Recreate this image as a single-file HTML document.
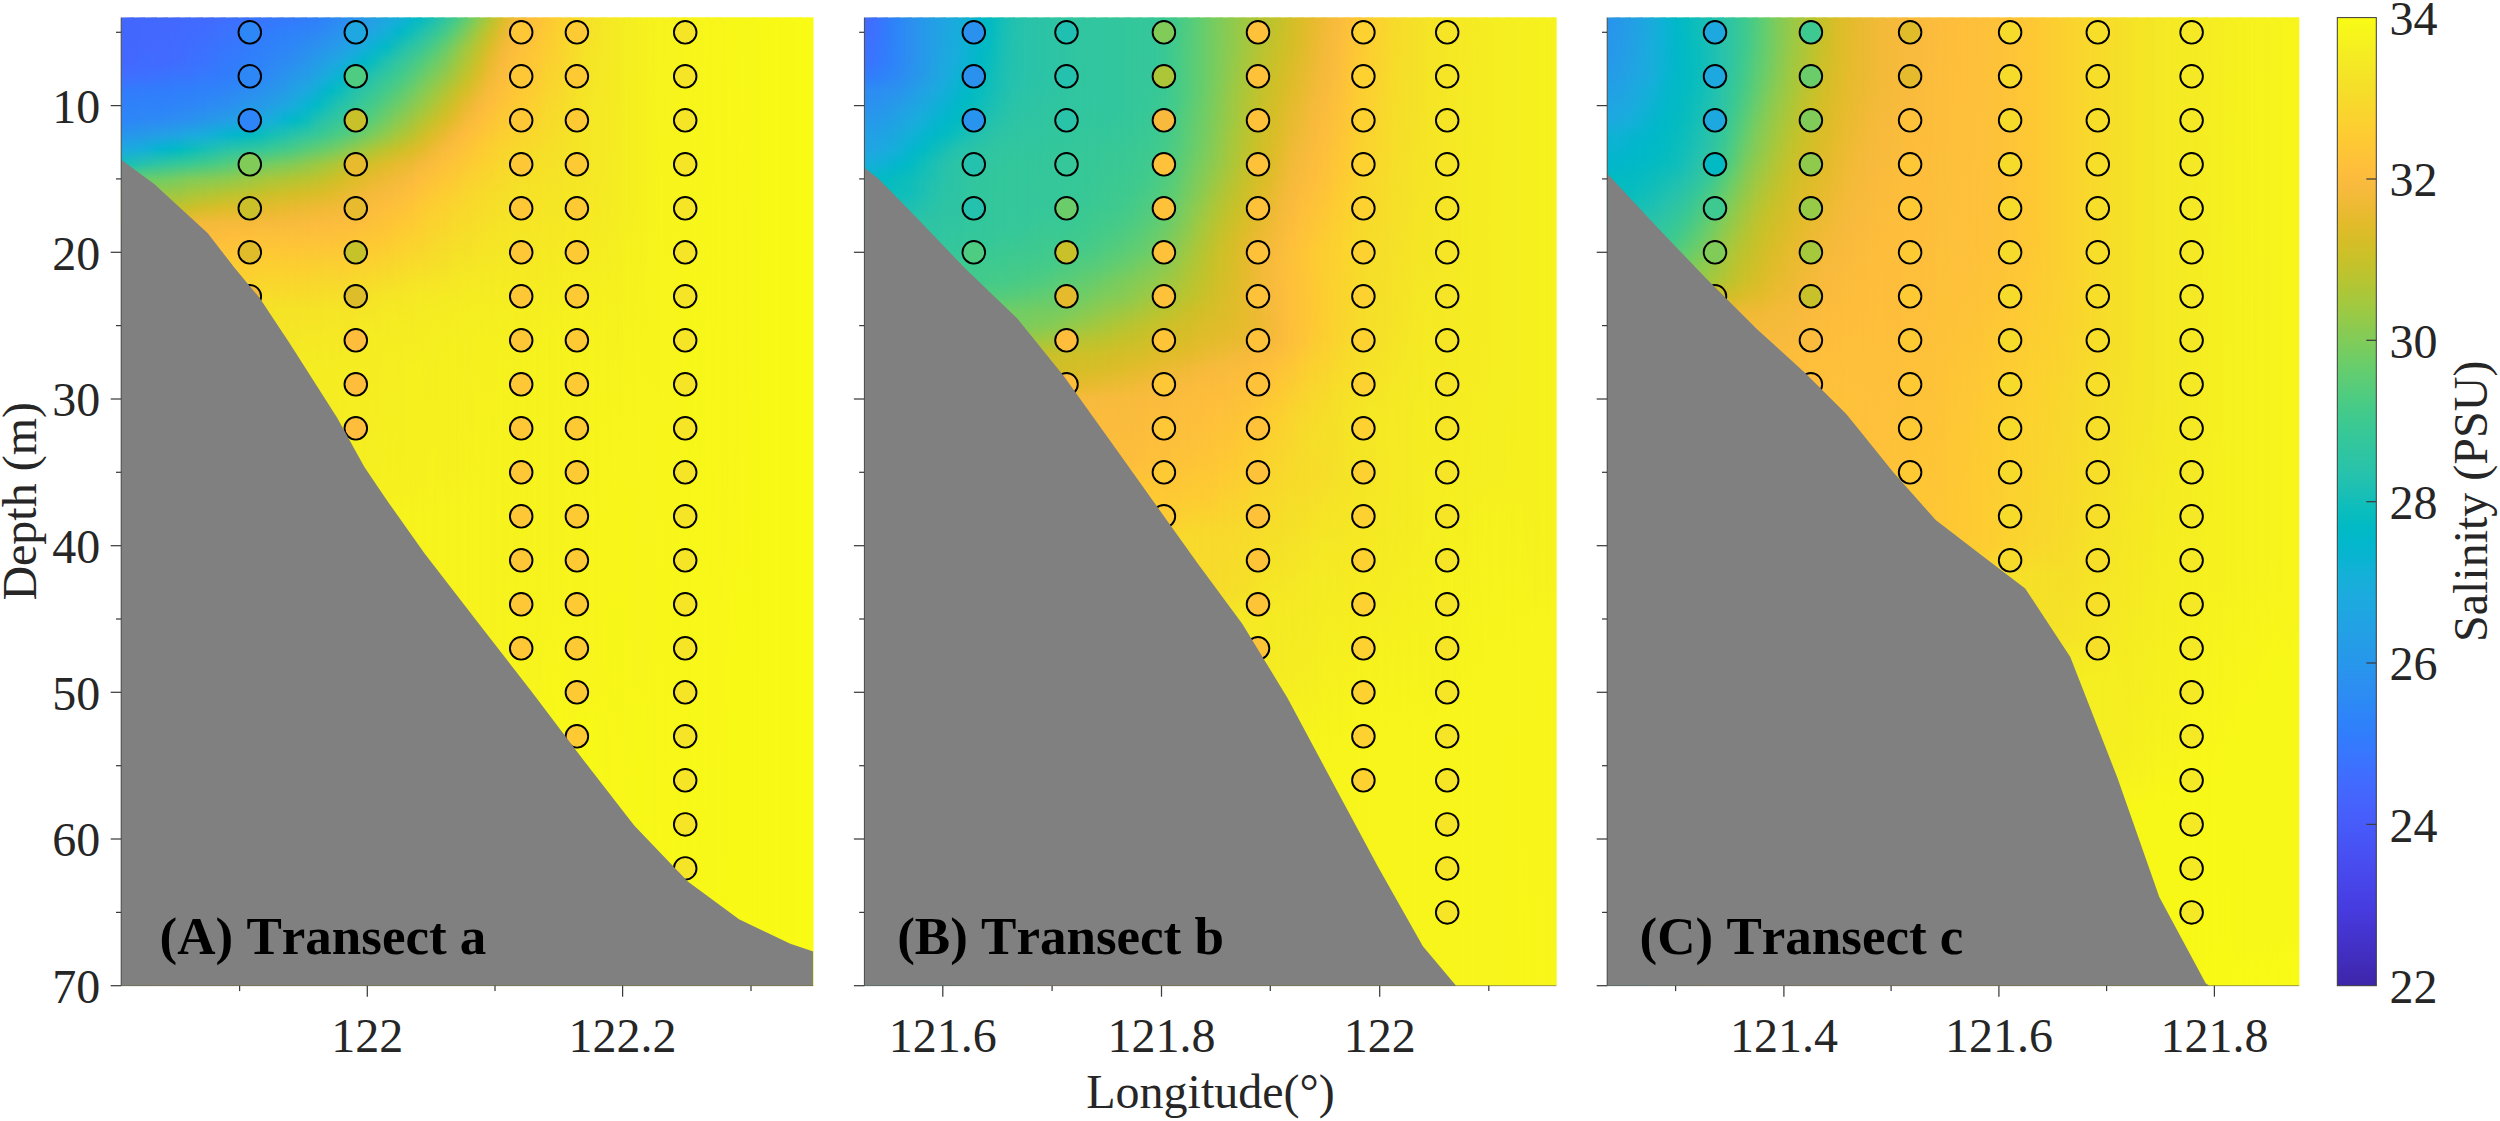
<!DOCTYPE html>
<html><head><meta charset="utf-8"><title>Salinity transects</title>
<style>html,body{margin:0;padding:0;background:#fff;overflow:hidden}svg{display:block}text{font-family:"Liberation Serif","Times New Roman",serif;font-kerning:none}</style></head><body>
<svg width="2500" height="1121" viewBox="0 0 2500 1121">
<defs>
<linearGradient id="hg" x1="0" y1="0" x2="1" y2="0"><stop offset="0" stop-color="#fff" stop-opacity="0"/><stop offset="1" stop-color="#fff" stop-opacity="1"/></linearGradient>
<mask id="hm" maskContentUnits="objectBoundingBox"><rect x="0" y="0" width="1" height="1" fill="url(#hg)"/></mask>
<linearGradient id="g0_0" gradientUnits="userSpaceOnUse" x1="0" y1="17.6" x2="0" y2="985.7">
<stop offset="0.0000" stop-color="#4367fd"/>
<stop offset="0.0455" stop-color="#4368fe"/>
<stop offset="0.0606" stop-color="#3f6fff"/>
<stop offset="0.0758" stop-color="#327cfc"/>
<stop offset="0.1061" stop-color="#2e86f7"/>
<stop offset="0.1212" stop-color="#2895ec"/>
<stop offset="0.1364" stop-color="#1caadf"/>
<stop offset="0.1515" stop-color="#15bfb7"/>
<stop offset="0.1667" stop-color="#62cd70"/>
<stop offset="0.1818" stop-color="#97ca47"/>
<stop offset="1.0000" stop-color="#97ca47"/>
</linearGradient>
<linearGradient id="g0_1" gradientUnits="userSpaceOnUse" x1="0" y1="17.6" x2="0" y2="985.7">
<stop offset="0.0000" stop-color="#4367fd"/>
<stop offset="0.0455" stop-color="#4368fe"/>
<stop offset="0.0606" stop-color="#3f6fff"/>
<stop offset="0.0758" stop-color="#327cfc"/>
<stop offset="0.1061" stop-color="#2d87f6"/>
<stop offset="0.1212" stop-color="#2797eb"/>
<stop offset="0.1364" stop-color="#19acdc"/>
<stop offset="0.1515" stop-color="#1fc0b2"/>
<stop offset="0.1667" stop-color="#66cd6d"/>
<stop offset="0.1818" stop-color="#97ca47"/>
<stop offset="0.1970" stop-color="#c2c22c"/>
<stop offset="1.0000" stop-color="#c2c22c"/>
</linearGradient>
<linearGradient id="g0_2" gradientUnits="userSpaceOnUse" x1="0" y1="17.6" x2="0" y2="985.7">
<stop offset="0.0000" stop-color="#4368fe"/>
<stop offset="0.0303" stop-color="#4368fe"/>
<stop offset="0.0606" stop-color="#3d70ff"/>
<stop offset="0.0758" stop-color="#317dfc"/>
<stop offset="0.1061" stop-color="#2d89f5"/>
<stop offset="0.1212" stop-color="#269ae8"/>
<stop offset="0.1364" stop-color="#15afd9"/>
<stop offset="0.1515" stop-color="#27c2ac"/>
<stop offset="0.1667" stop-color="#6acd6a"/>
<stop offset="0.1818" stop-color="#97ca47"/>
<stop offset="0.1970" stop-color="#c2c22c"/>
<stop offset="1.0000" stop-color="#c2c22c"/>
</linearGradient>
<linearGradient id="g0_3" gradientUnits="userSpaceOnUse" x1="0" y1="17.6" x2="0" y2="985.7">
<stop offset="0.0000" stop-color="#4368fe"/>
<stop offset="0.0455" stop-color="#426afe"/>
<stop offset="0.0606" stop-color="#3c72ff"/>
<stop offset="0.0758" stop-color="#317dfc"/>
<stop offset="0.0909" stop-color="#2f82fa"/>
<stop offset="0.1061" stop-color="#2d8af4"/>
<stop offset="0.1212" stop-color="#259de7"/>
<stop offset="0.1364" stop-color="#09b4d1"/>
<stop offset="0.1515" stop-color="#2ec4a4"/>
<stop offset="0.1667" stop-color="#6dcd67"/>
<stop offset="0.1818" stop-color="#97ca47"/>
<stop offset="0.1970" stop-color="#c2c22c"/>
<stop offset="0.2121" stop-color="#efba35"/>
<stop offset="1.0000" stop-color="#efba35"/>
</linearGradient>
<linearGradient id="g0_4" gradientUnits="userSpaceOnUse" x1="0" y1="17.6" x2="0" y2="985.7">
<stop offset="0.0000" stop-color="#4368fe"/>
<stop offset="0.0455" stop-color="#416bfe"/>
<stop offset="0.0758" stop-color="#317dfc"/>
<stop offset="0.0909" stop-color="#2e83f9"/>
<stop offset="0.1061" stop-color="#2d8cf3"/>
<stop offset="0.1212" stop-color="#23a1e5"/>
<stop offset="0.1364" stop-color="#02b7cb"/>
<stop offset="0.1515" stop-color="#32c69e"/>
<stop offset="0.1667" stop-color="#71cd64"/>
<stop offset="0.1818" stop-color="#9bc944"/>
<stop offset="0.1970" stop-color="#c2c22c"/>
<stop offset="0.2121" stop-color="#efba35"/>
<stop offset="0.2273" stop-color="#fcbd3d"/>
<stop offset="1.0000" stop-color="#fcbd3d"/>
</linearGradient>
<linearGradient id="g0_5" gradientUnits="userSpaceOnUse" x1="0" y1="17.6" x2="0" y2="985.7">
<stop offset="0.0000" stop-color="#4368fe"/>
<stop offset="0.0455" stop-color="#406dfe"/>
<stop offset="0.0758" stop-color="#307ffb"/>
<stop offset="0.0909" stop-color="#2e85f8"/>
<stop offset="0.1061" stop-color="#2c8ef1"/>
<stop offset="0.1212" stop-color="#20a4e3"/>
<stop offset="0.1364" stop-color="#02bac4"/>
<stop offset="0.1515" stop-color="#37c897"/>
<stop offset="0.1667" stop-color="#79cc5e"/>
<stop offset="0.1970" stop-color="#c5c22a"/>
<stop offset="0.2121" stop-color="#efba35"/>
<stop offset="0.2273" stop-color="#fcbd3d"/>
<stop offset="0.2424" stop-color="#fec438"/>
<stop offset="1.0000" stop-color="#fec438"/>
</linearGradient>
<linearGradient id="g0_6" gradientUnits="userSpaceOnUse" x1="0" y1="17.6" x2="0" y2="985.7">
<stop offset="0.0000" stop-color="#426afe"/>
<stop offset="0.0455" stop-color="#3d70ff"/>
<stop offset="0.0606" stop-color="#3875fe"/>
<stop offset="0.0758" stop-color="#2f80fa"/>
<stop offset="0.0909" stop-color="#2e86f7"/>
<stop offset="0.1061" stop-color="#2b91ef"/>
<stop offset="0.1212" stop-color="#1da9e0"/>
<stop offset="0.1364" stop-color="#0bbdbd"/>
<stop offset="0.1515" stop-color="#3bc993"/>
<stop offset="0.1667" stop-color="#81cc59"/>
<stop offset="0.1818" stop-color="#a6c83c"/>
<stop offset="0.1970" stop-color="#cbc029"/>
<stop offset="0.2121" stop-color="#f1ba37"/>
<stop offset="0.2273" stop-color="#fcbd3d"/>
<stop offset="0.2424" stop-color="#fec438"/>
<stop offset="1.0000" stop-color="#fec438"/>
</linearGradient>
<linearGradient id="g0_7" gradientUnits="userSpaceOnUse" x1="0" y1="17.6" x2="0" y2="985.7">
<stop offset="0.0000" stop-color="#426afe"/>
<stop offset="0.0455" stop-color="#3c72ff"/>
<stop offset="0.0758" stop-color="#2f82fa"/>
<stop offset="0.0909" stop-color="#2d89f5"/>
<stop offset="0.1061" stop-color="#2895ec"/>
<stop offset="0.1212" stop-color="#19acdc"/>
<stop offset="0.1364" stop-color="#15bfb7"/>
<stop offset="0.1515" stop-color="#42ca8b"/>
<stop offset="0.1667" stop-color="#84cb56"/>
<stop offset="0.1818" stop-color="#adc638"/>
<stop offset="0.1970" stop-color="#d4be28"/>
<stop offset="0.2121" stop-color="#f3ba39"/>
<stop offset="0.2273" stop-color="#fcbd3d"/>
<stop offset="0.2424" stop-color="#fec438"/>
<stop offset="0.2576" stop-color="#feca33"/>
<stop offset="1.0000" stop-color="#feca33"/>
</linearGradient>
<linearGradient id="g0_8" gradientUnits="userSpaceOnUse" x1="0" y1="17.6" x2="0" y2="985.7">
<stop offset="0.0000" stop-color="#416bfe"/>
<stop offset="0.0606" stop-color="#347afd"/>
<stop offset="0.0758" stop-color="#2e83f9"/>
<stop offset="0.0909" stop-color="#2d8cf3"/>
<stop offset="0.1061" stop-color="#2699e9"/>
<stop offset="0.1212" stop-color="#13b0d7"/>
<stop offset="0.1364" stop-color="#1fc0b2"/>
<stop offset="0.1515" stop-color="#48cb86"/>
<stop offset="0.1667" stop-color="#88cb53"/>
<stop offset="0.1818" stop-color="#b1c635"/>
<stop offset="0.1970" stop-color="#d7be28"/>
<stop offset="0.2121" stop-color="#f3ba39"/>
<stop offset="0.2273" stop-color="#fcbd3d"/>
<stop offset="0.2424" stop-color="#fec438"/>
<stop offset="0.2727" stop-color="#fcd130"/>
<stop offset="1.0000" stop-color="#fcd130"/>
</linearGradient>
<linearGradient id="g0_9" gradientUnits="userSpaceOnUse" x1="0" y1="17.6" x2="0" y2="985.7">
<stop offset="0.0000" stop-color="#3f6fff"/>
<stop offset="0.0606" stop-color="#317dfc"/>
<stop offset="0.0909" stop-color="#2c8ef1"/>
<stop offset="0.1061" stop-color="#259de7"/>
<stop offset="0.1212" stop-color="#09b4d1"/>
<stop offset="0.1364" stop-color="#29c3aa"/>
<stop offset="0.1515" stop-color="#52cc7e"/>
<stop offset="0.1667" stop-color="#8ccb50"/>
<stop offset="0.1818" stop-color="#b8c431"/>
<stop offset="0.1970" stop-color="#ddbd29"/>
<stop offset="0.2121" stop-color="#f6ba3b"/>
<stop offset="0.2273" stop-color="#febe3c"/>
<stop offset="0.2727" stop-color="#fcd130"/>
<stop offset="0.2879" stop-color="#f8d92c"/>
<stop offset="1.0000" stop-color="#f8d92c"/>
</linearGradient>
<linearGradient id="g0_10" gradientUnits="userSpaceOnUse" x1="0" y1="17.6" x2="0" y2="985.7">
<stop offset="0.0000" stop-color="#3d70ff"/>
<stop offset="0.0606" stop-color="#2f80fa"/>
<stop offset="0.0909" stop-color="#2a93ee"/>
<stop offset="0.1061" stop-color="#22a2e4"/>
<stop offset="0.1212" stop-color="#02b7cb"/>
<stop offset="0.1364" stop-color="#2ec4a4"/>
<stop offset="0.1515" stop-color="#5ccc76"/>
<stop offset="0.1667" stop-color="#94ca4a"/>
<stop offset="0.1818" stop-color="#bbc42f"/>
<stop offset="0.1970" stop-color="#ddbd29"/>
<stop offset="0.2121" stop-color="#f6ba3b"/>
<stop offset="0.2273" stop-color="#febf3b"/>
<stop offset="0.2576" stop-color="#fdcd31"/>
<stop offset="0.2727" stop-color="#fbd22f"/>
<stop offset="0.3030" stop-color="#f5e327"/>
<stop offset="1.0000" stop-color="#f5e327"/>
</linearGradient>
<linearGradient id="g0_11" gradientUnits="userSpaceOnUse" x1="0" y1="17.6" x2="0" y2="985.7">
<stop offset="0.0000" stop-color="#3c72ff"/>
<stop offset="0.0303" stop-color="#327cfc"/>
<stop offset="0.0606" stop-color="#2e83f9"/>
<stop offset="0.0758" stop-color="#2d8df2"/>
<stop offset="0.0909" stop-color="#2797eb"/>
<stop offset="0.1061" stop-color="#1fa5e2"/>
<stop offset="0.1212" stop-color="#02bac4"/>
<stop offset="0.1364" stop-color="#31c6a0"/>
<stop offset="0.1515" stop-color="#62cd70"/>
<stop offset="0.1667" stop-color="#9bc944"/>
<stop offset="0.1818" stop-color="#bfc32e"/>
<stop offset="0.1970" stop-color="#e0bc2a"/>
<stop offset="0.2121" stop-color="#f6ba3b"/>
<stop offset="0.2273" stop-color="#febf3b"/>
<stop offset="0.2424" stop-color="#fec834"/>
<stop offset="0.2727" stop-color="#fbd22f"/>
<stop offset="0.3030" stop-color="#f5e327"/>
<stop offset="0.3182" stop-color="#f5e526"/>
<stop offset="1.0000" stop-color="#f5e526"/>
</linearGradient>
<linearGradient id="g0_12" gradientUnits="userSpaceOnUse" x1="0" y1="17.6" x2="0" y2="985.7">
<stop offset="0.0000" stop-color="#3a74fe"/>
<stop offset="0.0303" stop-color="#307ffb"/>
<stop offset="0.0455" stop-color="#2f82fa"/>
<stop offset="0.0606" stop-color="#2d87f6"/>
<stop offset="0.0909" stop-color="#269ae8"/>
<stop offset="0.1061" stop-color="#1caadf"/>
<stop offset="0.1212" stop-color="#08bcbe"/>
<stop offset="0.1364" stop-color="#35c79a"/>
<stop offset="0.1515" stop-color="#6dcd67"/>
<stop offset="0.1667" stop-color="#a2c83f"/>
<stop offset="0.1818" stop-color="#c5c22a"/>
<stop offset="0.1970" stop-color="#e2bc2b"/>
<stop offset="0.2121" stop-color="#f8ba3d"/>
<stop offset="0.2273" stop-color="#fec13a"/>
<stop offset="0.2576" stop-color="#fccf30"/>
<stop offset="0.3030" stop-color="#f5e327"/>
<stop offset="0.3333" stop-color="#f5e625"/>
<stop offset="1.0000" stop-color="#f5e625"/>
</linearGradient>
<linearGradient id="g0_13" gradientUnits="userSpaceOnUse" x1="0" y1="17.6" x2="0" y2="985.7">
<stop offset="0.0000" stop-color="#3777fe"/>
<stop offset="0.0152" stop-color="#317dfc"/>
<stop offset="0.0606" stop-color="#2d8cf3"/>
<stop offset="0.0909" stop-color="#249fe5"/>
<stop offset="0.1061" stop-color="#17aeda"/>
<stop offset="0.1212" stop-color="#15bfb7"/>
<stop offset="0.1364" stop-color="#3bc993"/>
<stop offset="0.1515" stop-color="#75cc61"/>
<stop offset="0.1667" stop-color="#aac73a"/>
<stop offset="0.1818" stop-color="#cbc029"/>
<stop offset="0.1970" stop-color="#e5bb2d"/>
<stop offset="0.2121" stop-color="#f8ba3d"/>
<stop offset="0.2273" stop-color="#fec13a"/>
<stop offset="0.2576" stop-color="#fccf30"/>
<stop offset="0.3030" stop-color="#f5e327"/>
<stop offset="0.3485" stop-color="#f5ea24"/>
<stop offset="1.0000" stop-color="#f5ea24"/>
</linearGradient>
<linearGradient id="g0_14" gradientUnits="userSpaceOnUse" x1="0" y1="17.6" x2="0" y2="985.7">
<stop offset="0.0000" stop-color="#3578fd"/>
<stop offset="0.0152" stop-color="#2f80fa"/>
<stop offset="0.0455" stop-color="#2d8af4"/>
<stop offset="0.0758" stop-color="#269ae8"/>
<stop offset="0.0909" stop-color="#1fa5e2"/>
<stop offset="0.1061" stop-color="#09b4d1"/>
<stop offset="0.1212" stop-color="#1fc0b2"/>
<stop offset="0.1364" stop-color="#42ca8b"/>
<stop offset="0.1515" stop-color="#7dcc5c"/>
<stop offset="0.1667" stop-color="#adc638"/>
<stop offset="0.1818" stop-color="#cfc028"/>
<stop offset="0.1970" stop-color="#e8bb2e"/>
<stop offset="0.2121" stop-color="#f8ba3d"/>
<stop offset="0.2273" stop-color="#fec13a"/>
<stop offset="0.2576" stop-color="#fccf30"/>
<stop offset="0.3030" stop-color="#f5e327"/>
<stop offset="0.3788" stop-color="#f5ed22"/>
<stop offset="1.0000" stop-color="#f5ed22"/>
</linearGradient>
<linearGradient id="g0_15" gradientUnits="userSpaceOnUse" x1="0" y1="17.6" x2="0" y2="985.7">
<stop offset="0.0000" stop-color="#347afd"/>
<stop offset="0.0152" stop-color="#2f82fa"/>
<stop offset="0.0455" stop-color="#2c8ef1"/>
<stop offset="0.0758" stop-color="#22a2e4"/>
<stop offset="0.0909" stop-color="#18addb"/>
<stop offset="0.1061" stop-color="#01b9c7"/>
<stop offset="0.1212" stop-color="#29c3aa"/>
<stop offset="0.1364" stop-color="#4bcb84"/>
<stop offset="0.1515" stop-color="#84cb56"/>
<stop offset="0.1667" stop-color="#b4c533"/>
<stop offset="0.1818" stop-color="#d4be28"/>
<stop offset="0.1970" stop-color="#eaba31"/>
<stop offset="0.2121" stop-color="#f9bb3d"/>
<stop offset="0.2273" stop-color="#fec13a"/>
<stop offset="0.2576" stop-color="#fccf30"/>
<stop offset="0.3030" stop-color="#f5e327"/>
<stop offset="0.3939" stop-color="#f5ee21"/>
<stop offset="1.0000" stop-color="#f5ee21"/>
</linearGradient>
<linearGradient id="g0_16" gradientUnits="userSpaceOnUse" x1="0" y1="17.6" x2="0" y2="985.7">
<stop offset="0.0000" stop-color="#327cfc"/>
<stop offset="0.0606" stop-color="#259de7"/>
<stop offset="0.0758" stop-color="#1da9e0"/>
<stop offset="0.0909" stop-color="#09b4d1"/>
<stop offset="0.1061" stop-color="#0bbdbd"/>
<stop offset="0.1212" stop-color="#31c6a0"/>
<stop offset="0.1364" stop-color="#58cc79"/>
<stop offset="0.1515" stop-color="#90ca4d"/>
<stop offset="0.1667" stop-color="#b8c431"/>
<stop offset="0.1818" stop-color="#d7be28"/>
<stop offset="0.1970" stop-color="#ecba33"/>
<stop offset="0.2121" stop-color="#f9bb3d"/>
<stop offset="0.2273" stop-color="#fec13a"/>
<stop offset="0.2576" stop-color="#fccf30"/>
<stop offset="0.3030" stop-color="#f5e327"/>
<stop offset="0.3485" stop-color="#f5eb23"/>
<stop offset="0.3939" stop-color="#f5ee21"/>
<stop offset="1.0000" stop-color="#f5ee21"/>
</linearGradient>
<linearGradient id="g0_17" gradientUnits="userSpaceOnUse" x1="0" y1="17.6" x2="0" y2="985.7">
<stop offset="0.0000" stop-color="#307ffb"/>
<stop offset="0.0303" stop-color="#2b91ef"/>
<stop offset="0.0606" stop-color="#1fa5e2"/>
<stop offset="0.0909" stop-color="#01bac6"/>
<stop offset="0.1061" stop-color="#22c1b0"/>
<stop offset="0.1212" stop-color="#37c897"/>
<stop offset="0.1364" stop-color="#62cd70"/>
<stop offset="0.1515" stop-color="#9bc944"/>
<stop offset="0.1667" stop-color="#bfc32e"/>
<stop offset="0.1818" stop-color="#dabd28"/>
<stop offset="0.1970" stop-color="#efba35"/>
<stop offset="0.2121" stop-color="#fbbc3d"/>
<stop offset="0.2273" stop-color="#fec13a"/>
<stop offset="0.2727" stop-color="#f9d72c"/>
<stop offset="0.3030" stop-color="#f5e327"/>
<stop offset="0.3485" stop-color="#f5eb23"/>
<stop offset="0.3939" stop-color="#f5ee21"/>
<stop offset="1.0000" stop-color="#f5ee21"/>
</linearGradient>
<linearGradient id="g0_18" gradientUnits="userSpaceOnUse" x1="0" y1="17.6" x2="0" y2="985.7">
<stop offset="0.0000" stop-color="#2e85f8"/>
<stop offset="0.0152" stop-color="#2d8df2"/>
<stop offset="0.0455" stop-color="#22a2e4"/>
<stop offset="0.0606" stop-color="#17aeda"/>
<stop offset="0.0758" stop-color="#01b8c9"/>
<stop offset="0.0909" stop-color="#15bfb7"/>
<stop offset="0.1061" stop-color="#2ec4a4"/>
<stop offset="0.1212" stop-color="#42ca8b"/>
<stop offset="0.1364" stop-color="#6dcd67"/>
<stop offset="0.1515" stop-color="#a6c83c"/>
<stop offset="0.1667" stop-color="#c8c129"/>
<stop offset="0.1818" stop-color="#e0bc2a"/>
<stop offset="0.1970" stop-color="#f1ba37"/>
<stop offset="0.2121" stop-color="#fbbc3d"/>
<stop offset="0.2273" stop-color="#fec13a"/>
<stop offset="0.2879" stop-color="#f6e028"/>
<stop offset="0.3030" stop-color="#f5e526"/>
<stop offset="0.3636" stop-color="#f5ed22"/>
<stop offset="1.0000" stop-color="#f5ee21"/>
</linearGradient>
<linearGradient id="g0_19" gradientUnits="userSpaceOnUse" x1="0" y1="17.6" x2="0" y2="985.7">
<stop offset="0.0000" stop-color="#2d8af4"/>
<stop offset="0.0303" stop-color="#259de7"/>
<stop offset="0.0455" stop-color="#1da9e0"/>
<stop offset="0.0606" stop-color="#07b5d0"/>
<stop offset="0.0758" stop-color="#0bbdbd"/>
<stop offset="0.0909" stop-color="#27c2ac"/>
<stop offset="0.1061" stop-color="#35c79a"/>
<stop offset="0.1212" stop-color="#4ecc81"/>
<stop offset="0.1364" stop-color="#7dcc5c"/>
<stop offset="0.1515" stop-color="#b4c533"/>
<stop offset="0.1667" stop-color="#d2bf27"/>
<stop offset="0.1818" stop-color="#e5bb2d"/>
<stop offset="0.1970" stop-color="#f3ba39"/>
<stop offset="0.2121" stop-color="#fcbd3d"/>
<stop offset="0.2273" stop-color="#fec239"/>
<stop offset="0.3030" stop-color="#f5e526"/>
<stop offset="0.3636" stop-color="#f5ed22"/>
<stop offset="1.0000" stop-color="#f5ee21"/>
</linearGradient>
<linearGradient id="g0_20" gradientUnits="userSpaceOnUse" x1="0" y1="17.6" x2="0" y2="985.7">
<stop offset="0.0000" stop-color="#2b91ef"/>
<stop offset="0.0303" stop-color="#20a4e3"/>
<stop offset="0.0455" stop-color="#11b1d6"/>
<stop offset="0.0606" stop-color="#03bbc2"/>
<stop offset="0.0758" stop-color="#22c1b0"/>
<stop offset="0.1061" stop-color="#3fca8e"/>
<stop offset="0.1212" stop-color="#5ccc76"/>
<stop offset="0.1364" stop-color="#90ca4d"/>
<stop offset="0.1515" stop-color="#c2c22c"/>
<stop offset="0.1667" stop-color="#ddbd29"/>
<stop offset="0.1970" stop-color="#f6ba3b"/>
<stop offset="0.2121" stop-color="#fcbd3d"/>
<stop offset="0.2424" stop-color="#feca33"/>
<stop offset="0.2879" stop-color="#f6e028"/>
<stop offset="0.3485" stop-color="#f5ed22"/>
<stop offset="0.4848" stop-color="#f6f01f"/>
<stop offset="1.0000" stop-color="#f6f01f"/>
</linearGradient>
<linearGradient id="g0_21" gradientUnits="userSpaceOnUse" x1="0" y1="17.6" x2="0" y2="985.7">
<stop offset="0.0000" stop-color="#2798ea"/>
<stop offset="0.0152" stop-color="#23a1e5"/>
<stop offset="0.0303" stop-color="#19acdc"/>
<stop offset="0.0455" stop-color="#02b7cb"/>
<stop offset="0.0606" stop-color="#19bfb5"/>
<stop offset="0.0758" stop-color="#2ec4a4"/>
<stop offset="0.0909" stop-color="#3bc993"/>
<stop offset="0.1061" stop-color="#4ecc81"/>
<stop offset="0.1212" stop-color="#6dcd67"/>
<stop offset="0.1364" stop-color="#9fc942"/>
<stop offset="0.1515" stop-color="#cfc028"/>
<stop offset="0.1667" stop-color="#e2bc2b"/>
<stop offset="0.1818" stop-color="#f1ba37"/>
<stop offset="0.1970" stop-color="#f9bb3d"/>
<stop offset="0.2121" stop-color="#febe3c"/>
<stop offset="0.2424" stop-color="#fdcc32"/>
<stop offset="0.2879" stop-color="#f5e128"/>
<stop offset="0.3182" stop-color="#f5ea24"/>
<stop offset="0.3485" stop-color="#f5ed22"/>
<stop offset="0.4697" stop-color="#f5ee21"/>
<stop offset="0.5152" stop-color="#f6f21e"/>
<stop offset="1.0000" stop-color="#f6f21e"/>
</linearGradient>
<linearGradient id="g0_22" gradientUnits="userSpaceOnUse" x1="0" y1="17.6" x2="0" y2="985.7">
<stop offset="0.0000" stop-color="#249fe5"/>
<stop offset="0.0152" stop-color="#1ea8e0"/>
<stop offset="0.0303" stop-color="#09b4d1"/>
<stop offset="0.0455" stop-color="#0bbdbd"/>
<stop offset="0.0606" stop-color="#2bc3a8"/>
<stop offset="0.0758" stop-color="#37c897"/>
<stop offset="0.0909" stop-color="#48cb86"/>
<stop offset="0.1061" stop-color="#5fcd73"/>
<stop offset="0.1212" stop-color="#81cc59"/>
<stop offset="0.1364" stop-color="#b1c635"/>
<stop offset="0.1515" stop-color="#d7be28"/>
<stop offset="0.1667" stop-color="#eaba31"/>
<stop offset="0.1818" stop-color="#f6ba3b"/>
<stop offset="0.1970" stop-color="#fcbd3d"/>
<stop offset="0.2424" stop-color="#fdcd31"/>
<stop offset="0.2879" stop-color="#f5e327"/>
<stop offset="0.3333" stop-color="#f5ed22"/>
<stop offset="0.4545" stop-color="#f5ee21"/>
<stop offset="0.5303" stop-color="#f7f31d"/>
<stop offset="1.0000" stop-color="#f7f31d"/>
</linearGradient>
<linearGradient id="g0_23" gradientUnits="userSpaceOnUse" x1="0" y1="17.6" x2="0" y2="985.7">
<stop offset="0.0000" stop-color="#1ea7e1"/>
<stop offset="0.0152" stop-color="#13b0d7"/>
<stop offset="0.0303" stop-color="#02bac4"/>
<stop offset="0.0455" stop-color="#24c2ae"/>
<stop offset="0.0758" stop-color="#45cb89"/>
<stop offset="0.1061" stop-color="#75cc61"/>
<stop offset="0.1212" stop-color="#94ca4a"/>
<stop offset="0.1364" stop-color="#bfc32e"/>
<stop offset="0.1515" stop-color="#e0bc2a"/>
<stop offset="0.1667" stop-color="#efba35"/>
<stop offset="0.1818" stop-color="#f9bb3d"/>
<stop offset="0.1970" stop-color="#febf3b"/>
<stop offset="0.2273" stop-color="#fec834"/>
<stop offset="0.2727" stop-color="#f6de29"/>
<stop offset="0.3030" stop-color="#f5ea24"/>
<stop offset="0.3485" stop-color="#f5ee21"/>
<stop offset="0.4848" stop-color="#f6f01f"/>
<stop offset="0.5152" stop-color="#f7f31d"/>
<stop offset="1.0000" stop-color="#f7f31d"/>
</linearGradient>
<linearGradient id="g0_24" gradientUnits="userSpaceOnUse" x1="0" y1="17.6" x2="0" y2="985.7">
<stop offset="0.0000" stop-color="#18addb"/>
<stop offset="0.0152" stop-color="#03b6cc"/>
<stop offset="0.0455" stop-color="#31c6a0"/>
<stop offset="0.0606" stop-color="#3fca8e"/>
<stop offset="0.0909" stop-color="#6dcd67"/>
<stop offset="0.1212" stop-color="#a6c83c"/>
<stop offset="0.1364" stop-color="#cbc029"/>
<stop offset="0.1515" stop-color="#e8bb2e"/>
<stop offset="0.1667" stop-color="#f3ba39"/>
<stop offset="0.1818" stop-color="#fcbd3d"/>
<stop offset="0.2121" stop-color="#fec735"/>
<stop offset="0.2879" stop-color="#f5e625"/>
<stop offset="0.3182" stop-color="#f5ed22"/>
<stop offset="0.4848" stop-color="#f6f01f"/>
<stop offset="0.5152" stop-color="#f7f31d"/>
<stop offset="1.0000" stop-color="#f7f31d"/>
</linearGradient>
<linearGradient id="g0_25" gradientUnits="userSpaceOnUse" x1="0" y1="17.6" x2="0" y2="985.7">
<stop offset="0.0000" stop-color="#07b5d0"/>
<stop offset="0.0152" stop-color="#0bbdbd"/>
<stop offset="0.0303" stop-color="#2cc4a6"/>
<stop offset="0.0606" stop-color="#52cc7e"/>
<stop offset="0.0758" stop-color="#6acd6a"/>
<stop offset="0.1212" stop-color="#b8c431"/>
<stop offset="0.1364" stop-color="#d7be28"/>
<stop offset="0.1515" stop-color="#ecba33"/>
<stop offset="0.1667" stop-color="#f9bb3d"/>
<stop offset="0.1818" stop-color="#febf3b"/>
<stop offset="0.2121" stop-color="#feca33"/>
<stop offset="0.2879" stop-color="#f5e825"/>
<stop offset="0.3636" stop-color="#f6f01f"/>
<stop offset="0.4848" stop-color="#f6f01f"/>
<stop offset="0.5152" stop-color="#f7f31d"/>
<stop offset="1.0000" stop-color="#f7f31d"/>
</linearGradient>
<linearGradient id="g0_26" gradientUnits="userSpaceOnUse" x1="0" y1="17.6" x2="0" y2="985.7">
<stop offset="0.0000" stop-color="#02bac4"/>
<stop offset="0.0152" stop-color="#22c1b0"/>
<stop offset="0.0455" stop-color="#4ecc81"/>
<stop offset="0.0758" stop-color="#81cc59"/>
<stop offset="0.0909" stop-color="#97ca47"/>
<stop offset="0.1061" stop-color="#b1c635"/>
<stop offset="0.1212" stop-color="#cbc029"/>
<stop offset="0.1364" stop-color="#e2bc2b"/>
<stop offset="0.1515" stop-color="#f6ba3b"/>
<stop offset="0.1667" stop-color="#febe3c"/>
<stop offset="0.1970" stop-color="#feca33"/>
<stop offset="0.2424" stop-color="#f9d72c"/>
<stop offset="0.2879" stop-color="#f5ea24"/>
<stop offset="0.3636" stop-color="#f6f01f"/>
<stop offset="0.4697" stop-color="#f6f01f"/>
<stop offset="0.5152" stop-color="#f7f31d"/>
<stop offset="1.0000" stop-color="#f7f31d"/>
</linearGradient>
<linearGradient id="g0_27" gradientUnits="userSpaceOnUse" x1="0" y1="17.6" x2="0" y2="985.7">
<stop offset="0.0000" stop-color="#19bfb5"/>
<stop offset="0.0303" stop-color="#4bcb84"/>
<stop offset="0.0455" stop-color="#66cd6d"/>
<stop offset="0.0758" stop-color="#97ca47"/>
<stop offset="0.1061" stop-color="#c5c22a"/>
<stop offset="0.1212" stop-color="#ddbd29"/>
<stop offset="0.1364" stop-color="#efba35"/>
<stop offset="0.1515" stop-color="#fbbc3d"/>
<stop offset="0.1667" stop-color="#fec239"/>
<stop offset="0.1970" stop-color="#fccf30"/>
<stop offset="0.2424" stop-color="#f7db2b"/>
<stop offset="0.3030" stop-color="#f5ed22"/>
<stop offset="0.5152" stop-color="#f7f31d"/>
<stop offset="1.0000" stop-color="#f7f31d"/>
</linearGradient>
<linearGradient id="g0_28" gradientUnits="userSpaceOnUse" x1="0" y1="17.6" x2="0" y2="985.7">
<stop offset="0.0000" stop-color="#2ec4a4"/>
<stop offset="0.0152" stop-color="#42ca8b"/>
<stop offset="0.0303" stop-color="#62cd70"/>
<stop offset="0.0758" stop-color="#adc638"/>
<stop offset="0.0909" stop-color="#c2c22c"/>
<stop offset="0.1061" stop-color="#d7be28"/>
<stop offset="0.1212" stop-color="#eaba31"/>
<stop offset="0.1364" stop-color="#f9bb3d"/>
<stop offset="0.1515" stop-color="#fec13a"/>
<stop offset="0.1818" stop-color="#fdcd31"/>
<stop offset="0.2576" stop-color="#f5e128"/>
<stop offset="0.2879" stop-color="#f5eb23"/>
<stop offset="0.3485" stop-color="#f6f01f"/>
<stop offset="0.4697" stop-color="#f6f01f"/>
<stop offset="0.5000" stop-color="#f7f31d"/>
<stop offset="1.0000" stop-color="#f7f31d"/>
</linearGradient>
<linearGradient id="g0_29" gradientUnits="userSpaceOnUse" x1="0" y1="17.6" x2="0" y2="985.7">
<stop offset="0.0000" stop-color="#42ca8b"/>
<stop offset="0.0152" stop-color="#62cd70"/>
<stop offset="0.0303" stop-color="#84cb56"/>
<stop offset="0.0455" stop-color="#9bc944"/>
<stop offset="0.0606" stop-color="#adc638"/>
<stop offset="0.0758" stop-color="#c5c22a"/>
<stop offset="0.0909" stop-color="#d7be28"/>
<stop offset="0.1061" stop-color="#e8bb2e"/>
<stop offset="0.1212" stop-color="#f8ba3d"/>
<stop offset="0.1364" stop-color="#febf3b"/>
<stop offset="0.1970" stop-color="#fad62d"/>
<stop offset="0.2576" stop-color="#f5e526"/>
<stop offset="0.3030" stop-color="#f5ed22"/>
<stop offset="0.3485" stop-color="#f6f01f"/>
<stop offset="0.4697" stop-color="#f6f01f"/>
<stop offset="0.5000" stop-color="#f7f31d"/>
<stop offset="1.0000" stop-color="#f7f31d"/>
</linearGradient>
<linearGradient id="g0_30" gradientUnits="userSpaceOnUse" x1="0" y1="17.6" x2="0" y2="985.7">
<stop offset="0.0000" stop-color="#62cd70"/>
<stop offset="0.0303" stop-color="#a2c83f"/>
<stop offset="0.0606" stop-color="#c5c22a"/>
<stop offset="0.0758" stop-color="#d7be28"/>
<stop offset="0.0909" stop-color="#eaba31"/>
<stop offset="0.1061" stop-color="#f6ba3b"/>
<stop offset="0.1212" stop-color="#febe3c"/>
<stop offset="0.1818" stop-color="#fad62d"/>
<stop offset="0.2424" stop-color="#f5e128"/>
<stop offset="0.2727" stop-color="#f5ea24"/>
<stop offset="0.3030" stop-color="#f5ee21"/>
<stop offset="0.5000" stop-color="#f7f31d"/>
<stop offset="1.0000" stop-color="#f7f31d"/>
</linearGradient>
<linearGradient id="g0_31" gradientUnits="userSpaceOnUse" x1="0" y1="17.6" x2="0" y2="985.7">
<stop offset="0.0000" stop-color="#8ccb50"/>
<stop offset="0.0152" stop-color="#aac73a"/>
<stop offset="0.0303" stop-color="#bfc32e"/>
<stop offset="0.0455" stop-color="#cfc028"/>
<stop offset="0.0606" stop-color="#ddbd29"/>
<stop offset="0.0909" stop-color="#f8ba3d"/>
<stop offset="0.1061" stop-color="#febe3c"/>
<stop offset="0.1364" stop-color="#feca33"/>
<stop offset="0.1818" stop-color="#f8d92c"/>
<stop offset="0.2879" stop-color="#f5ed22"/>
<stop offset="0.3333" stop-color="#f6f01f"/>
<stop offset="0.5000" stop-color="#f7f31d"/>
<stop offset="1.0000" stop-color="#f7f31d"/>
</linearGradient>
<linearGradient id="g0_32" gradientUnits="userSpaceOnUse" x1="0" y1="17.6" x2="0" y2="985.7">
<stop offset="0.0000" stop-color="#b1c635"/>
<stop offset="0.0152" stop-color="#c8c129"/>
<stop offset="0.0303" stop-color="#dabd28"/>
<stop offset="0.0455" stop-color="#e8bb2e"/>
<stop offset="0.0758" stop-color="#f9bb3d"/>
<stop offset="0.0909" stop-color="#febe3c"/>
<stop offset="0.1364" stop-color="#fccf30"/>
<stop offset="0.1818" stop-color="#f7dc2a"/>
<stop offset="0.2727" stop-color="#f5eb23"/>
<stop offset="0.3333" stop-color="#f6f01f"/>
<stop offset="0.4848" stop-color="#f7f31d"/>
<stop offset="1.0000" stop-color="#f7f31d"/>
</linearGradient>
<linearGradient id="g0_33" gradientUnits="userSpaceOnUse" x1="0" y1="17.6" x2="0" y2="985.7">
<stop offset="0.0000" stop-color="#d7be28"/>
<stop offset="0.0152" stop-color="#e5bb2d"/>
<stop offset="0.0303" stop-color="#f1ba37"/>
<stop offset="0.0455" stop-color="#f8ba3d"/>
<stop offset="0.0758" stop-color="#febf3b"/>
<stop offset="0.1364" stop-color="#fad42e"/>
<stop offset="0.1970" stop-color="#f5e128"/>
<stop offset="0.2879" stop-color="#f5ed22"/>
<stop offset="0.3636" stop-color="#f6f21e"/>
<stop offset="1.0000" stop-color="#f7f31d"/>
</linearGradient>
<linearGradient id="g0_34" gradientUnits="userSpaceOnUse" x1="0" y1="17.6" x2="0" y2="985.7">
<stop offset="0.0000" stop-color="#efba35"/>
<stop offset="0.0152" stop-color="#f8ba3d"/>
<stop offset="0.0455" stop-color="#febf3b"/>
<stop offset="0.0909" stop-color="#fec834"/>
<stop offset="0.1364" stop-color="#f9d72c"/>
<stop offset="0.1818" stop-color="#f5e128"/>
<stop offset="0.3182" stop-color="#f6f01f"/>
<stop offset="0.7121" stop-color="#f7f51b"/>
<stop offset="1.0000" stop-color="#f7f51b"/>
</linearGradient>
<linearGradient id="g0_35" gradientUnits="userSpaceOnUse" x1="0" y1="17.6" x2="0" y2="985.7">
<stop offset="0.0000" stop-color="#fcbd3d"/>
<stop offset="0.0758" stop-color="#feca33"/>
<stop offset="0.1515" stop-color="#f6de29"/>
<stop offset="0.1818" stop-color="#f5e327"/>
<stop offset="0.3485" stop-color="#f6f21e"/>
<stop offset="1.0000" stop-color="#f7f51b"/>
</linearGradient>
<linearGradient id="g0_36" gradientUnits="userSpaceOnUse" x1="0" y1="17.6" x2="0" y2="985.7">
<stop offset="0.0000" stop-color="#fec239"/>
<stop offset="0.0606" stop-color="#feca33"/>
<stop offset="0.1515" stop-color="#f6e028"/>
<stop offset="0.3485" stop-color="#f6f21e"/>
<stop offset="0.6818" stop-color="#f7f31d"/>
<stop offset="0.7424" stop-color="#f8f818"/>
<stop offset="1.0000" stop-color="#f8f818"/>
</linearGradient>
<linearGradient id="g0_37" gradientUnits="userSpaceOnUse" x1="0" y1="17.6" x2="0" y2="985.7">
<stop offset="0.0000" stop-color="#fec834"/>
<stop offset="0.1061" stop-color="#f7db2b"/>
<stop offset="0.1818" stop-color="#f5e526"/>
<stop offset="0.3333" stop-color="#f6f21e"/>
<stop offset="0.6212" stop-color="#f7f31d"/>
<stop offset="0.7424" stop-color="#f8f818"/>
<stop offset="1.0000" stop-color="#f8f818"/>
</linearGradient>
<linearGradient id="g0_38" gradientUnits="userSpaceOnUse" x1="0" y1="17.6" x2="0" y2="985.7">
<stop offset="0.0000" stop-color="#fcd130"/>
<stop offset="0.0455" stop-color="#fad42e"/>
<stop offset="0.1364" stop-color="#f5e128"/>
<stop offset="0.3333" stop-color="#f6f21e"/>
<stop offset="0.5909" stop-color="#f7f31d"/>
<stop offset="0.7424" stop-color="#f8f818"/>
<stop offset="1.0000" stop-color="#f8f818"/>
</linearGradient>
<linearGradient id="g0_39" gradientUnits="userSpaceOnUse" x1="0" y1="17.6" x2="0" y2="985.7">
<stop offset="0.0000" stop-color="#f9d72c"/>
<stop offset="0.1061" stop-color="#f5e128"/>
<stop offset="0.3182" stop-color="#f6f21e"/>
<stop offset="0.7121" stop-color="#f7f51b"/>
<stop offset="0.7424" stop-color="#f8f818"/>
<stop offset="1.0000" stop-color="#f8f818"/>
</linearGradient>
<linearGradient id="g0_40" gradientUnits="userSpaceOnUse" x1="0" y1="17.6" x2="0" y2="985.7">
<stop offset="0.0000" stop-color="#f6de29"/>
<stop offset="0.0909" stop-color="#f5e526"/>
<stop offset="0.1667" stop-color="#f5e625"/>
<stop offset="0.3182" stop-color="#f6f21e"/>
<stop offset="0.6970" stop-color="#f7f51b"/>
<stop offset="0.7273" stop-color="#f8f818"/>
<stop offset="1.0000" stop-color="#f8f818"/>
</linearGradient>
<linearGradient id="g0_41" gradientUnits="userSpaceOnUse" x1="0" y1="17.6" x2="0" y2="985.7">
<stop offset="0.0000" stop-color="#f5e327"/>
<stop offset="0.0909" stop-color="#f5e825"/>
<stop offset="0.1667" stop-color="#f5e825"/>
<stop offset="0.3485" stop-color="#f7f31d"/>
<stop offset="0.6970" stop-color="#f7f51b"/>
<stop offset="0.7273" stop-color="#f8f818"/>
<stop offset="1.0000" stop-color="#f8f818"/>
</linearGradient>
<linearGradient id="g0_42" gradientUnits="userSpaceOnUse" x1="0" y1="17.6" x2="0" y2="985.7">
<stop offset="0.0000" stop-color="#f5e825"/>
<stop offset="0.1970" stop-color="#f5eb23"/>
<stop offset="0.3030" stop-color="#f6f21e"/>
<stop offset="0.4545" stop-color="#f7f51b"/>
<stop offset="1.0000" stop-color="#f8f818"/>
</linearGradient>
<linearGradient id="g0_43" gradientUnits="userSpaceOnUse" x1="0" y1="17.6" x2="0" y2="985.7">
<stop offset="0.0000" stop-color="#f5eb23"/>
<stop offset="0.1970" stop-color="#f5ed22"/>
<stop offset="0.4394" stop-color="#f7f51b"/>
<stop offset="1.0000" stop-color="#f8f818"/>
</linearGradient>
<linearGradient id="g0_44" gradientUnits="userSpaceOnUse" x1="0" y1="17.6" x2="0" y2="985.7">
<stop offset="0.0000" stop-color="#f5ee21"/>
<stop offset="0.1970" stop-color="#f5ee21"/>
<stop offset="0.2424" stop-color="#f6f21e"/>
<stop offset="0.4242" stop-color="#f7f51b"/>
<stop offset="1.0000" stop-color="#f8f818"/>
</linearGradient>
<linearGradient id="g0_45" gradientUnits="userSpaceOnUse" x1="0" y1="17.6" x2="0" y2="985.7">
<stop offset="0.0000" stop-color="#f6f01f"/>
<stop offset="0.2121" stop-color="#f6f01f"/>
<stop offset="0.3939" stop-color="#f7f51b"/>
<stop offset="0.6818" stop-color="#f7f51b"/>
<stop offset="0.7121" stop-color="#f8f818"/>
<stop offset="1.0000" stop-color="#f8f818"/>
</linearGradient>
<linearGradient id="g0_46" gradientUnits="userSpaceOnUse" x1="0" y1="17.6" x2="0" y2="985.7">
<stop offset="0.0000" stop-color="#f6f21e"/>
<stop offset="1.0000" stop-color="#f8f818"/>
</linearGradient>
<linearGradient id="g0_47" gradientUnits="userSpaceOnUse" x1="0" y1="17.6" x2="0" y2="985.7">
<stop offset="0.0000" stop-color="#f7f31d"/>
<stop offset="1.0000" stop-color="#f8f818"/>
</linearGradient>
<linearGradient id="g0_48" gradientUnits="userSpaceOnUse" x1="0" y1="17.6" x2="0" y2="985.7">
<stop offset="0.0000" stop-color="#f7f31d"/>
<stop offset="1.0000" stop-color="#f8f818"/>
</linearGradient>
<linearGradient id="g0_49" gradientUnits="userSpaceOnUse" x1="0" y1="17.6" x2="0" y2="985.7">
<stop offset="0.0000" stop-color="#f7f51b"/>
<stop offset="1.0000" stop-color="#f8f818"/>
</linearGradient>
<linearGradient id="g0_50" gradientUnits="userSpaceOnUse" x1="0" y1="17.6" x2="0" y2="985.7">
<stop offset="0.0000" stop-color="#f7f51b"/>
<stop offset="1.0000" stop-color="#f8f818"/>
</linearGradient>
<linearGradient id="g0_51" gradientUnits="userSpaceOnUse" x1="0" y1="17.6" x2="0" y2="985.7">
<stop offset="0.0000" stop-color="#f8f61a"/>
<stop offset="1.0000" stop-color="#f8f818"/>
</linearGradient>
<linearGradient id="g0_52" gradientUnits="userSpaceOnUse" x1="0" y1="17.6" x2="0" y2="985.7">
<stop offset="0.0000" stop-color="#f8f61a"/>
<stop offset="0.5152" stop-color="#f8f61a"/>
<stop offset="1.0000" stop-color="#f9f916"/>
</linearGradient>
<linearGradient id="g0_53" gradientUnits="userSpaceOnUse" x1="0" y1="17.6" x2="0" y2="985.7">
<stop offset="0.0000" stop-color="#f8f818"/>
<stop offset="0.4848" stop-color="#f8f61a"/>
<stop offset="0.6667" stop-color="#f9f916"/>
<stop offset="1.0000" stop-color="#f9f916"/>
</linearGradient>
<linearGradient id="g0_54" gradientUnits="userSpaceOnUse" x1="0" y1="17.6" x2="0" y2="985.7">
<stop offset="0.0000" stop-color="#f8f818"/>
<stop offset="0.2879" stop-color="#f8f61a"/>
<stop offset="0.6212" stop-color="#f9f916"/>
<stop offset="1.0000" stop-color="#f9f916"/>
</linearGradient>
<linearGradient id="g0_55" gradientUnits="userSpaceOnUse" x1="0" y1="17.6" x2="0" y2="985.7">
<stop offset="0.0000" stop-color="#f8f818"/>
<stop offset="1.0000" stop-color="#f9f916"/>
</linearGradient>
<linearGradient id="g0_56" gradientUnits="userSpaceOnUse" x1="0" y1="17.6" x2="0" y2="985.7">
<stop offset="0.0000" stop-color="#f9f916"/>
<stop offset="1.0000" stop-color="#f9f916"/>
</linearGradient>
<linearGradient id="g0_57" gradientUnits="userSpaceOnUse" x1="0" y1="17.6" x2="0" y2="985.7">
<stop offset="0.0000" stop-color="#f9f916"/>
<stop offset="1.0000" stop-color="#f9f916"/>
</linearGradient>
<linearGradient id="g0_58" gradientUnits="userSpaceOnUse" x1="0" y1="17.6" x2="0" y2="985.7">
<stop offset="0.0000" stop-color="#f9f916"/>
<stop offset="1.0000" stop-color="#f9f916"/>
</linearGradient>
<linearGradient id="g0_59" gradientUnits="userSpaceOnUse" x1="0" y1="17.6" x2="0" y2="985.7">
<stop offset="0.0000" stop-color="#f9fb15"/>
<stop offset="1.0000" stop-color="#f9fb15"/>
</linearGradient>
<linearGradient id="g0_60" gradientUnits="userSpaceOnUse" x1="0" y1="17.6" x2="0" y2="985.7">
<stop offset="0.0000" stop-color="#f9fb15"/>
<stop offset="1.0000" stop-color="#f9fb15"/>
</linearGradient>
<clipPath id="cp0"><rect x="121.2" y="17.6" width="692.1" height="968.1"/></clipPath>
<linearGradient id="g1_0" gradientUnits="userSpaceOnUse" x1="0" y1="17.6" x2="0" y2="985.7">
<stop offset="0.0000" stop-color="#4368fe"/>
<stop offset="0.0455" stop-color="#3c72ff"/>
<stop offset="0.0606" stop-color="#327cfc"/>
<stop offset="0.0758" stop-color="#2d8cf3"/>
<stop offset="0.0909" stop-color="#2b91ef"/>
<stop offset="0.1212" stop-color="#23a1e5"/>
<stop offset="0.1364" stop-color="#20a4e3"/>
<stop offset="0.1515" stop-color="#18addb"/>
<stop offset="0.1667" stop-color="#01bac6"/>
<stop offset="0.1970" stop-color="#19bfb5"/>
<stop offset="1.0000" stop-color="#19bfb5"/>
</linearGradient>
<linearGradient id="g1_1" gradientUnits="userSpaceOnUse" x1="0" y1="17.6" x2="0" y2="985.7">
<stop offset="0.0000" stop-color="#3d70ff"/>
<stop offset="0.0455" stop-color="#3777fe"/>
<stop offset="0.0606" stop-color="#2f80fa"/>
<stop offset="0.0758" stop-color="#2d8df2"/>
<stop offset="0.1364" stop-color="#1ea7e1"/>
<stop offset="0.1515" stop-color="#13b0d7"/>
<stop offset="0.1667" stop-color="#02bac4"/>
<stop offset="0.1818" stop-color="#0bbdbd"/>
<stop offset="0.1970" stop-color="#19bfb5"/>
<stop offset="0.2121" stop-color="#2cc4a6"/>
<stop offset="1.0000" stop-color="#2cc4a6"/>
</linearGradient>
<linearGradient id="g1_2" gradientUnits="userSpaceOnUse" x1="0" y1="17.6" x2="0" y2="985.7">
<stop offset="0.0000" stop-color="#327cfc"/>
<stop offset="0.0455" stop-color="#307ffb"/>
<stop offset="0.0606" stop-color="#2e85f8"/>
<stop offset="0.0758" stop-color="#2c90f0"/>
<stop offset="0.1364" stop-color="#1aabde"/>
<stop offset="0.1515" stop-color="#0cb3d3"/>
<stop offset="0.1667" stop-color="#03bbc2"/>
<stop offset="0.1818" stop-color="#0bbdbd"/>
<stop offset="0.1970" stop-color="#19bfb5"/>
<stop offset="0.2121" stop-color="#2cc4a6"/>
<stop offset="1.0000" stop-color="#2cc4a6"/>
</linearGradient>
<linearGradient id="g1_3" gradientUnits="userSpaceOnUse" x1="0" y1="17.6" x2="0" y2="985.7">
<stop offset="0.0000" stop-color="#2d87f6"/>
<stop offset="0.0455" stop-color="#2d87f6"/>
<stop offset="0.0606" stop-color="#2d8af4"/>
<stop offset="0.0909" stop-color="#259de7"/>
<stop offset="0.1364" stop-color="#13b0d7"/>
<stop offset="0.1515" stop-color="#02b7cb"/>
<stop offset="0.1667" stop-color="#08bcbe"/>
<stop offset="0.1818" stop-color="#0ebebb"/>
<stop offset="0.1970" stop-color="#1cc0b4"/>
<stop offset="0.2121" stop-color="#2cc4a6"/>
<stop offset="0.2273" stop-color="#2fc5a2"/>
<stop offset="1.0000" stop-color="#2fc5a2"/>
</linearGradient>
<linearGradient id="g1_4" gradientUnits="userSpaceOnUse" x1="0" y1="17.6" x2="0" y2="985.7">
<stop offset="0.0000" stop-color="#2c90f0"/>
<stop offset="0.0455" stop-color="#2c90f0"/>
<stop offset="0.0606" stop-color="#2a93ee"/>
<stop offset="0.1061" stop-color="#1caadf"/>
<stop offset="0.1212" stop-color="#13b0d7"/>
<stop offset="0.1364" stop-color="#05b6ce"/>
<stop offset="0.1515" stop-color="#02bac4"/>
<stop offset="0.1667" stop-color="#0ebebb"/>
<stop offset="0.1818" stop-color="#12beb9"/>
<stop offset="0.1970" stop-color="#1fc0b2"/>
<stop offset="0.2121" stop-color="#2cc4a6"/>
<stop offset="0.2424" stop-color="#34c79c"/>
<stop offset="1.0000" stop-color="#34c79c"/>
</linearGradient>
<linearGradient id="g1_5" gradientUnits="userSpaceOnUse" x1="0" y1="17.6" x2="0" y2="985.7">
<stop offset="0.0000" stop-color="#2798ea"/>
<stop offset="0.0455" stop-color="#2798ea"/>
<stop offset="0.0606" stop-color="#269ae8"/>
<stop offset="0.0758" stop-color="#22a2e4"/>
<stop offset="0.1061" stop-color="#15afd9"/>
<stop offset="0.1212" stop-color="#09b4d1"/>
<stop offset="0.1364" stop-color="#01bac6"/>
<stop offset="0.1515" stop-color="#0ebebb"/>
<stop offset="0.1667" stop-color="#19bfb5"/>
<stop offset="0.1818" stop-color="#1cc0b4"/>
<stop offset="0.2121" stop-color="#2ec4a4"/>
<stop offset="0.2424" stop-color="#34c79c"/>
<stop offset="0.2576" stop-color="#3dc990"/>
<stop offset="1.0000" stop-color="#3dc990"/>
</linearGradient>
<linearGradient id="g1_6" gradientUnits="userSpaceOnUse" x1="0" y1="17.6" x2="0" y2="985.7">
<stop offset="0.0000" stop-color="#249fe5"/>
<stop offset="0.0303" stop-color="#249fe5"/>
<stop offset="0.0606" stop-color="#21a3e3"/>
<stop offset="0.0758" stop-color="#1da9e0"/>
<stop offset="0.1212" stop-color="#01b8c9"/>
<stop offset="0.1364" stop-color="#0bbdbd"/>
<stop offset="0.1515" stop-color="#1cc0b4"/>
<stop offset="0.2121" stop-color="#2ec4a4"/>
<stop offset="0.2273" stop-color="#2fc5a2"/>
<stop offset="0.2424" stop-color="#34c79c"/>
<stop offset="0.2576" stop-color="#3dc990"/>
<stop offset="0.2727" stop-color="#42ca8b"/>
<stop offset="1.0000" stop-color="#42ca8b"/>
</linearGradient>
<linearGradient id="g1_7" gradientUnits="userSpaceOnUse" x1="0" y1="17.6" x2="0" y2="985.7">
<stop offset="0.0000" stop-color="#1fa5e2"/>
<stop offset="0.0606" stop-color="#1caadf"/>
<stop offset="0.1061" stop-color="#02b7cb"/>
<stop offset="0.1212" stop-color="#03bbc2"/>
<stop offset="0.1364" stop-color="#19bfb5"/>
<stop offset="0.1515" stop-color="#27c2ac"/>
<stop offset="0.2424" stop-color="#34c79c"/>
<stop offset="0.2576" stop-color="#3dc990"/>
<stop offset="0.2727" stop-color="#42ca8b"/>
<stop offset="1.0000" stop-color="#42ca8b"/>
</linearGradient>
<linearGradient id="g1_8" gradientUnits="userSpaceOnUse" x1="0" y1="17.6" x2="0" y2="985.7">
<stop offset="0.0000" stop-color="#19acdc"/>
<stop offset="0.0455" stop-color="#17aeda"/>
<stop offset="0.0909" stop-color="#01b8c9"/>
<stop offset="0.1061" stop-color="#02bac4"/>
<stop offset="0.1212" stop-color="#0ebebb"/>
<stop offset="0.1364" stop-color="#24c2ae"/>
<stop offset="0.1515" stop-color="#2cc4a6"/>
<stop offset="0.1970" stop-color="#2ec4a4"/>
<stop offset="0.2424" stop-color="#35c79a"/>
<stop offset="0.2576" stop-color="#3fca8e"/>
<stop offset="0.2727" stop-color="#42ca8b"/>
<stop offset="0.2879" stop-color="#52cc7e"/>
<stop offset="1.0000" stop-color="#52cc7e"/>
</linearGradient>
<linearGradient id="g1_9" gradientUnits="userSpaceOnUse" x1="0" y1="17.6" x2="0" y2="985.7">
<stop offset="0.0000" stop-color="#11b1d6"/>
<stop offset="0.0152" stop-color="#11b1d6"/>
<stop offset="0.0606" stop-color="#05b6ce"/>
<stop offset="0.0758" stop-color="#01b9c7"/>
<stop offset="0.0909" stop-color="#03bbc2"/>
<stop offset="0.1061" stop-color="#0bbdbd"/>
<stop offset="0.1212" stop-color="#1cc0b4"/>
<stop offset="0.1364" stop-color="#29c3aa"/>
<stop offset="0.1515" stop-color="#2fc5a2"/>
<stop offset="0.2273" stop-color="#34c79c"/>
<stop offset="0.2424" stop-color="#37c897"/>
<stop offset="0.2576" stop-color="#3fca8e"/>
<stop offset="0.2727" stop-color="#42ca8b"/>
<stop offset="0.2879" stop-color="#52cc7e"/>
<stop offset="0.3030" stop-color="#6dcd67"/>
<stop offset="1.0000" stop-color="#6dcd67"/>
</linearGradient>
<linearGradient id="g1_10" gradientUnits="userSpaceOnUse" x1="0" y1="17.6" x2="0" y2="985.7">
<stop offset="0.0000" stop-color="#03b6cc"/>
<stop offset="0.0606" stop-color="#02bac4"/>
<stop offset="0.0909" stop-color="#0ebebb"/>
<stop offset="0.1212" stop-color="#24c2ae"/>
<stop offset="0.1364" stop-color="#2ec4a4"/>
<stop offset="0.1667" stop-color="#32c69e"/>
<stop offset="0.2273" stop-color="#34c79c"/>
<stop offset="0.2576" stop-color="#3fca8e"/>
<stop offset="0.2727" stop-color="#42ca8b"/>
<stop offset="0.2879" stop-color="#52cc7e"/>
<stop offset="0.3030" stop-color="#6dcd67"/>
<stop offset="0.3182" stop-color="#79cc5e"/>
<stop offset="1.0000" stop-color="#79cc5e"/>
</linearGradient>
<linearGradient id="g1_11" gradientUnits="userSpaceOnUse" x1="0" y1="17.6" x2="0" y2="985.7">
<stop offset="0.0000" stop-color="#03bbc2"/>
<stop offset="0.0152" stop-color="#03bbc2"/>
<stop offset="0.0606" stop-color="#0ebebb"/>
<stop offset="0.0909" stop-color="#19bfb5"/>
<stop offset="0.1212" stop-color="#2bc3a8"/>
<stop offset="0.1364" stop-color="#2fc5a2"/>
<stop offset="0.1515" stop-color="#32c69e"/>
<stop offset="0.2273" stop-color="#35c79a"/>
<stop offset="0.2727" stop-color="#45cb89"/>
<stop offset="0.2879" stop-color="#52cc7e"/>
<stop offset="0.3030" stop-color="#71cd64"/>
<stop offset="0.3182" stop-color="#79cc5e"/>
<stop offset="0.3333" stop-color="#94ca4a"/>
<stop offset="1.0000" stop-color="#94ca4a"/>
</linearGradient>
<linearGradient id="g1_12" gradientUnits="userSpaceOnUse" x1="0" y1="17.6" x2="0" y2="985.7">
<stop offset="0.0000" stop-color="#15bfb7"/>
<stop offset="0.0758" stop-color="#1fc0b2"/>
<stop offset="0.1364" stop-color="#31c6a0"/>
<stop offset="0.1667" stop-color="#34c79c"/>
<stop offset="0.2121" stop-color="#34c79c"/>
<stop offset="0.2576" stop-color="#3fca8e"/>
<stop offset="0.2727" stop-color="#45cb89"/>
<stop offset="0.2879" stop-color="#55cc7c"/>
<stop offset="0.3030" stop-color="#71cd64"/>
<stop offset="0.3182" stop-color="#7dcc5c"/>
<stop offset="0.3333" stop-color="#97ca47"/>
<stop offset="1.0000" stop-color="#97ca47"/>
</linearGradient>
<linearGradient id="g1_13" gradientUnits="userSpaceOnUse" x1="0" y1="17.6" x2="0" y2="985.7">
<stop offset="0.0000" stop-color="#22c1b0"/>
<stop offset="0.0606" stop-color="#24c2ae"/>
<stop offset="0.1515" stop-color="#34c79c"/>
<stop offset="0.1970" stop-color="#34c79c"/>
<stop offset="0.2273" stop-color="#37c897"/>
<stop offset="0.2727" stop-color="#48cb86"/>
<stop offset="0.2879" stop-color="#58cc79"/>
<stop offset="0.3030" stop-color="#71cd64"/>
<stop offset="0.3182" stop-color="#7dcc5c"/>
<stop offset="0.3333" stop-color="#97ca47"/>
<stop offset="0.3485" stop-color="#c8c129"/>
<stop offset="1.0000" stop-color="#c8c129"/>
</linearGradient>
<linearGradient id="g1_14" gradientUnits="userSpaceOnUse" x1="0" y1="17.6" x2="0" y2="985.7">
<stop offset="0.0000" stop-color="#29c3aa"/>
<stop offset="0.0606" stop-color="#29c3aa"/>
<stop offset="0.1515" stop-color="#34c79c"/>
<stop offset="0.2121" stop-color="#35c79a"/>
<stop offset="0.2576" stop-color="#42ca8b"/>
<stop offset="0.2727" stop-color="#4bcb84"/>
<stop offset="0.2879" stop-color="#5ccc76"/>
<stop offset="0.3030" stop-color="#71cd64"/>
<stop offset="0.3182" stop-color="#7dcc5c"/>
<stop offset="0.3333" stop-color="#9bc944"/>
<stop offset="0.3485" stop-color="#c8c129"/>
<stop offset="0.3636" stop-color="#d4be28"/>
<stop offset="1.0000" stop-color="#d4be28"/>
</linearGradient>
<linearGradient id="g1_15" gradientUnits="userSpaceOnUse" x1="0" y1="17.6" x2="0" y2="985.7">
<stop offset="0.0000" stop-color="#2bc3a8"/>
<stop offset="0.0606" stop-color="#2bc3a8"/>
<stop offset="0.1667" stop-color="#35c79a"/>
<stop offset="0.1970" stop-color="#35c79a"/>
<stop offset="0.2424" stop-color="#3dc990"/>
<stop offset="0.2727" stop-color="#4ecc81"/>
<stop offset="0.2879" stop-color="#5fcd73"/>
<stop offset="0.3030" stop-color="#75cc61"/>
<stop offset="0.3182" stop-color="#81cc59"/>
<stop offset="0.3333" stop-color="#9fc942"/>
<stop offset="0.3485" stop-color="#c8c129"/>
<stop offset="0.3788" stop-color="#e2bc2b"/>
<stop offset="1.0000" stop-color="#e2bc2b"/>
</linearGradient>
<linearGradient id="g1_16" gradientUnits="userSpaceOnUse" x1="0" y1="17.6" x2="0" y2="985.7">
<stop offset="0.0000" stop-color="#2cc4a6"/>
<stop offset="0.0606" stop-color="#2cc4a6"/>
<stop offset="0.1515" stop-color="#35c79a"/>
<stop offset="0.1970" stop-color="#35c79a"/>
<stop offset="0.2576" stop-color="#45cb89"/>
<stop offset="0.2727" stop-color="#52cc7e"/>
<stop offset="0.3030" stop-color="#75cc61"/>
<stop offset="0.3182" stop-color="#84cb56"/>
<stop offset="0.3333" stop-color="#a6c83c"/>
<stop offset="0.3485" stop-color="#cbc029"/>
<stop offset="0.3636" stop-color="#d4be28"/>
<stop offset="0.3788" stop-color="#e2bc2b"/>
<stop offset="0.3939" stop-color="#f6ba3b"/>
<stop offset="1.0000" stop-color="#f6ba3b"/>
</linearGradient>
<linearGradient id="g1_17" gradientUnits="userSpaceOnUse" x1="0" y1="17.6" x2="0" y2="985.7">
<stop offset="0.0000" stop-color="#2ec4a4"/>
<stop offset="0.0606" stop-color="#2ec4a4"/>
<stop offset="0.1515" stop-color="#35c79a"/>
<stop offset="0.1970" stop-color="#35c79a"/>
<stop offset="0.2424" stop-color="#3fca8e"/>
<stop offset="0.2879" stop-color="#66cd6d"/>
<stop offset="0.3182" stop-color="#8ccb50"/>
<stop offset="0.3333" stop-color="#aac73a"/>
<stop offset="0.3485" stop-color="#cbc029"/>
<stop offset="0.3636" stop-color="#d4be28"/>
<stop offset="0.3788" stop-color="#e2bc2b"/>
<stop offset="0.3939" stop-color="#f6ba3b"/>
<stop offset="0.4091" stop-color="#fbbc3d"/>
<stop offset="1.0000" stop-color="#fbbc3d"/>
</linearGradient>
<linearGradient id="g1_18" gradientUnits="userSpaceOnUse" x1="0" y1="17.6" x2="0" y2="985.7">
<stop offset="0.0000" stop-color="#2fc5a2"/>
<stop offset="0.1061" stop-color="#31c6a0"/>
<stop offset="0.1364" stop-color="#35c79a"/>
<stop offset="0.1970" stop-color="#37c897"/>
<stop offset="0.2424" stop-color="#42ca8b"/>
<stop offset="0.2727" stop-color="#5ccc76"/>
<stop offset="0.3030" stop-color="#7dcc5c"/>
<stop offset="0.3182" stop-color="#94ca4a"/>
<stop offset="0.3333" stop-color="#b1c635"/>
<stop offset="0.3485" stop-color="#cfc028"/>
<stop offset="0.3636" stop-color="#d4be28"/>
<stop offset="0.3788" stop-color="#e2bc2b"/>
<stop offset="0.3939" stop-color="#f6ba3b"/>
<stop offset="0.4091" stop-color="#fbbc3d"/>
<stop offset="1.0000" stop-color="#fbbc3d"/>
</linearGradient>
<linearGradient id="g1_19" gradientUnits="userSpaceOnUse" x1="0" y1="17.6" x2="0" y2="985.7">
<stop offset="0.0000" stop-color="#31c6a0"/>
<stop offset="0.0909" stop-color="#31c6a0"/>
<stop offset="0.1515" stop-color="#37c897"/>
<stop offset="0.1818" stop-color="#37c897"/>
<stop offset="0.2273" stop-color="#3fca8e"/>
<stop offset="0.2424" stop-color="#48cb86"/>
<stop offset="0.2879" stop-color="#71cd64"/>
<stop offset="0.3182" stop-color="#9bc944"/>
<stop offset="0.3333" stop-color="#b8c431"/>
<stop offset="0.3485" stop-color="#cfc028"/>
<stop offset="0.3636" stop-color="#d7be28"/>
<stop offset="0.3788" stop-color="#e5bb2d"/>
<stop offset="0.3939" stop-color="#f8ba3d"/>
<stop offset="0.4091" stop-color="#fbbc3d"/>
<stop offset="1.0000" stop-color="#fbbc3d"/>
</linearGradient>
<linearGradient id="g1_20" gradientUnits="userSpaceOnUse" x1="0" y1="17.6" x2="0" y2="985.7">
<stop offset="0.0000" stop-color="#31c6a0"/>
<stop offset="0.0758" stop-color="#31c6a0"/>
<stop offset="0.1818" stop-color="#39c895"/>
<stop offset="0.2121" stop-color="#3fca8e"/>
<stop offset="0.2424" stop-color="#4bcb84"/>
<stop offset="0.2576" stop-color="#58cc79"/>
<stop offset="0.2879" stop-color="#79cc5e"/>
<stop offset="0.3030" stop-color="#8ccb50"/>
<stop offset="0.3333" stop-color="#bbc42f"/>
<stop offset="0.3485" stop-color="#cfc028"/>
<stop offset="0.3636" stop-color="#d7be28"/>
<stop offset="0.3788" stop-color="#e8bb2e"/>
<stop offset="0.3939" stop-color="#f8ba3d"/>
<stop offset="0.4697" stop-color="#febf3b"/>
<stop offset="1.0000" stop-color="#febf3b"/>
</linearGradient>
<linearGradient id="g1_21" gradientUnits="userSpaceOnUse" x1="0" y1="17.6" x2="0" y2="985.7">
<stop offset="0.0000" stop-color="#32c69e"/>
<stop offset="0.1061" stop-color="#32c69e"/>
<stop offset="0.1364" stop-color="#37c897"/>
<stop offset="0.1970" stop-color="#3dc990"/>
<stop offset="0.2273" stop-color="#48cb86"/>
<stop offset="0.2576" stop-color="#5fcd73"/>
<stop offset="0.2727" stop-color="#71cd64"/>
<stop offset="0.2879" stop-color="#81cc59"/>
<stop offset="0.3182" stop-color="#aac73a"/>
<stop offset="0.3333" stop-color="#bfc32e"/>
<stop offset="0.3485" stop-color="#d2bf27"/>
<stop offset="0.3636" stop-color="#dabd28"/>
<stop offset="0.3939" stop-color="#f8ba3d"/>
<stop offset="0.4091" stop-color="#fbbc3d"/>
<stop offset="0.4545" stop-color="#fbbc3d"/>
<stop offset="0.4697" stop-color="#febf3b"/>
<stop offset="0.4848" stop-color="#fec735"/>
<stop offset="1.0000" stop-color="#fec735"/>
</linearGradient>
<linearGradient id="g1_22" gradientUnits="userSpaceOnUse" x1="0" y1="17.6" x2="0" y2="985.7">
<stop offset="0.0000" stop-color="#32c69e"/>
<stop offset="0.0909" stop-color="#32c69e"/>
<stop offset="0.1970" stop-color="#3fca8e"/>
<stop offset="0.2121" stop-color="#45cb89"/>
<stop offset="0.2424" stop-color="#58cc79"/>
<stop offset="0.2576" stop-color="#66cd6d"/>
<stop offset="0.2727" stop-color="#79cc5e"/>
<stop offset="0.2879" stop-color="#84cb56"/>
<stop offset="0.3182" stop-color="#b1c635"/>
<stop offset="0.3333" stop-color="#c5c22a"/>
<stop offset="0.3485" stop-color="#d4be28"/>
<stop offset="0.3636" stop-color="#ddbd29"/>
<stop offset="0.3939" stop-color="#f9bb3d"/>
<stop offset="0.4697" stop-color="#febf3b"/>
<stop offset="0.4848" stop-color="#fec735"/>
<stop offset="0.5000" stop-color="#feca33"/>
<stop offset="1.0000" stop-color="#feca33"/>
</linearGradient>
<linearGradient id="g1_23" gradientUnits="userSpaceOnUse" x1="0" y1="17.6" x2="0" y2="985.7">
<stop offset="0.0000" stop-color="#34c79c"/>
<stop offset="0.1061" stop-color="#35c79a"/>
<stop offset="0.1818" stop-color="#3fca8e"/>
<stop offset="0.2121" stop-color="#4bcb84"/>
<stop offset="0.2424" stop-color="#5fcd73"/>
<stop offset="0.2576" stop-color="#6dcd67"/>
<stop offset="0.2727" stop-color="#81cc59"/>
<stop offset="0.2879" stop-color="#8ccb50"/>
<stop offset="0.3182" stop-color="#b8c431"/>
<stop offset="0.3333" stop-color="#c8c129"/>
<stop offset="0.3636" stop-color="#e2bc2b"/>
<stop offset="0.3939" stop-color="#f9bb3d"/>
<stop offset="0.4545" stop-color="#fcbd3d"/>
<stop offset="0.4848" stop-color="#fec834"/>
<stop offset="0.5152" stop-color="#fdcd31"/>
<stop offset="1.0000" stop-color="#fdcd31"/>
</linearGradient>
<linearGradient id="g1_24" gradientUnits="userSpaceOnUse" x1="0" y1="17.6" x2="0" y2="985.7">
<stop offset="0.0000" stop-color="#34c79c"/>
<stop offset="0.0909" stop-color="#35c79a"/>
<stop offset="0.1667" stop-color="#3fca8e"/>
<stop offset="0.2121" stop-color="#52cc7e"/>
<stop offset="0.2424" stop-color="#66cd6d"/>
<stop offset="0.2576" stop-color="#79cc5e"/>
<stop offset="0.2879" stop-color="#97ca47"/>
<stop offset="0.3182" stop-color="#bfc32e"/>
<stop offset="0.3333" stop-color="#cbc029"/>
<stop offset="0.3485" stop-color="#d7be28"/>
<stop offset="0.3636" stop-color="#e5bb2d"/>
<stop offset="0.3788" stop-color="#f1ba37"/>
<stop offset="0.3939" stop-color="#f9bb3d"/>
<stop offset="0.4545" stop-color="#febe3c"/>
<stop offset="0.4697" stop-color="#fec13a"/>
<stop offset="0.4848" stop-color="#fec834"/>
<stop offset="0.5152" stop-color="#fdcd31"/>
<stop offset="0.5303" stop-color="#fad62d"/>
<stop offset="1.0000" stop-color="#fad62d"/>
</linearGradient>
<linearGradient id="g1_25" gradientUnits="userSpaceOnUse" x1="0" y1="17.6" x2="0" y2="985.7">
<stop offset="0.0000" stop-color="#35c79a"/>
<stop offset="0.0606" stop-color="#35c79a"/>
<stop offset="0.1212" stop-color="#3bc993"/>
<stop offset="0.1667" stop-color="#45cb89"/>
<stop offset="0.1970" stop-color="#52cc7e"/>
<stop offset="0.2424" stop-color="#71cd64"/>
<stop offset="0.2879" stop-color="#9fc942"/>
<stop offset="0.3030" stop-color="#b4c533"/>
<stop offset="0.3182" stop-color="#c5c22a"/>
<stop offset="0.3333" stop-color="#d2bf27"/>
<stop offset="0.3485" stop-color="#ddbd29"/>
<stop offset="0.3636" stop-color="#e8bb2e"/>
<stop offset="0.3788" stop-color="#f6ba3b"/>
<stop offset="0.3939" stop-color="#fbbc3d"/>
<stop offset="0.4697" stop-color="#fec239"/>
<stop offset="0.4848" stop-color="#fec834"/>
<stop offset="0.5000" stop-color="#feca33"/>
<stop offset="0.5455" stop-color="#f7db2b"/>
<stop offset="1.0000" stop-color="#f7db2b"/>
</linearGradient>
<linearGradient id="g1_26" gradientUnits="userSpaceOnUse" x1="0" y1="17.6" x2="0" y2="985.7">
<stop offset="0.0000" stop-color="#39c895"/>
<stop offset="0.0606" stop-color="#39c895"/>
<stop offset="0.1061" stop-color="#3dc990"/>
<stop offset="0.1515" stop-color="#48cb86"/>
<stop offset="0.1970" stop-color="#5ccc76"/>
<stop offset="0.2424" stop-color="#7dcc5c"/>
<stop offset="0.2727" stop-color="#9bc944"/>
<stop offset="0.2879" stop-color="#a6c83c"/>
<stop offset="0.3030" stop-color="#bbc42f"/>
<stop offset="0.3182" stop-color="#cbc029"/>
<stop offset="0.3485" stop-color="#e0bc2a"/>
<stop offset="0.3788" stop-color="#f8ba3d"/>
<stop offset="0.3939" stop-color="#fbbc3d"/>
<stop offset="0.4545" stop-color="#febf3b"/>
<stop offset="0.5000" stop-color="#feca33"/>
<stop offset="0.5455" stop-color="#f7db2b"/>
<stop offset="1.0000" stop-color="#f7db2b"/>
</linearGradient>
<linearGradient id="g1_27" gradientUnits="userSpaceOnUse" x1="0" y1="17.6" x2="0" y2="985.7">
<stop offset="0.0000" stop-color="#42ca8b"/>
<stop offset="0.0909" stop-color="#45cb89"/>
<stop offset="0.1515" stop-color="#55cc7c"/>
<stop offset="0.1818" stop-color="#62cd70"/>
<stop offset="0.2879" stop-color="#b1c635"/>
<stop offset="0.3182" stop-color="#d2bf27"/>
<stop offset="0.3333" stop-color="#d7be28"/>
<stop offset="0.3485" stop-color="#e2bc2b"/>
<stop offset="0.3788" stop-color="#f8ba3d"/>
<stop offset="0.3939" stop-color="#fbbc3d"/>
<stop offset="0.4697" stop-color="#fec438"/>
<stop offset="0.5152" stop-color="#fccf30"/>
<stop offset="0.5455" stop-color="#f7db2b"/>
<stop offset="1.0000" stop-color="#f7db2b"/>
</linearGradient>
<linearGradient id="g1_28" gradientUnits="userSpaceOnUse" x1="0" y1="17.6" x2="0" y2="985.7">
<stop offset="0.0000" stop-color="#4ecc81"/>
<stop offset="0.0303" stop-color="#52cc7e"/>
<stop offset="0.0758" stop-color="#52cc7e"/>
<stop offset="0.1364" stop-color="#5fcd73"/>
<stop offset="0.1818" stop-color="#75cc61"/>
<stop offset="0.1970" stop-color="#81cc59"/>
<stop offset="0.2121" stop-color="#88cb53"/>
<stop offset="0.2576" stop-color="#aac73a"/>
<stop offset="0.2879" stop-color="#bbc42f"/>
<stop offset="0.3030" stop-color="#cbc029"/>
<stop offset="0.3333" stop-color="#dabd28"/>
<stop offset="0.3485" stop-color="#e5bb2d"/>
<stop offset="0.3636" stop-color="#f1ba37"/>
<stop offset="0.3788" stop-color="#f9bb3d"/>
<stop offset="0.3939" stop-color="#fcbd3d"/>
<stop offset="0.4545" stop-color="#fec239"/>
<stop offset="0.5152" stop-color="#fcd130"/>
<stop offset="0.5303" stop-color="#f8d92c"/>
<stop offset="0.5455" stop-color="#f7db2b"/>
<stop offset="1.0000" stop-color="#f7db2b"/>
</linearGradient>
<linearGradient id="g1_29" gradientUnits="userSpaceOnUse" x1="0" y1="17.6" x2="0" y2="985.7">
<stop offset="0.0000" stop-color="#5fcd73"/>
<stop offset="0.0758" stop-color="#62cd70"/>
<stop offset="0.1364" stop-color="#71cd64"/>
<stop offset="0.1818" stop-color="#88cb53"/>
<stop offset="0.2121" stop-color="#9fc942"/>
<stop offset="0.2424" stop-color="#b1c635"/>
<stop offset="0.2879" stop-color="#c5c22a"/>
<stop offset="0.3030" stop-color="#d2bf27"/>
<stop offset="0.3485" stop-color="#e8bb2e"/>
<stop offset="0.3636" stop-color="#f6ba3b"/>
<stop offset="0.3788" stop-color="#fbbc3d"/>
<stop offset="0.4242" stop-color="#febf3b"/>
<stop offset="0.4848" stop-color="#feca33"/>
<stop offset="0.5000" stop-color="#fdcd31"/>
<stop offset="0.5303" stop-color="#f8d92c"/>
<stop offset="0.5909" stop-color="#f7db2b"/>
<stop offset="0.6061" stop-color="#f6e028"/>
<stop offset="1.0000" stop-color="#f6e028"/>
</linearGradient>
<linearGradient id="g1_30" gradientUnits="userSpaceOnUse" x1="0" y1="17.6" x2="0" y2="985.7">
<stop offset="0.0000" stop-color="#71cd64"/>
<stop offset="0.0606" stop-color="#71cd64"/>
<stop offset="0.1212" stop-color="#7dcc5c"/>
<stop offset="0.1515" stop-color="#88cb53"/>
<stop offset="0.1970" stop-color="#a6c83c"/>
<stop offset="0.2273" stop-color="#b8c431"/>
<stop offset="0.2576" stop-color="#c5c22a"/>
<stop offset="0.2727" stop-color="#c8c129"/>
<stop offset="0.3182" stop-color="#ddbd29"/>
<stop offset="0.3333" stop-color="#e2bc2b"/>
<stop offset="0.3636" stop-color="#f8ba3d"/>
<stop offset="0.3939" stop-color="#febe3c"/>
<stop offset="0.4697" stop-color="#fec735"/>
<stop offset="0.5000" stop-color="#fdcd31"/>
<stop offset="0.5303" stop-color="#f8d92c"/>
<stop offset="0.5909" stop-color="#f7db2b"/>
<stop offset="0.6212" stop-color="#f5e825"/>
<stop offset="1.0000" stop-color="#f5e825"/>
</linearGradient>
<linearGradient id="g1_31" gradientUnits="userSpaceOnUse" x1="0" y1="17.6" x2="0" y2="985.7">
<stop offset="0.0000" stop-color="#81cc59"/>
<stop offset="0.0606" stop-color="#84cb56"/>
<stop offset="0.1515" stop-color="#9bc944"/>
<stop offset="0.1970" stop-color="#b8c431"/>
<stop offset="0.2273" stop-color="#c8c129"/>
<stop offset="0.2424" stop-color="#cfc028"/>
<stop offset="0.2879" stop-color="#d7be28"/>
<stop offset="0.3182" stop-color="#e0bc2a"/>
<stop offset="0.3333" stop-color="#e5bb2d"/>
<stop offset="0.3636" stop-color="#f9bb3d"/>
<stop offset="0.3939" stop-color="#febe3c"/>
<stop offset="0.4697" stop-color="#feca33"/>
<stop offset="0.5303" stop-color="#f8d92c"/>
<stop offset="0.5909" stop-color="#f7dc2a"/>
<stop offset="0.6212" stop-color="#f5ea24"/>
<stop offset="1.0000" stop-color="#f5eb23"/>
</linearGradient>
<linearGradient id="g1_32" gradientUnits="userSpaceOnUse" x1="0" y1="17.6" x2="0" y2="985.7">
<stop offset="0.0000" stop-color="#90ca4d"/>
<stop offset="0.0303" stop-color="#90ca4d"/>
<stop offset="0.0909" stop-color="#9fc942"/>
<stop offset="0.1061" stop-color="#9fc942"/>
<stop offset="0.1212" stop-color="#a6c83c"/>
<stop offset="0.1515" stop-color="#adc638"/>
<stop offset="0.1970" stop-color="#c5c22a"/>
<stop offset="0.2273" stop-color="#d4be28"/>
<stop offset="0.3182" stop-color="#e2bc2b"/>
<stop offset="0.3333" stop-color="#e8bb2e"/>
<stop offset="0.3485" stop-color="#f3ba39"/>
<stop offset="0.3636" stop-color="#fbbc3d"/>
<stop offset="0.4545" stop-color="#fec834"/>
<stop offset="0.5303" stop-color="#f8d92c"/>
<stop offset="0.5909" stop-color="#f6de29"/>
<stop offset="0.6061" stop-color="#f5e128"/>
<stop offset="0.6212" stop-color="#f5ea24"/>
<stop offset="1.0000" stop-color="#f5eb23"/>
</linearGradient>
<linearGradient id="g1_33" gradientUnits="userSpaceOnUse" x1="0" y1="17.6" x2="0" y2="985.7">
<stop offset="0.0000" stop-color="#9fc942"/>
<stop offset="0.0303" stop-color="#a2c83f"/>
<stop offset="0.1364" stop-color="#bbc42f"/>
<stop offset="0.1970" stop-color="#d2bf27"/>
<stop offset="0.2273" stop-color="#e0bc2a"/>
<stop offset="0.2576" stop-color="#e5bb2d"/>
<stop offset="0.3182" stop-color="#e8bb2e"/>
<stop offset="0.3333" stop-color="#eaba31"/>
<stop offset="0.3485" stop-color="#f6ba3b"/>
<stop offset="0.3788" stop-color="#febe3c"/>
<stop offset="0.4394" stop-color="#feca33"/>
<stop offset="0.4848" stop-color="#fcd130"/>
<stop offset="0.5303" stop-color="#f7db2b"/>
<stop offset="0.5909" stop-color="#f6e028"/>
<stop offset="0.6212" stop-color="#f5ea24"/>
<stop offset="1.0000" stop-color="#f5eb23"/>
</linearGradient>
<linearGradient id="g1_34" gradientUnits="userSpaceOnUse" x1="0" y1="17.6" x2="0" y2="985.7">
<stop offset="0.0000" stop-color="#adc638"/>
<stop offset="0.0152" stop-color="#adc638"/>
<stop offset="0.1061" stop-color="#c5c22a"/>
<stop offset="0.1515" stop-color="#cfc028"/>
<stop offset="0.1818" stop-color="#dabd28"/>
<stop offset="0.2273" stop-color="#eaba31"/>
<stop offset="0.2576" stop-color="#efba35"/>
<stop offset="0.3182" stop-color="#ecba33"/>
<stop offset="0.3333" stop-color="#efba35"/>
<stop offset="0.3485" stop-color="#f9bb3d"/>
<stop offset="0.3636" stop-color="#febe3c"/>
<stop offset="0.4394" stop-color="#fdcd31"/>
<stop offset="0.5152" stop-color="#f7db2b"/>
<stop offset="0.5758" stop-color="#f6e028"/>
<stop offset="0.6212" stop-color="#f5ea24"/>
<stop offset="0.6970" stop-color="#f5ed22"/>
<stop offset="1.0000" stop-color="#f5ed22"/>
</linearGradient>
<linearGradient id="g1_35" gradientUnits="userSpaceOnUse" x1="0" y1="17.6" x2="0" y2="985.7">
<stop offset="0.0000" stop-color="#b8c431"/>
<stop offset="0.1061" stop-color="#d2bf27"/>
<stop offset="0.1515" stop-color="#dabd28"/>
<stop offset="0.1970" stop-color="#e8bb2e"/>
<stop offset="0.2424" stop-color="#f6ba3b"/>
<stop offset="0.2879" stop-color="#f6ba3b"/>
<stop offset="0.3182" stop-color="#f1ba37"/>
<stop offset="0.3333" stop-color="#f3ba39"/>
<stop offset="0.3485" stop-color="#fbbc3d"/>
<stop offset="0.3636" stop-color="#febf3b"/>
<stop offset="0.4091" stop-color="#fdcc32"/>
<stop offset="0.5303" stop-color="#f6de29"/>
<stop offset="0.6212" stop-color="#f5eb23"/>
<stop offset="0.6818" stop-color="#f5eb23"/>
<stop offset="0.7121" stop-color="#f6f01f"/>
<stop offset="1.0000" stop-color="#f6f01f"/>
</linearGradient>
<linearGradient id="g1_36" gradientUnits="userSpaceOnUse" x1="0" y1="17.6" x2="0" y2="985.7">
<stop offset="0.0000" stop-color="#c5c22a"/>
<stop offset="0.0606" stop-color="#d2bf27"/>
<stop offset="0.1364" stop-color="#e2bc2b"/>
<stop offset="0.1970" stop-color="#f3ba39"/>
<stop offset="0.2576" stop-color="#fcbd3d"/>
<stop offset="0.3333" stop-color="#f9bb3d"/>
<stop offset="0.3485" stop-color="#febf3b"/>
<stop offset="0.3788" stop-color="#fec834"/>
<stop offset="0.4242" stop-color="#fbd22f"/>
<stop offset="0.5455" stop-color="#f5e128"/>
<stop offset="0.6212" stop-color="#f5eb23"/>
<stop offset="0.6667" stop-color="#f5eb23"/>
<stop offset="0.7273" stop-color="#f6f21e"/>
<stop offset="1.0000" stop-color="#f6f21e"/>
</linearGradient>
<linearGradient id="g1_37" gradientUnits="userSpaceOnUse" x1="0" y1="17.6" x2="0" y2="985.7">
<stop offset="0.0000" stop-color="#d2bf27"/>
<stop offset="0.0303" stop-color="#d4be28"/>
<stop offset="0.0758" stop-color="#e0bc2a"/>
<stop offset="0.1818" stop-color="#f8ba3d"/>
<stop offset="0.2273" stop-color="#febe3c"/>
<stop offset="0.2424" stop-color="#fec13a"/>
<stop offset="0.3333" stop-color="#febf3b"/>
<stop offset="0.4091" stop-color="#fad42e"/>
<stop offset="0.5303" stop-color="#f5e128"/>
<stop offset="0.6061" stop-color="#f5ea24"/>
<stop offset="0.6970" stop-color="#f5ee21"/>
<stop offset="0.7121" stop-color="#f6f21e"/>
<stop offset="1.0000" stop-color="#f7f31d"/>
</linearGradient>
<linearGradient id="g1_38" gradientUnits="userSpaceOnUse" x1="0" y1="17.6" x2="0" y2="985.7">
<stop offset="0.0000" stop-color="#ddbd29"/>
<stop offset="0.0303" stop-color="#e0bc2a"/>
<stop offset="0.1515" stop-color="#f8ba3d"/>
<stop offset="0.1970" stop-color="#febf3b"/>
<stop offset="0.2424" stop-color="#fec537"/>
<stop offset="0.3333" stop-color="#fec438"/>
<stop offset="0.3636" stop-color="#fdcd31"/>
<stop offset="0.4242" stop-color="#f7db2b"/>
<stop offset="0.4848" stop-color="#f7dc2a"/>
<stop offset="0.5909" stop-color="#f5ea24"/>
<stop offset="0.6667" stop-color="#f5ed22"/>
<stop offset="0.7576" stop-color="#f7f51b"/>
<stop offset="1.0000" stop-color="#f7f51b"/>
</linearGradient>
<linearGradient id="g1_39" gradientUnits="userSpaceOnUse" x1="0" y1="17.6" x2="0" y2="985.7">
<stop offset="0.0000" stop-color="#e8bb2e"/>
<stop offset="0.0455" stop-color="#ecba33"/>
<stop offset="0.1061" stop-color="#f8ba3d"/>
<stop offset="0.1667" stop-color="#febe3c"/>
<stop offset="0.2424" stop-color="#feca33"/>
<stop offset="0.3182" stop-color="#fec834"/>
<stop offset="0.3939" stop-color="#f8d92c"/>
<stop offset="0.4394" stop-color="#f6de29"/>
<stop offset="0.4697" stop-color="#f7dc2a"/>
<stop offset="0.5758" stop-color="#f5ea24"/>
<stop offset="0.6818" stop-color="#f5ee21"/>
<stop offset="0.7576" stop-color="#f7f51b"/>
<stop offset="1.0000" stop-color="#f7f51b"/>
</linearGradient>
<linearGradient id="g1_40" gradientUnits="userSpaceOnUse" x1="0" y1="17.6" x2="0" y2="985.7">
<stop offset="0.0000" stop-color="#f1ba37"/>
<stop offset="0.0606" stop-color="#f8ba3d"/>
<stop offset="0.1212" stop-color="#febe3c"/>
<stop offset="0.1667" stop-color="#fec239"/>
<stop offset="0.2424" stop-color="#fccf30"/>
<stop offset="0.3333" stop-color="#fccf30"/>
<stop offset="0.4242" stop-color="#f6e028"/>
<stop offset="0.4697" stop-color="#f6de29"/>
<stop offset="0.5606" stop-color="#f5ea24"/>
<stop offset="0.7576" stop-color="#f7f51b"/>
<stop offset="1.0000" stop-color="#f7f51b"/>
</linearGradient>
<linearGradient id="g1_41" gradientUnits="userSpaceOnUse" x1="0" y1="17.6" x2="0" y2="985.7">
<stop offset="0.0000" stop-color="#f9bb3d"/>
<stop offset="0.0606" stop-color="#fcbd3d"/>
<stop offset="0.1818" stop-color="#feca33"/>
<stop offset="0.2273" stop-color="#fcd130"/>
<stop offset="0.3333" stop-color="#fad42e"/>
<stop offset="0.3939" stop-color="#f6e028"/>
<stop offset="0.4697" stop-color="#f5e128"/>
<stop offset="0.6061" stop-color="#f5ed22"/>
<stop offset="0.7576" stop-color="#f7f51b"/>
<stop offset="1.0000" stop-color="#f7f51b"/>
</linearGradient>
<linearGradient id="g1_42" gradientUnits="userSpaceOnUse" x1="0" y1="17.6" x2="0" y2="985.7">
<stop offset="0.0000" stop-color="#fec13a"/>
<stop offset="0.1364" stop-color="#feca33"/>
<stop offset="0.2273" stop-color="#fad62d"/>
<stop offset="0.3182" stop-color="#f9d72c"/>
<stop offset="0.4242" stop-color="#f5e526"/>
<stop offset="0.4697" stop-color="#f5e327"/>
<stop offset="0.7424" stop-color="#f7f51b"/>
<stop offset="1.0000" stop-color="#f7f51b"/>
</linearGradient>
<linearGradient id="g1_43" gradientUnits="userSpaceOnUse" x1="0" y1="17.6" x2="0" y2="985.7">
<stop offset="0.0000" stop-color="#fec735"/>
<stop offset="0.2424" stop-color="#f7db2b"/>
<stop offset="0.3333" stop-color="#f7dc2a"/>
<stop offset="0.4091" stop-color="#f5e625"/>
<stop offset="0.5000" stop-color="#f5e625"/>
<stop offset="0.6667" stop-color="#f6f21e"/>
<stop offset="0.7424" stop-color="#f7f51b"/>
<stop offset="1.0000" stop-color="#f7f51b"/>
</linearGradient>
<linearGradient id="g1_44" gradientUnits="userSpaceOnUse" x1="0" y1="17.6" x2="0" y2="985.7">
<stop offset="0.0000" stop-color="#fccf30"/>
<stop offset="0.0909" stop-color="#fbd22f"/>
<stop offset="0.2424" stop-color="#f6de29"/>
<stop offset="0.3485" stop-color="#f5e128"/>
<stop offset="0.4091" stop-color="#f5e825"/>
<stop offset="0.4697" stop-color="#f5e625"/>
<stop offset="0.7424" stop-color="#f7f51b"/>
<stop offset="1.0000" stop-color="#f7f51b"/>
</linearGradient>
<linearGradient id="g1_45" gradientUnits="userSpaceOnUse" x1="0" y1="17.6" x2="0" y2="985.7">
<stop offset="0.0000" stop-color="#fad42e"/>
<stop offset="0.3030" stop-color="#f5e128"/>
<stop offset="0.3333" stop-color="#f5e128"/>
<stop offset="0.4242" stop-color="#f5ea24"/>
<stop offset="0.4697" stop-color="#f5e825"/>
<stop offset="0.6212" stop-color="#f5ee21"/>
<stop offset="0.6515" stop-color="#f6f21e"/>
<stop offset="0.7424" stop-color="#f7f51b"/>
<stop offset="1.0000" stop-color="#f7f51b"/>
</linearGradient>
<linearGradient id="g1_46" gradientUnits="userSpaceOnUse" x1="0" y1="17.6" x2="0" y2="985.7">
<stop offset="0.0000" stop-color="#f7db2b"/>
<stop offset="0.3182" stop-color="#f5e327"/>
<stop offset="0.4091" stop-color="#f5ea24"/>
<stop offset="0.5303" stop-color="#f5eb23"/>
<stop offset="0.7273" stop-color="#f7f51b"/>
<stop offset="1.0000" stop-color="#f7f51b"/>
</linearGradient>
<linearGradient id="g1_47" gradientUnits="userSpaceOnUse" x1="0" y1="17.6" x2="0" y2="985.7">
<stop offset="0.0000" stop-color="#f6de29"/>
<stop offset="0.2576" stop-color="#f5e327"/>
<stop offset="0.3939" stop-color="#f5ea24"/>
<stop offset="0.5152" stop-color="#f5eb23"/>
<stop offset="0.7273" stop-color="#f7f51b"/>
<stop offset="1.0000" stop-color="#f7f51b"/>
</linearGradient>
<linearGradient id="g1_48" gradientUnits="userSpaceOnUse" x1="0" y1="17.6" x2="0" y2="985.7">
<stop offset="0.0000" stop-color="#f5e128"/>
<stop offset="0.0909" stop-color="#f5e128"/>
<stop offset="0.4394" stop-color="#f5ed22"/>
<stop offset="0.5303" stop-color="#f5ed22"/>
<stop offset="0.7273" stop-color="#f7f51b"/>
<stop offset="1.0000" stop-color="#f7f51b"/>
</linearGradient>
<linearGradient id="g1_49" gradientUnits="userSpaceOnUse" x1="0" y1="17.6" x2="0" y2="985.7">
<stop offset="0.0000" stop-color="#f5e526"/>
<stop offset="0.2576" stop-color="#f5e625"/>
<stop offset="0.3030" stop-color="#f5ea24"/>
<stop offset="0.6970" stop-color="#f6f21e"/>
<stop offset="0.7273" stop-color="#f7f51b"/>
<stop offset="1.0000" stop-color="#f7f51b"/>
</linearGradient>
<linearGradient id="g1_50" gradientUnits="userSpaceOnUse" x1="0" y1="17.6" x2="0" y2="985.7">
<stop offset="0.0000" stop-color="#f5e625"/>
<stop offset="0.2576" stop-color="#f5e825"/>
<stop offset="0.5303" stop-color="#f5ee21"/>
<stop offset="0.5909" stop-color="#f6f21e"/>
<stop offset="0.6818" stop-color="#f6f21e"/>
<stop offset="0.7273" stop-color="#f7f51b"/>
<stop offset="1.0000" stop-color="#f7f51b"/>
</linearGradient>
<linearGradient id="g1_51" gradientUnits="userSpaceOnUse" x1="0" y1="17.6" x2="0" y2="985.7">
<stop offset="0.0000" stop-color="#f5e825"/>
<stop offset="0.3788" stop-color="#f5eb23"/>
<stop offset="0.5758" stop-color="#f6f21e"/>
<stop offset="0.6818" stop-color="#f6f21e"/>
<stop offset="0.7121" stop-color="#f7f51b"/>
<stop offset="1.0000" stop-color="#f7f51b"/>
</linearGradient>
<linearGradient id="g1_52" gradientUnits="userSpaceOnUse" x1="0" y1="17.6" x2="0" y2="985.7">
<stop offset="0.0000" stop-color="#f5ea24"/>
<stop offset="0.5000" stop-color="#f5ee21"/>
<stop offset="0.7121" stop-color="#f7f51b"/>
<stop offset="1.0000" stop-color="#f7f51b"/>
</linearGradient>
<linearGradient id="g1_53" gradientUnits="userSpaceOnUse" x1="0" y1="17.6" x2="0" y2="985.7">
<stop offset="0.0000" stop-color="#f5eb23"/>
<stop offset="0.4848" stop-color="#f5ee21"/>
<stop offset="0.5303" stop-color="#f6f21e"/>
<stop offset="0.7121" stop-color="#f7f51b"/>
<stop offset="1.0000" stop-color="#f7f51b"/>
</linearGradient>
<linearGradient id="g1_54" gradientUnits="userSpaceOnUse" x1="0" y1="17.6" x2="0" y2="985.7">
<stop offset="0.0000" stop-color="#f5ed22"/>
<stop offset="0.4697" stop-color="#f5ee21"/>
<stop offset="0.5152" stop-color="#f6f21e"/>
<stop offset="0.6970" stop-color="#f7f51b"/>
<stop offset="1.0000" stop-color="#f7f51b"/>
</linearGradient>
<linearGradient id="g1_55" gradientUnits="userSpaceOnUse" x1="0" y1="17.6" x2="0" y2="985.7">
<stop offset="0.0000" stop-color="#f5ee21"/>
<stop offset="0.4697" stop-color="#f5ee21"/>
<stop offset="0.5152" stop-color="#f6f21e"/>
<stop offset="0.6818" stop-color="#f7f51b"/>
<stop offset="1.0000" stop-color="#f7f51b"/>
</linearGradient>
<linearGradient id="g1_56" gradientUnits="userSpaceOnUse" x1="0" y1="17.6" x2="0" y2="985.7">
<stop offset="0.0000" stop-color="#f5ee21"/>
<stop offset="0.3788" stop-color="#f5ee21"/>
<stop offset="0.6515" stop-color="#f7f51b"/>
<stop offset="1.0000" stop-color="#f7f51b"/>
</linearGradient>
<linearGradient id="g1_57" gradientUnits="userSpaceOnUse" x1="0" y1="17.6" x2="0" y2="985.7">
<stop offset="0.0000" stop-color="#f6f01f"/>
<stop offset="0.4697" stop-color="#f6f01f"/>
<stop offset="0.6364" stop-color="#f7f51b"/>
<stop offset="1.0000" stop-color="#f8f61a"/>
</linearGradient>
<linearGradient id="g1_58" gradientUnits="userSpaceOnUse" x1="0" y1="17.6" x2="0" y2="985.7">
<stop offset="0.0000" stop-color="#f6f01f"/>
<stop offset="0.4697" stop-color="#f6f01f"/>
<stop offset="0.5909" stop-color="#f6f21e"/>
<stop offset="0.6212" stop-color="#f7f51b"/>
<stop offset="1.0000" stop-color="#f8f61a"/>
</linearGradient>
<linearGradient id="g1_59" gradientUnits="userSpaceOnUse" x1="0" y1="17.6" x2="0" y2="985.7">
<stop offset="0.0000" stop-color="#f6f21e"/>
<stop offset="0.5909" stop-color="#f6f21e"/>
<stop offset="0.6212" stop-color="#f7f51b"/>
<stop offset="1.0000" stop-color="#f8f61a"/>
</linearGradient>
<linearGradient id="g1_60" gradientUnits="userSpaceOnUse" x1="0" y1="17.6" x2="0" y2="985.7">
<stop offset="0.0000" stop-color="#f6f21e"/>
<stop offset="0.5758" stop-color="#f6f21e"/>
<stop offset="0.6061" stop-color="#f7f51b"/>
<stop offset="0.9545" stop-color="#f7f51b"/>
<stop offset="1.0000" stop-color="#f8f818"/>
</linearGradient>
<clipPath id="cp1"><rect x="864.4" y="17.6" width="692.0" height="968.1"/></clipPath>
<linearGradient id="g2_0" gradientUnits="userSpaceOnUse" x1="0" y1="17.6" x2="0" y2="985.7">
<stop offset="0.0000" stop-color="#2994ed"/>
<stop offset="0.0455" stop-color="#2798ea"/>
<stop offset="0.1061" stop-color="#1da9e0"/>
<stop offset="0.1212" stop-color="#0fb2d4"/>
<stop offset="0.1515" stop-color="#03b6cc"/>
<stop offset="0.1667" stop-color="#02bac4"/>
<stop offset="0.1970" stop-color="#0ebebb"/>
<stop offset="1.0000" stop-color="#0ebebb"/>
</linearGradient>
<linearGradient id="g2_1" gradientUnits="userSpaceOnUse" x1="0" y1="17.6" x2="0" y2="985.7">
<stop offset="0.0000" stop-color="#2798ea"/>
<stop offset="0.0606" stop-color="#249ee6"/>
<stop offset="0.0909" stop-color="#1ea7e1"/>
<stop offset="0.1061" stop-color="#1aabde"/>
<stop offset="0.1212" stop-color="#0fb2d4"/>
<stop offset="0.1515" stop-color="#02b7cb"/>
<stop offset="0.1667" stop-color="#03bbc2"/>
<stop offset="0.1818" stop-color="#08bcbe"/>
<stop offset="0.1970" stop-color="#12beb9"/>
<stop offset="0.2121" stop-color="#22c1b0"/>
<stop offset="1.0000" stop-color="#22c1b0"/>
</linearGradient>
<linearGradient id="g2_2" gradientUnits="userSpaceOnUse" x1="0" y1="17.6" x2="0" y2="985.7">
<stop offset="0.0000" stop-color="#249ee6"/>
<stop offset="0.0303" stop-color="#249fe5"/>
<stop offset="0.0909" stop-color="#1caadf"/>
<stop offset="0.1061" stop-color="#17aeda"/>
<stop offset="0.1212" stop-color="#09b4d1"/>
<stop offset="0.1364" stop-color="#03b6cc"/>
<stop offset="0.1515" stop-color="#01b9c7"/>
<stop offset="0.1818" stop-color="#08bcbe"/>
<stop offset="0.2121" stop-color="#22c1b0"/>
<stop offset="0.2273" stop-color="#29c3aa"/>
<stop offset="1.0000" stop-color="#29c3aa"/>
</linearGradient>
<linearGradient id="g2_3" gradientUnits="userSpaceOnUse" x1="0" y1="17.6" x2="0" y2="985.7">
<stop offset="0.0000" stop-color="#1fa5e2"/>
<stop offset="0.0606" stop-color="#1da9e0"/>
<stop offset="0.0909" stop-color="#15afd9"/>
<stop offset="0.1212" stop-color="#05b6ce"/>
<stop offset="0.1364" stop-color="#01b8c9"/>
<stop offset="0.1515" stop-color="#01bac6"/>
<stop offset="0.1818" stop-color="#0ebebb"/>
<stop offset="0.2121" stop-color="#27c2ac"/>
<stop offset="0.2273" stop-color="#2cc4a6"/>
<stop offset="0.2424" stop-color="#3dc990"/>
<stop offset="1.0000" stop-color="#3dc990"/>
</linearGradient>
<linearGradient id="g2_4" gradientUnits="userSpaceOnUse" x1="0" y1="17.6" x2="0" y2="985.7">
<stop offset="0.0000" stop-color="#19acdc"/>
<stop offset="0.0606" stop-color="#17aeda"/>
<stop offset="0.1212" stop-color="#01b8c9"/>
<stop offset="0.1515" stop-color="#03bbc2"/>
<stop offset="0.1970" stop-color="#1fc0b2"/>
<stop offset="0.2121" stop-color="#2bc3a8"/>
<stop offset="0.2273" stop-color="#31c6a0"/>
<stop offset="0.2424" stop-color="#42ca8b"/>
<stop offset="0.2576" stop-color="#71cd64"/>
<stop offset="1.0000" stop-color="#71cd64"/>
</linearGradient>
<linearGradient id="g2_5" gradientUnits="userSpaceOnUse" x1="0" y1="17.6" x2="0" y2="985.7">
<stop offset="0.0000" stop-color="#0cb3d3"/>
<stop offset="0.0455" stop-color="#0cb3d3"/>
<stop offset="0.1061" stop-color="#01b9c7"/>
<stop offset="0.1364" stop-color="#03bbc2"/>
<stop offset="0.1515" stop-color="#08bcbe"/>
<stop offset="0.1970" stop-color="#29c3aa"/>
<stop offset="0.2273" stop-color="#37c897"/>
<stop offset="0.2424" stop-color="#4bcb84"/>
<stop offset="0.2576" stop-color="#75cc61"/>
<stop offset="0.2727" stop-color="#84cb56"/>
<stop offset="1.0000" stop-color="#84cb56"/>
</linearGradient>
<linearGradient id="g2_6" gradientUnits="userSpaceOnUse" x1="0" y1="17.6" x2="0" y2="985.7">
<stop offset="0.0000" stop-color="#01b8c9"/>
<stop offset="0.0455" stop-color="#02b7cb"/>
<stop offset="0.1061" stop-color="#03bbc2"/>
<stop offset="0.1515" stop-color="#0ebebb"/>
<stop offset="0.1818" stop-color="#27c2ac"/>
<stop offset="0.2273" stop-color="#3fca8e"/>
<stop offset="0.2424" stop-color="#55cc7c"/>
<stop offset="0.2576" stop-color="#75cc61"/>
<stop offset="0.2727" stop-color="#84cb56"/>
<stop offset="1.0000" stop-color="#84cb56"/>
</linearGradient>
<linearGradient id="g2_7" gradientUnits="userSpaceOnUse" x1="0" y1="17.6" x2="0" y2="985.7">
<stop offset="0.0000" stop-color="#06bcc0"/>
<stop offset="0.0606" stop-color="#03bbc2"/>
<stop offset="0.1061" stop-color="#0bbdbd"/>
<stop offset="0.1515" stop-color="#1cc0b4"/>
<stop offset="0.1667" stop-color="#27c2ac"/>
<stop offset="0.1970" stop-color="#37c897"/>
<stop offset="0.2121" stop-color="#42ca8b"/>
<stop offset="0.2424" stop-color="#62cd70"/>
<stop offset="0.2576" stop-color="#7dcc5c"/>
<stop offset="0.2727" stop-color="#88cb53"/>
<stop offset="0.2879" stop-color="#b1c635"/>
<stop offset="1.0000" stop-color="#b1c635"/>
</linearGradient>
<linearGradient id="g2_8" gradientUnits="userSpaceOnUse" x1="0" y1="17.6" x2="0" y2="985.7">
<stop offset="0.0000" stop-color="#12beb9"/>
<stop offset="0.0455" stop-color="#0bbdbd"/>
<stop offset="0.0758" stop-color="#0ebebb"/>
<stop offset="0.1364" stop-color="#22c1b0"/>
<stop offset="0.1667" stop-color="#2fc5a2"/>
<stop offset="0.1818" stop-color="#39c895"/>
<stop offset="0.2273" stop-color="#62cd70"/>
<stop offset="0.2576" stop-color="#88cb53"/>
<stop offset="0.2727" stop-color="#94ca4a"/>
<stop offset="0.2879" stop-color="#b8c431"/>
<stop offset="0.3030" stop-color="#e8bb2e"/>
<stop offset="1.0000" stop-color="#e8bb2e"/>
</linearGradient>
<linearGradient id="g2_9" gradientUnits="userSpaceOnUse" x1="0" y1="17.6" x2="0" y2="985.7">
<stop offset="0.0000" stop-color="#1cc0b4"/>
<stop offset="0.0455" stop-color="#19bfb5"/>
<stop offset="0.0758" stop-color="#1cc0b4"/>
<stop offset="0.1364" stop-color="#2ec4a4"/>
<stop offset="0.1515" stop-color="#32c69e"/>
<stop offset="0.1667" stop-color="#3bc993"/>
<stop offset="0.2121" stop-color="#6acd6a"/>
<stop offset="0.2727" stop-color="#a6c83c"/>
<stop offset="0.2879" stop-color="#c2c22c"/>
<stop offset="0.3030" stop-color="#eaba31"/>
<stop offset="0.3182" stop-color="#f3ba39"/>
<stop offset="1.0000" stop-color="#f3ba39"/>
</linearGradient>
<linearGradient id="g2_10" gradientUnits="userSpaceOnUse" x1="0" y1="17.6" x2="0" y2="985.7">
<stop offset="0.0000" stop-color="#29c3aa"/>
<stop offset="0.0606" stop-color="#29c3aa"/>
<stop offset="0.0909" stop-color="#2ec4a4"/>
<stop offset="0.1212" stop-color="#35c79a"/>
<stop offset="0.1515" stop-color="#42ca8b"/>
<stop offset="0.1818" stop-color="#62cd70"/>
<stop offset="0.2121" stop-color="#84cb56"/>
<stop offset="0.2424" stop-color="#9fc942"/>
<stop offset="0.2727" stop-color="#b4c533"/>
<stop offset="0.2879" stop-color="#cfc028"/>
<stop offset="0.3030" stop-color="#ecba33"/>
<stop offset="0.3333" stop-color="#f8ba3d"/>
<stop offset="1.0000" stop-color="#f8ba3d"/>
</linearGradient>
<linearGradient id="g2_11" gradientUnits="userSpaceOnUse" x1="0" y1="17.6" x2="0" y2="985.7">
<stop offset="0.0000" stop-color="#32c69e"/>
<stop offset="0.0455" stop-color="#32c69e"/>
<stop offset="0.0758" stop-color="#37c897"/>
<stop offset="0.0909" stop-color="#3bc993"/>
<stop offset="0.1364" stop-color="#52cc7e"/>
<stop offset="0.1515" stop-color="#5ccc76"/>
<stop offset="0.1667" stop-color="#6dcd67"/>
<stop offset="0.1970" stop-color="#8ccb50"/>
<stop offset="0.2424" stop-color="#b1c635"/>
<stop offset="0.2727" stop-color="#c2c22c"/>
<stop offset="0.2879" stop-color="#d4be28"/>
<stop offset="0.3030" stop-color="#ecba33"/>
<stop offset="0.3333" stop-color="#f8ba3d"/>
<stop offset="1.0000" stop-color="#f8ba3d"/>
</linearGradient>
<linearGradient id="g2_12" gradientUnits="userSpaceOnUse" x1="0" y1="17.6" x2="0" y2="985.7">
<stop offset="0.0000" stop-color="#3fca8e"/>
<stop offset="0.0303" stop-color="#3fca8e"/>
<stop offset="0.0758" stop-color="#4bcb84"/>
<stop offset="0.1212" stop-color="#66cd6d"/>
<stop offset="0.1970" stop-color="#a2c83f"/>
<stop offset="0.2273" stop-color="#b8c431"/>
<stop offset="0.2576" stop-color="#c8c129"/>
<stop offset="0.2727" stop-color="#cfc028"/>
<stop offset="0.2879" stop-color="#ddbd29"/>
<stop offset="0.3030" stop-color="#efba35"/>
<stop offset="0.3333" stop-color="#f8ba3d"/>
<stop offset="0.3485" stop-color="#fcbd3d"/>
<stop offset="1.0000" stop-color="#fcbd3d"/>
</linearGradient>
<linearGradient id="g2_13" gradientUnits="userSpaceOnUse" x1="0" y1="17.6" x2="0" y2="985.7">
<stop offset="0.0000" stop-color="#52cc7e"/>
<stop offset="0.0303" stop-color="#55cc7c"/>
<stop offset="0.0758" stop-color="#62cd70"/>
<stop offset="0.1212" stop-color="#81cc59"/>
<stop offset="0.1364" stop-color="#88cb53"/>
<stop offset="0.1818" stop-color="#aac73a"/>
<stop offset="0.2121" stop-color="#bfc32e"/>
<stop offset="0.2273" stop-color="#c5c22a"/>
<stop offset="0.2727" stop-color="#d7be28"/>
<stop offset="0.2879" stop-color="#e2bc2b"/>
<stop offset="0.3030" stop-color="#efba35"/>
<stop offset="0.3333" stop-color="#f8ba3d"/>
<stop offset="0.3485" stop-color="#fcbd3d"/>
<stop offset="1.0000" stop-color="#febe3c"/>
</linearGradient>
<linearGradient id="g2_14" gradientUnits="userSpaceOnUse" x1="0" y1="17.6" x2="0" y2="985.7">
<stop offset="0.0000" stop-color="#6dcd67"/>
<stop offset="0.0303" stop-color="#6dcd67"/>
<stop offset="0.0606" stop-color="#75cc61"/>
<stop offset="0.0909" stop-color="#88cb53"/>
<stop offset="0.1364" stop-color="#9fc942"/>
<stop offset="0.1970" stop-color="#c5c22a"/>
<stop offset="0.2273" stop-color="#d2bf27"/>
<stop offset="0.2576" stop-color="#ddbd29"/>
<stop offset="0.2879" stop-color="#e8bb2e"/>
<stop offset="0.3030" stop-color="#f1ba37"/>
<stop offset="0.3333" stop-color="#f8ba3d"/>
<stop offset="0.3485" stop-color="#fcbd3d"/>
<stop offset="1.0000" stop-color="#febe3c"/>
</linearGradient>
<linearGradient id="g2_15" gradientUnits="userSpaceOnUse" x1="0" y1="17.6" x2="0" y2="985.7">
<stop offset="0.0000" stop-color="#84cb56"/>
<stop offset="0.0303" stop-color="#84cb56"/>
<stop offset="0.0606" stop-color="#8ccb50"/>
<stop offset="0.1364" stop-color="#b1c635"/>
<stop offset="0.1818" stop-color="#c8c129"/>
<stop offset="0.2273" stop-color="#dabd28"/>
<stop offset="0.2727" stop-color="#e8bb2e"/>
<stop offset="0.3030" stop-color="#f3ba39"/>
<stop offset="0.3333" stop-color="#f8ba3d"/>
<stop offset="0.3636" stop-color="#febe3c"/>
<stop offset="1.0000" stop-color="#febe3c"/>
</linearGradient>
<linearGradient id="g2_16" gradientUnits="userSpaceOnUse" x1="0" y1="17.6" x2="0" y2="985.7">
<stop offset="0.0000" stop-color="#97ca47"/>
<stop offset="0.0152" stop-color="#97ca47"/>
<stop offset="0.0758" stop-color="#a6c83c"/>
<stop offset="0.1212" stop-color="#bbc42f"/>
<stop offset="0.1667" stop-color="#cfc028"/>
<stop offset="0.2121" stop-color="#ddbd29"/>
<stop offset="0.2424" stop-color="#e8bb2e"/>
<stop offset="0.2727" stop-color="#ecba33"/>
<stop offset="0.3182" stop-color="#f8ba3d"/>
<stop offset="0.3636" stop-color="#febe3c"/>
<stop offset="1.0000" stop-color="#febf3b"/>
</linearGradient>
<linearGradient id="g2_17" gradientUnits="userSpaceOnUse" x1="0" y1="17.6" x2="0" y2="985.7">
<stop offset="0.0000" stop-color="#aac73a"/>
<stop offset="0.0455" stop-color="#adc638"/>
<stop offset="0.1061" stop-color="#c5c22a"/>
<stop offset="0.1515" stop-color="#d2bf27"/>
<stop offset="0.1818" stop-color="#ddbd29"/>
<stop offset="0.2273" stop-color="#e8bb2e"/>
<stop offset="0.3030" stop-color="#f8ba3d"/>
<stop offset="0.3485" stop-color="#febe3c"/>
<stop offset="0.3939" stop-color="#fec13a"/>
<stop offset="1.0000" stop-color="#fec13a"/>
</linearGradient>
<linearGradient id="g2_18" gradientUnits="userSpaceOnUse" x1="0" y1="17.6" x2="0" y2="985.7">
<stop offset="0.0000" stop-color="#bbc42f"/>
<stop offset="0.0152" stop-color="#bbc42f"/>
<stop offset="0.0758" stop-color="#c8c129"/>
<stop offset="0.1061" stop-color="#d2bf27"/>
<stop offset="0.1364" stop-color="#d7be28"/>
<stop offset="0.1515" stop-color="#ddbd29"/>
<stop offset="0.1818" stop-color="#e2bc2b"/>
<stop offset="0.2273" stop-color="#efba35"/>
<stop offset="0.2879" stop-color="#f8ba3d"/>
<stop offset="0.3333" stop-color="#febe3c"/>
<stop offset="0.3939" stop-color="#fec13a"/>
<stop offset="1.0000" stop-color="#fec13a"/>
</linearGradient>
<linearGradient id="g2_19" gradientUnits="userSpaceOnUse" x1="0" y1="17.6" x2="0" y2="985.7">
<stop offset="0.0000" stop-color="#cbc029"/>
<stop offset="0.0152" stop-color="#cbc029"/>
<stop offset="0.1061" stop-color="#dabd28"/>
<stop offset="0.1667" stop-color="#e5bb2d"/>
<stop offset="0.2576" stop-color="#f8ba3d"/>
<stop offset="0.3333" stop-color="#febe3c"/>
<stop offset="0.3939" stop-color="#fec13a"/>
<stop offset="1.0000" stop-color="#fec13a"/>
</linearGradient>
<linearGradient id="g2_20" gradientUnits="userSpaceOnUse" x1="0" y1="17.6" x2="0" y2="985.7">
<stop offset="0.0000" stop-color="#dabd28"/>
<stop offset="0.0606" stop-color="#ddbd29"/>
<stop offset="0.1364" stop-color="#e8bb2e"/>
<stop offset="0.2424" stop-color="#f8ba3d"/>
<stop offset="0.3182" stop-color="#febe3c"/>
<stop offset="0.3939" stop-color="#fec13a"/>
<stop offset="1.0000" stop-color="#fec13a"/>
</linearGradient>
<linearGradient id="g2_21" gradientUnits="userSpaceOnUse" x1="0" y1="17.6" x2="0" y2="985.7">
<stop offset="0.0000" stop-color="#e2bc2b"/>
<stop offset="0.0909" stop-color="#e8bb2e"/>
<stop offset="0.2121" stop-color="#f8ba3d"/>
<stop offset="0.3030" stop-color="#febe3c"/>
<stop offset="0.3939" stop-color="#fec13a"/>
<stop offset="1.0000" stop-color="#fec13a"/>
</linearGradient>
<linearGradient id="g2_22" gradientUnits="userSpaceOnUse" x1="0" y1="17.6" x2="0" y2="985.7">
<stop offset="0.0000" stop-color="#eaba31"/>
<stop offset="0.0606" stop-color="#eaba31"/>
<stop offset="0.1818" stop-color="#f8ba3d"/>
<stop offset="0.2879" stop-color="#febe3c"/>
<stop offset="0.4697" stop-color="#fec239"/>
<stop offset="1.0000" stop-color="#fec239"/>
</linearGradient>
<linearGradient id="g2_23" gradientUnits="userSpaceOnUse" x1="0" y1="17.6" x2="0" y2="985.7">
<stop offset="0.0000" stop-color="#efba35"/>
<stop offset="0.0606" stop-color="#efba35"/>
<stop offset="0.1515" stop-color="#f8ba3d"/>
<stop offset="0.2576" stop-color="#febe3c"/>
<stop offset="0.4545" stop-color="#fec13a"/>
<stop offset="0.4848" stop-color="#fec537"/>
<stop offset="1.0000" stop-color="#fec537"/>
</linearGradient>
<linearGradient id="g2_24" gradientUnits="userSpaceOnUse" x1="0" y1="17.6" x2="0" y2="985.7">
<stop offset="0.0000" stop-color="#f3ba39"/>
<stop offset="0.0758" stop-color="#f3ba39"/>
<stop offset="0.1061" stop-color="#f8ba3d"/>
<stop offset="0.2424" stop-color="#febe3c"/>
<stop offset="0.4545" stop-color="#fec13a"/>
<stop offset="0.5000" stop-color="#fec735"/>
<stop offset="1.0000" stop-color="#fec735"/>
</linearGradient>
<linearGradient id="g2_25" gradientUnits="userSpaceOnUse" x1="0" y1="17.6" x2="0" y2="985.7">
<stop offset="0.0000" stop-color="#f6ba3b"/>
<stop offset="0.0606" stop-color="#f6ba3b"/>
<stop offset="0.2121" stop-color="#febe3c"/>
<stop offset="0.3030" stop-color="#febe3c"/>
<stop offset="0.4545" stop-color="#fec239"/>
<stop offset="0.4848" stop-color="#fec735"/>
<stop offset="1.0000" stop-color="#fec735"/>
</linearGradient>
<linearGradient id="g2_26" gradientUnits="userSpaceOnUse" x1="0" y1="17.6" x2="0" y2="985.7">
<stop offset="0.0000" stop-color="#f8ba3d"/>
<stop offset="0.0909" stop-color="#f9bb3d"/>
<stop offset="0.1515" stop-color="#febe3c"/>
<stop offset="0.4545" stop-color="#fec239"/>
<stop offset="0.4848" stop-color="#fec735"/>
<stop offset="1.0000" stop-color="#fec735"/>
</linearGradient>
<linearGradient id="g2_27" gradientUnits="userSpaceOnUse" x1="0" y1="17.6" x2="0" y2="985.7">
<stop offset="0.0000" stop-color="#f9bb3d"/>
<stop offset="0.0606" stop-color="#f9bb3d"/>
<stop offset="0.1364" stop-color="#febe3c"/>
<stop offset="0.3030" stop-color="#febf3b"/>
<stop offset="0.4848" stop-color="#fec735"/>
<stop offset="1.0000" stop-color="#fec735"/>
</linearGradient>
<linearGradient id="g2_28" gradientUnits="userSpaceOnUse" x1="0" y1="17.6" x2="0" y2="985.7">
<stop offset="0.0000" stop-color="#fbbc3d"/>
<stop offset="0.2879" stop-color="#febf3b"/>
<stop offset="0.5455" stop-color="#fec735"/>
<stop offset="0.5606" stop-color="#fdcc32"/>
<stop offset="1.0000" stop-color="#fdcc32"/>
</linearGradient>
<linearGradient id="g2_29" gradientUnits="userSpaceOnUse" x1="0" y1="17.6" x2="0" y2="985.7">
<stop offset="0.0000" stop-color="#fcbd3d"/>
<stop offset="0.5303" stop-color="#fec735"/>
<stop offset="0.5606" stop-color="#fdcd31"/>
<stop offset="1.0000" stop-color="#fdcd31"/>
</linearGradient>
<linearGradient id="g2_30" gradientUnits="userSpaceOnUse" x1="0" y1="17.6" x2="0" y2="985.7">
<stop offset="0.0000" stop-color="#febe3c"/>
<stop offset="0.2879" stop-color="#fec13a"/>
<stop offset="0.4091" stop-color="#fec735"/>
<stop offset="0.5455" stop-color="#fec834"/>
<stop offset="0.5606" stop-color="#fdcd31"/>
<stop offset="0.5758" stop-color="#f7db2b"/>
<stop offset="1.0000" stop-color="#f7db2b"/>
</linearGradient>
<linearGradient id="g2_31" gradientUnits="userSpaceOnUse" x1="0" y1="17.6" x2="0" y2="985.7">
<stop offset="0.0000" stop-color="#febf3b"/>
<stop offset="0.2727" stop-color="#fec13a"/>
<stop offset="0.3788" stop-color="#fec735"/>
<stop offset="0.5455" stop-color="#feca33"/>
<stop offset="0.5606" stop-color="#fccf30"/>
<stop offset="0.5758" stop-color="#f7dc2a"/>
<stop offset="1.0000" stop-color="#f7dc2a"/>
</linearGradient>
<linearGradient id="g2_32" gradientUnits="userSpaceOnUse" x1="0" y1="17.6" x2="0" y2="985.7">
<stop offset="0.0000" stop-color="#febf3b"/>
<stop offset="0.2576" stop-color="#fec13a"/>
<stop offset="0.4697" stop-color="#fdcc32"/>
<stop offset="0.5455" stop-color="#fdcc32"/>
<stop offset="0.5606" stop-color="#fcd130"/>
<stop offset="0.5758" stop-color="#f6de29"/>
<stop offset="0.5909" stop-color="#f5e128"/>
<stop offset="1.0000" stop-color="#f5e128"/>
</linearGradient>
<linearGradient id="g2_33" gradientUnits="userSpaceOnUse" x1="0" y1="17.6" x2="0" y2="985.7">
<stop offset="0.0000" stop-color="#fec13a"/>
<stop offset="0.2273" stop-color="#fec13a"/>
<stop offset="0.4091" stop-color="#fdcc32"/>
<stop offset="0.5455" stop-color="#fdcd31"/>
<stop offset="0.5606" stop-color="#fbd22f"/>
<stop offset="0.5758" stop-color="#f6de29"/>
<stop offset="0.5909" stop-color="#f5e128"/>
<stop offset="1.0000" stop-color="#f5e128"/>
</linearGradient>
<linearGradient id="g2_34" gradientUnits="userSpaceOnUse" x1="0" y1="17.6" x2="0" y2="985.7">
<stop offset="0.0000" stop-color="#fec239"/>
<stop offset="0.2424" stop-color="#fec239"/>
<stop offset="0.3788" stop-color="#fdcc32"/>
<stop offset="0.5303" stop-color="#fccf30"/>
<stop offset="0.5455" stop-color="#fcd130"/>
<stop offset="0.5758" stop-color="#f6de29"/>
<stop offset="0.5909" stop-color="#f5e128"/>
<stop offset="1.0000" stop-color="#f5e128"/>
</linearGradient>
<linearGradient id="g2_35" gradientUnits="userSpaceOnUse" x1="0" y1="17.6" x2="0" y2="985.7">
<stop offset="0.0000" stop-color="#fec438"/>
<stop offset="0.2273" stop-color="#fec438"/>
<stop offset="0.4394" stop-color="#fcd130"/>
<stop offset="0.5303" stop-color="#fbd22f"/>
<stop offset="0.5606" stop-color="#f9d72c"/>
<stop offset="0.5758" stop-color="#f6e028"/>
<stop offset="0.5909" stop-color="#f5e128"/>
<stop offset="1.0000" stop-color="#f5e128"/>
</linearGradient>
<linearGradient id="g2_36" gradientUnits="userSpaceOnUse" x1="0" y1="17.6" x2="0" y2="985.7">
<stop offset="0.0000" stop-color="#fec735"/>
<stop offset="0.2576" stop-color="#fec735"/>
<stop offset="0.3939" stop-color="#fcd130"/>
<stop offset="0.5303" stop-color="#fad42e"/>
<stop offset="0.5606" stop-color="#f8d92c"/>
<stop offset="0.5758" stop-color="#f6e028"/>
<stop offset="0.5909" stop-color="#f5e128"/>
<stop offset="1.0000" stop-color="#f5e128"/>
</linearGradient>
<linearGradient id="g2_37" gradientUnits="userSpaceOnUse" x1="0" y1="17.6" x2="0" y2="985.7">
<stop offset="0.0000" stop-color="#fec834"/>
<stop offset="0.2273" stop-color="#fec834"/>
<stop offset="0.3636" stop-color="#fcd130"/>
<stop offset="0.5455" stop-color="#f9d72c"/>
<stop offset="0.5758" stop-color="#f6e028"/>
<stop offset="0.6364" stop-color="#f5e128"/>
<stop offset="0.6515" stop-color="#f5e526"/>
<stop offset="1.0000" stop-color="#f5e526"/>
</linearGradient>
<linearGradient id="g2_38" gradientUnits="userSpaceOnUse" x1="0" y1="17.6" x2="0" y2="985.7">
<stop offset="0.0000" stop-color="#fdcc32"/>
<stop offset="0.2424" stop-color="#fdcc32"/>
<stop offset="0.4394" stop-color="#fad62d"/>
<stop offset="0.5152" stop-color="#f9d72c"/>
<stop offset="0.5455" stop-color="#f8d92c"/>
<stop offset="0.5758" stop-color="#f6e028"/>
<stop offset="0.6364" stop-color="#f5e128"/>
<stop offset="0.6667" stop-color="#f5eb23"/>
<stop offset="1.0000" stop-color="#f5eb23"/>
</linearGradient>
<linearGradient id="g2_39" gradientUnits="userSpaceOnUse" x1="0" y1="17.6" x2="0" y2="985.7">
<stop offset="0.0000" stop-color="#fccf30"/>
<stop offset="0.2576" stop-color="#fccf30"/>
<stop offset="0.3485" stop-color="#fbd22f"/>
<stop offset="0.3788" stop-color="#fad62d"/>
<stop offset="0.5152" stop-color="#f8d92c"/>
<stop offset="0.5606" stop-color="#f7dc2a"/>
<stop offset="0.5758" stop-color="#f5e128"/>
<stop offset="0.6212" stop-color="#f5e128"/>
<stop offset="0.6818" stop-color="#f5ee21"/>
<stop offset="1.0000" stop-color="#f5ee21"/>
</linearGradient>
<linearGradient id="g2_40" gradientUnits="userSpaceOnUse" x1="0" y1="17.6" x2="0" y2="985.7">
<stop offset="0.0000" stop-color="#fbd22f"/>
<stop offset="0.2576" stop-color="#fbd22f"/>
<stop offset="0.5303" stop-color="#f7dc2a"/>
<stop offset="0.6364" stop-color="#f5e327"/>
<stop offset="0.6667" stop-color="#f5ed22"/>
<stop offset="0.6818" stop-color="#f5ee21"/>
<stop offset="1.0000" stop-color="#f5ee21"/>
</linearGradient>
<linearGradient id="g2_41" gradientUnits="userSpaceOnUse" x1="0" y1="17.6" x2="0" y2="985.7">
<stop offset="0.0000" stop-color="#fad62d"/>
<stop offset="0.2727" stop-color="#fad62d"/>
<stop offset="0.3485" stop-color="#f9d72c"/>
<stop offset="0.3788" stop-color="#f7db2b"/>
<stop offset="0.5000" stop-color="#f7dc2a"/>
<stop offset="0.6364" stop-color="#f5e526"/>
<stop offset="0.6818" stop-color="#f5ee21"/>
<stop offset="1.0000" stop-color="#f5ee21"/>
</linearGradient>
<linearGradient id="g2_42" gradientUnits="userSpaceOnUse" x1="0" y1="17.6" x2="0" y2="985.7">
<stop offset="0.0000" stop-color="#f8d92c"/>
<stop offset="0.3333" stop-color="#f8d92c"/>
<stop offset="0.6364" stop-color="#f5e625"/>
<stop offset="0.6818" stop-color="#f5ee21"/>
<stop offset="1.0000" stop-color="#f5ee21"/>
</linearGradient>
<linearGradient id="g2_43" gradientUnits="userSpaceOnUse" x1="0" y1="17.6" x2="0" y2="985.7">
<stop offset="0.0000" stop-color="#f7dc2a"/>
<stop offset="0.3485" stop-color="#f7dc2a"/>
<stop offset="0.3939" stop-color="#f6e028"/>
<stop offset="0.4697" stop-color="#f6e028"/>
<stop offset="0.6364" stop-color="#f5e825"/>
<stop offset="0.6818" stop-color="#f5ee21"/>
<stop offset="0.7727" stop-color="#f5ee21"/>
<stop offset="0.8030" stop-color="#f7f31d"/>
<stop offset="1.0000" stop-color="#f7f31d"/>
</linearGradient>
<linearGradient id="g2_44" gradientUnits="userSpaceOnUse" x1="0" y1="17.6" x2="0" y2="985.7">
<stop offset="0.0000" stop-color="#f6de29"/>
<stop offset="0.4545" stop-color="#f5e128"/>
<stop offset="0.6364" stop-color="#f5ea24"/>
<stop offset="0.6667" stop-color="#f5ee21"/>
<stop offset="0.7424" stop-color="#f5ee21"/>
<stop offset="0.7879" stop-color="#f6f21e"/>
<stop offset="0.8182" stop-color="#f8f818"/>
<stop offset="1.0000" stop-color="#f8f818"/>
</linearGradient>
<linearGradient id="g2_45" gradientUnits="userSpaceOnUse" x1="0" y1="17.6" x2="0" y2="985.7">
<stop offset="0.0000" stop-color="#f5e128"/>
<stop offset="0.3485" stop-color="#f5e128"/>
<stop offset="0.7727" stop-color="#f6f01f"/>
<stop offset="0.8182" stop-color="#f8f818"/>
<stop offset="1.0000" stop-color="#f8f818"/>
</linearGradient>
<linearGradient id="g2_46" gradientUnits="userSpaceOnUse" x1="0" y1="17.6" x2="0" y2="985.7">
<stop offset="0.0000" stop-color="#f5e526"/>
<stop offset="0.4091" stop-color="#f5e526"/>
<stop offset="0.7424" stop-color="#f6f01f"/>
<stop offset="0.7879" stop-color="#f7f31d"/>
<stop offset="0.8182" stop-color="#f8f818"/>
<stop offset="1.0000" stop-color="#f8f818"/>
</linearGradient>
<linearGradient id="g2_47" gradientUnits="userSpaceOnUse" x1="0" y1="17.6" x2="0" y2="985.7">
<stop offset="0.0000" stop-color="#f5e625"/>
<stop offset="0.4091" stop-color="#f5e625"/>
<stop offset="0.7727" stop-color="#f6f21e"/>
<stop offset="0.8182" stop-color="#f8f818"/>
<stop offset="1.0000" stop-color="#f8f818"/>
</linearGradient>
<linearGradient id="g2_48" gradientUnits="userSpaceOnUse" x1="0" y1="17.6" x2="0" y2="985.7">
<stop offset="0.0000" stop-color="#f5e825"/>
<stop offset="0.3939" stop-color="#f5e825"/>
<stop offset="0.7424" stop-color="#f6f21e"/>
<stop offset="0.8182" stop-color="#f8f818"/>
<stop offset="1.0000" stop-color="#f8f818"/>
</linearGradient>
<linearGradient id="g2_49" gradientUnits="userSpaceOnUse" x1="0" y1="17.6" x2="0" y2="985.7">
<stop offset="0.0000" stop-color="#f5ea24"/>
<stop offset="0.4091" stop-color="#f5ea24"/>
<stop offset="0.7727" stop-color="#f7f31d"/>
<stop offset="0.8182" stop-color="#f8f818"/>
<stop offset="1.0000" stop-color="#f8f818"/>
</linearGradient>
<linearGradient id="g2_50" gradientUnits="userSpaceOnUse" x1="0" y1="17.6" x2="0" y2="985.7">
<stop offset="0.0000" stop-color="#f5eb23"/>
<stop offset="0.4091" stop-color="#f5eb23"/>
<stop offset="0.7424" stop-color="#f7f31d"/>
<stop offset="0.8030" stop-color="#f8f818"/>
<stop offset="1.0000" stop-color="#f8f818"/>
</linearGradient>
<linearGradient id="g2_51" gradientUnits="userSpaceOnUse" x1="0" y1="17.6" x2="0" y2="985.7">
<stop offset="0.0000" stop-color="#f5eb23"/>
<stop offset="0.5606" stop-color="#f5ee21"/>
<stop offset="0.8030" stop-color="#f8f818"/>
<stop offset="1.0000" stop-color="#f8f818"/>
</linearGradient>
<linearGradient id="g2_52" gradientUnits="userSpaceOnUse" x1="0" y1="17.6" x2="0" y2="985.7">
<stop offset="0.0000" stop-color="#f5ed22"/>
<stop offset="0.4242" stop-color="#f5ee21"/>
<stop offset="0.6818" stop-color="#f7f31d"/>
<stop offset="0.8030" stop-color="#f8f818"/>
<stop offset="1.0000" stop-color="#f9f916"/>
</linearGradient>
<linearGradient id="g2_53" gradientUnits="userSpaceOnUse" x1="0" y1="17.6" x2="0" y2="985.7">
<stop offset="0.0000" stop-color="#f5ee21"/>
<stop offset="0.5606" stop-color="#f6f01f"/>
<stop offset="0.8030" stop-color="#f8f818"/>
<stop offset="1.0000" stop-color="#f9f916"/>
</linearGradient>
<linearGradient id="g2_54" gradientUnits="userSpaceOnUse" x1="0" y1="17.6" x2="0" y2="985.7">
<stop offset="0.0000" stop-color="#f6f01f"/>
<stop offset="0.5909" stop-color="#f6f21e"/>
<stop offset="0.7727" stop-color="#f8f818"/>
<stop offset="1.0000" stop-color="#f9f916"/>
</linearGradient>
<linearGradient id="g2_55" gradientUnits="userSpaceOnUse" x1="0" y1="17.6" x2="0" y2="985.7">
<stop offset="0.0000" stop-color="#f6f21e"/>
<stop offset="0.5606" stop-color="#f6f21e"/>
<stop offset="0.7424" stop-color="#f8f818"/>
<stop offset="0.9697" stop-color="#f8f818"/>
<stop offset="1.0000" stop-color="#f9fb15"/>
</linearGradient>
<linearGradient id="g2_56" gradientUnits="userSpaceOnUse" x1="0" y1="17.6" x2="0" y2="985.7">
<stop offset="0.0000" stop-color="#f6f21e"/>
<stop offset="0.5909" stop-color="#f7f31d"/>
<stop offset="0.7273" stop-color="#f8f818"/>
<stop offset="0.9545" stop-color="#f8f818"/>
<stop offset="1.0000" stop-color="#f9fb15"/>
</linearGradient>
<linearGradient id="g2_57" gradientUnits="userSpaceOnUse" x1="0" y1="17.6" x2="0" y2="985.7">
<stop offset="0.0000" stop-color="#f7f31d"/>
<stop offset="0.5758" stop-color="#f7f31d"/>
<stop offset="0.6970" stop-color="#f8f818"/>
<stop offset="0.9545" stop-color="#f8f818"/>
<stop offset="1.0000" stop-color="#f9fb15"/>
</linearGradient>
<linearGradient id="g2_58" gradientUnits="userSpaceOnUse" x1="0" y1="17.6" x2="0" y2="985.7">
<stop offset="0.0000" stop-color="#f7f31d"/>
<stop offset="0.5606" stop-color="#f7f31d"/>
<stop offset="0.6667" stop-color="#f8f818"/>
<stop offset="0.9545" stop-color="#f8f818"/>
<stop offset="1.0000" stop-color="#f9fb15"/>
</linearGradient>
<linearGradient id="g2_59" gradientUnits="userSpaceOnUse" x1="0" y1="17.6" x2="0" y2="985.7">
<stop offset="0.0000" stop-color="#f7f51b"/>
<stop offset="0.6364" stop-color="#f7f51b"/>
<stop offset="0.6667" stop-color="#f8f818"/>
<stop offset="0.9394" stop-color="#f8f818"/>
<stop offset="1.0000" stop-color="#f9fb15"/>
</linearGradient>
<linearGradient id="g2_60" gradientUnits="userSpaceOnUse" x1="0" y1="17.6" x2="0" y2="985.7">
<stop offset="0.0000" stop-color="#f7f51b"/>
<stop offset="0.6212" stop-color="#f7f51b"/>
<stop offset="0.6515" stop-color="#f8f818"/>
<stop offset="0.9394" stop-color="#f8f818"/>
<stop offset="1.0000" stop-color="#f9fb15"/>
</linearGradient>
<clipPath id="cp2"><rect x="1607.2" y="17.6" width="692.0" height="968.1"/></clipPath>
<linearGradient id="cb" gradientUnits="userSpaceOnUse" x1="0" y1="985.7" x2="0" y2="17.6">
<stop offset="0.0000" stop-color="#3e26a8"/>
<stop offset="0.0083" stop-color="#3f28af"/>
<stop offset="0.0167" stop-color="#402ab5"/>
<stop offset="0.0250" stop-color="#412dbb"/>
<stop offset="0.0333" stop-color="#422fc1"/>
<stop offset="0.0417" stop-color="#4331c7"/>
<stop offset="0.0500" stop-color="#4433cc"/>
<stop offset="0.0583" stop-color="#4535d2"/>
<stop offset="0.0667" stop-color="#4538d7"/>
<stop offset="0.0750" stop-color="#463adc"/>
<stop offset="0.0833" stop-color="#463de0"/>
<stop offset="0.0917" stop-color="#4740e4"/>
<stop offset="0.1000" stop-color="#4743e7"/>
<stop offset="0.1083" stop-color="#4746ea"/>
<stop offset="0.1167" stop-color="#4849ed"/>
<stop offset="0.1250" stop-color="#484cef"/>
<stop offset="0.1333" stop-color="#484ff2"/>
<stop offset="0.1417" stop-color="#4852f4"/>
<stop offset="0.1500" stop-color="#4755f6"/>
<stop offset="0.1583" stop-color="#4758f8"/>
<stop offset="0.1667" stop-color="#475bf9"/>
<stop offset="0.1750" stop-color="#465efb"/>
<stop offset="0.1833" stop-color="#4661fc"/>
<stop offset="0.1917" stop-color="#4564fd"/>
<stop offset="0.2000" stop-color="#4367fd"/>
<stop offset="0.2083" stop-color="#426afe"/>
<stop offset="0.2167" stop-color="#406dfe"/>
<stop offset="0.2250" stop-color="#3d70ff"/>
<stop offset="0.2333" stop-color="#3a74fe"/>
<stop offset="0.2417" stop-color="#3777fe"/>
<stop offset="0.2500" stop-color="#347afd"/>
<stop offset="0.2583" stop-color="#317dfc"/>
<stop offset="0.2667" stop-color="#2f80fa"/>
<stop offset="0.2750" stop-color="#2e83f9"/>
<stop offset="0.2833" stop-color="#2e86f7"/>
<stop offset="0.2917" stop-color="#2d89f5"/>
<stop offset="0.3000" stop-color="#2d8cf3"/>
<stop offset="0.3083" stop-color="#2c8ef1"/>
<stop offset="0.3167" stop-color="#2b91ef"/>
<stop offset="0.3250" stop-color="#2994ed"/>
<stop offset="0.3333" stop-color="#2797eb"/>
<stop offset="0.3417" stop-color="#2699e9"/>
<stop offset="0.3500" stop-color="#259ce7"/>
<stop offset="0.3583" stop-color="#249ee6"/>
<stop offset="0.3667" stop-color="#23a1e5"/>
<stop offset="0.3750" stop-color="#21a3e3"/>
<stop offset="0.3833" stop-color="#1fa5e2"/>
<stop offset="0.3917" stop-color="#1ea8e0"/>
<stop offset="0.4000" stop-color="#1caadf"/>
<stop offset="0.4083" stop-color="#19acdc"/>
<stop offset="0.4167" stop-color="#17aeda"/>
<stop offset="0.4250" stop-color="#13b0d7"/>
<stop offset="0.4333" stop-color="#0fb2d4"/>
<stop offset="0.4417" stop-color="#09b4d1"/>
<stop offset="0.4500" stop-color="#05b6ce"/>
<stop offset="0.4583" stop-color="#02b7cb"/>
<stop offset="0.4667" stop-color="#01b9c7"/>
<stop offset="0.4750" stop-color="#02bac4"/>
<stop offset="0.4833" stop-color="#06bcc0"/>
<stop offset="0.4917" stop-color="#0bbdbd"/>
<stop offset="0.5000" stop-color="#12beb9"/>
<stop offset="0.5083" stop-color="#19bfb5"/>
<stop offset="0.5167" stop-color="#1fc0b2"/>
<stop offset="0.5250" stop-color="#24c2ae"/>
<stop offset="0.5333" stop-color="#29c3aa"/>
<stop offset="0.5417" stop-color="#2cc4a6"/>
<stop offset="0.5500" stop-color="#2fc5a2"/>
<stop offset="0.5583" stop-color="#32c69e"/>
<stop offset="0.5667" stop-color="#35c79a"/>
<stop offset="0.5750" stop-color="#39c895"/>
<stop offset="0.5833" stop-color="#3dc990"/>
<stop offset="0.5917" stop-color="#42ca8b"/>
<stop offset="0.6000" stop-color="#48cb86"/>
<stop offset="0.6083" stop-color="#4ecc81"/>
<stop offset="0.6167" stop-color="#55cc7c"/>
<stop offset="0.6250" stop-color="#5ccc76"/>
<stop offset="0.6333" stop-color="#62cd70"/>
<stop offset="0.6417" stop-color="#6acd6a"/>
<stop offset="0.6500" stop-color="#71cd64"/>
<stop offset="0.6583" stop-color="#79cc5e"/>
<stop offset="0.6667" stop-color="#81cc59"/>
<stop offset="0.6750" stop-color="#88cb53"/>
<stop offset="0.6833" stop-color="#90ca4d"/>
<stop offset="0.6917" stop-color="#97ca47"/>
<stop offset="0.7000" stop-color="#9fc942"/>
<stop offset="0.7083" stop-color="#a6c83c"/>
<stop offset="0.7167" stop-color="#adc638"/>
<stop offset="0.7250" stop-color="#b4c533"/>
<stop offset="0.7333" stop-color="#bbc42f"/>
<stop offset="0.7417" stop-color="#c2c22c"/>
<stop offset="0.7500" stop-color="#c8c129"/>
<stop offset="0.7583" stop-color="#cfc028"/>
<stop offset="0.7667" stop-color="#d4be28"/>
<stop offset="0.7750" stop-color="#dabd28"/>
<stop offset="0.7833" stop-color="#e0bc2a"/>
<stop offset="0.7917" stop-color="#e5bb2d"/>
<stop offset="0.8000" stop-color="#eaba31"/>
<stop offset="0.8083" stop-color="#efba35"/>
<stop offset="0.8167" stop-color="#f3ba39"/>
<stop offset="0.8250" stop-color="#f8ba3d"/>
<stop offset="0.8333" stop-color="#fbbc3d"/>
<stop offset="0.8417" stop-color="#febe3c"/>
<stop offset="0.8500" stop-color="#fec13a"/>
<stop offset="0.8583" stop-color="#fec438"/>
<stop offset="0.8667" stop-color="#fec735"/>
<stop offset="0.8750" stop-color="#feca33"/>
<stop offset="0.8833" stop-color="#fdcd31"/>
<stop offset="0.8917" stop-color="#fcd130"/>
<stop offset="0.9000" stop-color="#fad42e"/>
<stop offset="0.9083" stop-color="#f9d72c"/>
<stop offset="0.9167" stop-color="#f7db2b"/>
<stop offset="0.9250" stop-color="#f6de29"/>
<stop offset="0.9333" stop-color="#f5e128"/>
<stop offset="0.9417" stop-color="#f5e526"/>
<stop offset="0.9500" stop-color="#f5e825"/>
<stop offset="0.9583" stop-color="#f5eb23"/>
<stop offset="0.9667" stop-color="#f5ee21"/>
<stop offset="0.9750" stop-color="#f6f21e"/>
<stop offset="0.9833" stop-color="#f7f51b"/>
<stop offset="0.9917" stop-color="#f8f818"/>
<stop offset="1.0000" stop-color="#f9fb15"/>
</linearGradient>
</defs>
<g clip-path="url(#cp0)">
<rect x="121.2" y="17.6" width="692.1" height="968.1" fill="#f7f71c"/>
<rect x="121.0" y="16.6" width="13.0" height="970.1" fill="url(#g0_0)"/>
<rect x="121.0" y="16.6" width="12.0" height="970.1" fill="url(#g0_1)" mask="url(#hm)"/>
<rect x="133.0" y="16.6" width="12.0" height="970.1" fill="url(#g0_1)"/>
<rect x="133.0" y="16.6" width="11.0" height="970.1" fill="url(#g0_2)" mask="url(#hm)"/>
<rect x="144.0" y="16.6" width="13.0" height="970.1" fill="url(#g0_2)"/>
<rect x="144.0" y="16.6" width="12.0" height="970.1" fill="url(#g0_3)" mask="url(#hm)"/>
<rect x="156.0" y="16.6" width="12.0" height="970.1" fill="url(#g0_3)"/>
<rect x="156.0" y="16.6" width="11.0" height="970.1" fill="url(#g0_4)" mask="url(#hm)"/>
<rect x="167.0" y="16.6" width="13.0" height="970.1" fill="url(#g0_4)"/>
<rect x="167.0" y="16.6" width="12.0" height="970.1" fill="url(#g0_5)" mask="url(#hm)"/>
<rect x="179.0" y="16.6" width="12.0" height="970.1" fill="url(#g0_5)"/>
<rect x="179.0" y="16.6" width="11.0" height="970.1" fill="url(#g0_6)" mask="url(#hm)"/>
<rect x="190.0" y="16.6" width="13.0" height="970.1" fill="url(#g0_6)"/>
<rect x="190.0" y="16.6" width="12.0" height="970.1" fill="url(#g0_7)" mask="url(#hm)"/>
<rect x="202.0" y="16.6" width="12.0" height="970.1" fill="url(#g0_7)"/>
<rect x="202.0" y="16.6" width="11.0" height="970.1" fill="url(#g0_8)" mask="url(#hm)"/>
<rect x="213.0" y="16.6" width="13.0" height="970.1" fill="url(#g0_8)"/>
<rect x="213.0" y="16.6" width="12.0" height="970.1" fill="url(#g0_9)" mask="url(#hm)"/>
<rect x="225.0" y="16.6" width="13.0" height="970.1" fill="url(#g0_9)"/>
<rect x="225.0" y="16.6" width="12.0" height="970.1" fill="url(#g0_10)" mask="url(#hm)"/>
<rect x="237.0" y="16.6" width="12.0" height="970.1" fill="url(#g0_10)"/>
<rect x="237.0" y="16.6" width="11.0" height="970.1" fill="url(#g0_11)" mask="url(#hm)"/>
<rect x="248.0" y="16.6" width="13.0" height="970.1" fill="url(#g0_11)"/>
<rect x="248.0" y="16.6" width="12.0" height="970.1" fill="url(#g0_12)" mask="url(#hm)"/>
<rect x="260.0" y="16.6" width="12.0" height="970.1" fill="url(#g0_12)"/>
<rect x="260.0" y="16.6" width="11.0" height="970.1" fill="url(#g0_13)" mask="url(#hm)"/>
<rect x="271.0" y="16.6" width="13.0" height="970.1" fill="url(#g0_13)"/>
<rect x="271.0" y="16.6" width="12.0" height="970.1" fill="url(#g0_14)" mask="url(#hm)"/>
<rect x="283.0" y="16.6" width="12.0" height="970.1" fill="url(#g0_14)"/>
<rect x="283.0" y="16.6" width="11.0" height="970.1" fill="url(#g0_15)" mask="url(#hm)"/>
<rect x="294.0" y="16.6" width="13.0" height="970.1" fill="url(#g0_15)"/>
<rect x="294.0" y="16.6" width="12.0" height="970.1" fill="url(#g0_16)" mask="url(#hm)"/>
<rect x="306.0" y="16.6" width="12.0" height="970.1" fill="url(#g0_16)"/>
<rect x="306.0" y="16.6" width="11.0" height="970.1" fill="url(#g0_17)" mask="url(#hm)"/>
<rect x="317.0" y="16.6" width="13.0" height="970.1" fill="url(#g0_17)"/>
<rect x="317.0" y="16.6" width="12.0" height="970.1" fill="url(#g0_18)" mask="url(#hm)"/>
<rect x="329.0" y="16.6" width="12.0" height="970.1" fill="url(#g0_18)"/>
<rect x="329.0" y="16.6" width="11.0" height="970.1" fill="url(#g0_19)" mask="url(#hm)"/>
<rect x="340.0" y="16.6" width="13.0" height="970.1" fill="url(#g0_19)"/>
<rect x="340.0" y="16.6" width="12.0" height="970.1" fill="url(#g0_20)" mask="url(#hm)"/>
<rect x="352.0" y="16.6" width="12.0" height="970.1" fill="url(#g0_20)"/>
<rect x="352.0" y="16.6" width="11.0" height="970.1" fill="url(#g0_21)" mask="url(#hm)"/>
<rect x="363.0" y="16.6" width="13.0" height="970.1" fill="url(#g0_21)"/>
<rect x="363.0" y="16.6" width="12.0" height="970.1" fill="url(#g0_22)" mask="url(#hm)"/>
<rect x="375.0" y="16.6" width="13.0" height="970.1" fill="url(#g0_22)"/>
<rect x="375.0" y="16.6" width="12.0" height="970.1" fill="url(#g0_23)" mask="url(#hm)"/>
<rect x="387.0" y="16.6" width="12.0" height="970.1" fill="url(#g0_23)"/>
<rect x="387.0" y="16.6" width="11.0" height="970.1" fill="url(#g0_24)" mask="url(#hm)"/>
<rect x="398.0" y="16.6" width="13.0" height="970.1" fill="url(#g0_24)"/>
<rect x="398.0" y="16.6" width="12.0" height="970.1" fill="url(#g0_25)" mask="url(#hm)"/>
<rect x="410.0" y="16.6" width="12.0" height="970.1" fill="url(#g0_25)"/>
<rect x="410.0" y="16.6" width="11.0" height="970.1" fill="url(#g0_26)" mask="url(#hm)"/>
<rect x="421.0" y="16.6" width="13.0" height="970.1" fill="url(#g0_26)"/>
<rect x="421.0" y="16.6" width="12.0" height="970.1" fill="url(#g0_27)" mask="url(#hm)"/>
<rect x="433.0" y="16.6" width="12.0" height="970.1" fill="url(#g0_27)"/>
<rect x="433.0" y="16.6" width="11.0" height="970.1" fill="url(#g0_28)" mask="url(#hm)"/>
<rect x="444.0" y="16.6" width="13.0" height="970.1" fill="url(#g0_28)"/>
<rect x="444.0" y="16.6" width="12.0" height="970.1" fill="url(#g0_29)" mask="url(#hm)"/>
<rect x="456.0" y="16.6" width="12.0" height="970.1" fill="url(#g0_29)"/>
<rect x="456.0" y="16.6" width="11.0" height="970.1" fill="url(#g0_30)" mask="url(#hm)"/>
<rect x="467.0" y="16.6" width="13.0" height="970.1" fill="url(#g0_30)"/>
<rect x="467.0" y="16.6" width="12.0" height="970.1" fill="url(#g0_31)" mask="url(#hm)"/>
<rect x="479.0" y="16.6" width="12.0" height="970.1" fill="url(#g0_31)"/>
<rect x="479.0" y="16.6" width="11.0" height="970.1" fill="url(#g0_32)" mask="url(#hm)"/>
<rect x="490.0" y="16.6" width="13.0" height="970.1" fill="url(#g0_32)"/>
<rect x="490.0" y="16.6" width="12.0" height="970.1" fill="url(#g0_33)" mask="url(#hm)"/>
<rect x="502.0" y="16.6" width="12.0" height="970.1" fill="url(#g0_33)"/>
<rect x="502.0" y="16.6" width="11.0" height="970.1" fill="url(#g0_34)" mask="url(#hm)"/>
<rect x="513.0" y="16.6" width="13.0" height="970.1" fill="url(#g0_34)"/>
<rect x="513.0" y="16.6" width="12.0" height="970.1" fill="url(#g0_35)" mask="url(#hm)"/>
<rect x="525.0" y="16.6" width="12.0" height="970.1" fill="url(#g0_35)"/>
<rect x="525.0" y="16.6" width="11.0" height="970.1" fill="url(#g0_36)" mask="url(#hm)"/>
<rect x="536.0" y="16.6" width="13.0" height="970.1" fill="url(#g0_36)"/>
<rect x="536.0" y="16.6" width="12.0" height="970.1" fill="url(#g0_37)" mask="url(#hm)"/>
<rect x="548.0" y="16.6" width="13.0" height="970.1" fill="url(#g0_37)"/>
<rect x="548.0" y="16.6" width="12.0" height="970.1" fill="url(#g0_38)" mask="url(#hm)"/>
<rect x="560.0" y="16.6" width="12.0" height="970.1" fill="url(#g0_38)"/>
<rect x="560.0" y="16.6" width="11.0" height="970.1" fill="url(#g0_39)" mask="url(#hm)"/>
<rect x="571.0" y="16.6" width="13.0" height="970.1" fill="url(#g0_39)"/>
<rect x="571.0" y="16.6" width="12.0" height="970.1" fill="url(#g0_40)" mask="url(#hm)"/>
<rect x="583.0" y="16.6" width="12.0" height="970.1" fill="url(#g0_40)"/>
<rect x="583.0" y="16.6" width="11.0" height="970.1" fill="url(#g0_41)" mask="url(#hm)"/>
<rect x="594.0" y="16.6" width="13.0" height="970.1" fill="url(#g0_41)"/>
<rect x="594.0" y="16.6" width="12.0" height="970.1" fill="url(#g0_42)" mask="url(#hm)"/>
<rect x="606.0" y="16.6" width="12.0" height="970.1" fill="url(#g0_42)"/>
<rect x="606.0" y="16.6" width="11.0" height="970.1" fill="url(#g0_43)" mask="url(#hm)"/>
<rect x="617.0" y="16.6" width="13.0" height="970.1" fill="url(#g0_43)"/>
<rect x="617.0" y="16.6" width="12.0" height="970.1" fill="url(#g0_44)" mask="url(#hm)"/>
<rect x="629.0" y="16.6" width="12.0" height="970.1" fill="url(#g0_44)"/>
<rect x="629.0" y="16.6" width="11.0" height="970.1" fill="url(#g0_45)" mask="url(#hm)"/>
<rect x="640.0" y="16.6" width="13.0" height="970.1" fill="url(#g0_45)"/>
<rect x="640.0" y="16.6" width="12.0" height="970.1" fill="url(#g0_46)" mask="url(#hm)"/>
<rect x="652.0" y="16.6" width="12.0" height="970.1" fill="url(#g0_46)"/>
<rect x="652.0" y="16.6" width="11.0" height="970.1" fill="url(#g0_47)" mask="url(#hm)"/>
<rect x="663.0" y="16.6" width="13.0" height="970.1" fill="url(#g0_47)"/>
<rect x="663.0" y="16.6" width="12.0" height="970.1" fill="url(#g0_48)" mask="url(#hm)"/>
<rect x="675.0" y="16.6" width="12.0" height="970.1" fill="url(#g0_48)"/>
<rect x="675.0" y="16.6" width="11.0" height="970.1" fill="url(#g0_49)" mask="url(#hm)"/>
<rect x="686.0" y="16.6" width="13.0" height="970.1" fill="url(#g0_49)"/>
<rect x="686.0" y="16.6" width="12.0" height="970.1" fill="url(#g0_50)" mask="url(#hm)"/>
<rect x="698.0" y="16.6" width="12.0" height="970.1" fill="url(#g0_50)"/>
<rect x="698.0" y="16.6" width="11.0" height="970.1" fill="url(#g0_51)" mask="url(#hm)"/>
<rect x="709.0" y="16.6" width="13.0" height="970.1" fill="url(#g0_51)"/>
<rect x="709.0" y="16.6" width="12.0" height="970.1" fill="url(#g0_52)" mask="url(#hm)"/>
<rect x="721.0" y="16.6" width="13.0" height="970.1" fill="url(#g0_52)"/>
<rect x="721.0" y="16.6" width="12.0" height="970.1" fill="url(#g0_53)" mask="url(#hm)"/>
<rect x="733.0" y="16.6" width="12.0" height="970.1" fill="url(#g0_53)"/>
<rect x="733.0" y="16.6" width="11.0" height="970.1" fill="url(#g0_54)" mask="url(#hm)"/>
<rect x="744.0" y="16.6" width="13.0" height="970.1" fill="url(#g0_54)"/>
<rect x="744.0" y="16.6" width="12.0" height="970.1" fill="url(#g0_55)" mask="url(#hm)"/>
<rect x="756.0" y="16.6" width="12.0" height="970.1" fill="url(#g0_55)"/>
<rect x="756.0" y="16.6" width="11.0" height="970.1" fill="url(#g0_56)" mask="url(#hm)"/>
<rect x="767.0" y="16.6" width="13.0" height="970.1" fill="url(#g0_56)"/>
<rect x="767.0" y="16.6" width="12.0" height="970.1" fill="url(#g0_57)" mask="url(#hm)"/>
<rect x="779.0" y="16.6" width="12.0" height="970.1" fill="url(#g0_57)"/>
<rect x="779.0" y="16.6" width="11.0" height="970.1" fill="url(#g0_58)" mask="url(#hm)"/>
<rect x="790.0" y="16.6" width="13.0" height="970.1" fill="url(#g0_58)"/>
<rect x="790.0" y="16.6" width="12.0" height="970.1" fill="url(#g0_59)" mask="url(#hm)"/>
<rect x="802.0" y="16.6" width="13.0" height="970.1" fill="url(#g0_59)"/>
<rect x="802.0" y="16.6" width="12.0" height="970.1" fill="url(#g0_60)" mask="url(#hm)"/>
<circle cx="249.8" cy="32.3" r="11.3" fill="#2d87f6" stroke="#000" stroke-width="1.9"/>
<circle cx="249.8" cy="76.3" r="11.3" fill="#2d87f6" stroke="#000" stroke-width="1.9"/>
<circle cx="249.8" cy="120.3" r="11.3" fill="#2e85f8" stroke="#000" stroke-width="1.9"/>
<circle cx="249.8" cy="164.3" r="11.3" fill="#81cc59" stroke="#000" stroke-width="1.9"/>
<circle cx="249.8" cy="208.3" r="11.3" fill="#cbc029" stroke="#000" stroke-width="1.9"/>
<circle cx="249.8" cy="252.3" r="11.3" fill="#e0bc2a" stroke="#000" stroke-width="1.9"/>
<circle cx="249.8" cy="296.3" r="11.3" fill="#f3ba39" stroke="#000" stroke-width="1.9"/>
<circle cx="355.8" cy="32.3" r="11.3" fill="#1ea7e1" stroke="#000" stroke-width="1.9"/>
<circle cx="355.8" cy="76.3" r="11.3" fill="#4ecc81" stroke="#000" stroke-width="1.9"/>
<circle cx="355.8" cy="120.3" r="11.3" fill="#c8c129" stroke="#000" stroke-width="1.9"/>
<circle cx="355.8" cy="164.3" r="11.3" fill="#e8bb2e" stroke="#000" stroke-width="1.9"/>
<circle cx="355.8" cy="208.3" r="11.3" fill="#e8bb2e" stroke="#000" stroke-width="1.9"/>
<circle cx="355.8" cy="252.3" r="11.3" fill="#c5c22a" stroke="#000" stroke-width="1.9"/>
<circle cx="355.8" cy="296.3" r="11.3" fill="#ddbd29" stroke="#000" stroke-width="1.9"/>
<circle cx="355.8" cy="340.3" r="11.3" fill="#febe3c" stroke="#000" stroke-width="1.9"/>
<circle cx="355.8" cy="384.3" r="11.3" fill="#febe3c" stroke="#000" stroke-width="1.9"/>
<circle cx="355.8" cy="428.3" r="11.3" fill="#febe3c" stroke="#000" stroke-width="1.9"/>
<circle cx="521.2" cy="32.3" r="11.3" fill="#fec735" stroke="#000" stroke-width="1.9"/>
<circle cx="521.2" cy="76.3" r="11.3" fill="#fec735" stroke="#000" stroke-width="1.9"/>
<circle cx="521.2" cy="120.3" r="11.3" fill="#fec735" stroke="#000" stroke-width="1.9"/>
<circle cx="521.2" cy="164.3" r="11.3" fill="#fec735" stroke="#000" stroke-width="1.9"/>
<circle cx="521.2" cy="208.3" r="11.3" fill="#fec735" stroke="#000" stroke-width="1.9"/>
<circle cx="521.2" cy="252.3" r="11.3" fill="#fec735" stroke="#000" stroke-width="1.9"/>
<circle cx="521.2" cy="296.3" r="11.3" fill="#fec735" stroke="#000" stroke-width="1.9"/>
<circle cx="521.2" cy="340.3" r="11.3" fill="#fec735" stroke="#000" stroke-width="1.9"/>
<circle cx="521.2" cy="384.3" r="11.3" fill="#fec735" stroke="#000" stroke-width="1.9"/>
<circle cx="521.2" cy="428.3" r="11.3" fill="#fec735" stroke="#000" stroke-width="1.9"/>
<circle cx="521.2" cy="472.3" r="11.3" fill="#fec735" stroke="#000" stroke-width="1.9"/>
<circle cx="521.2" cy="516.3" r="11.3" fill="#fec735" stroke="#000" stroke-width="1.9"/>
<circle cx="521.2" cy="560.3" r="11.3" fill="#fec735" stroke="#000" stroke-width="1.9"/>
<circle cx="521.2" cy="604.3" r="11.3" fill="#fec735" stroke="#000" stroke-width="1.9"/>
<circle cx="521.2" cy="648.3" r="11.3" fill="#fec735" stroke="#000" stroke-width="1.9"/>
<circle cx="576.9" cy="32.3" r="11.3" fill="#feca33" stroke="#000" stroke-width="1.9"/>
<circle cx="576.9" cy="76.3" r="11.3" fill="#feca33" stroke="#000" stroke-width="1.9"/>
<circle cx="576.9" cy="120.3" r="11.3" fill="#feca33" stroke="#000" stroke-width="1.9"/>
<circle cx="576.9" cy="164.3" r="11.3" fill="#feca33" stroke="#000" stroke-width="1.9"/>
<circle cx="576.9" cy="208.3" r="11.3" fill="#feca33" stroke="#000" stroke-width="1.9"/>
<circle cx="576.9" cy="252.3" r="11.3" fill="#feca33" stroke="#000" stroke-width="1.9"/>
<circle cx="576.9" cy="296.3" r="11.3" fill="#feca33" stroke="#000" stroke-width="1.9"/>
<circle cx="576.9" cy="340.3" r="11.3" fill="#feca33" stroke="#000" stroke-width="1.9"/>
<circle cx="576.9" cy="384.3" r="11.3" fill="#feca33" stroke="#000" stroke-width="1.9"/>
<circle cx="576.9" cy="428.3" r="11.3" fill="#feca33" stroke="#000" stroke-width="1.9"/>
<circle cx="576.9" cy="472.3" r="11.3" fill="#feca33" stroke="#000" stroke-width="1.9"/>
<circle cx="576.9" cy="516.3" r="11.3" fill="#feca33" stroke="#000" stroke-width="1.9"/>
<circle cx="576.9" cy="560.3" r="11.3" fill="#feca33" stroke="#000" stroke-width="1.9"/>
<circle cx="576.9" cy="604.3" r="11.3" fill="#feca33" stroke="#000" stroke-width="1.9"/>
<circle cx="576.9" cy="648.3" r="11.3" fill="#feca33" stroke="#000" stroke-width="1.9"/>
<circle cx="576.9" cy="692.3" r="11.3" fill="#feca33" stroke="#000" stroke-width="1.9"/>
<circle cx="576.9" cy="736.3" r="11.3" fill="#feca33" stroke="#000" stroke-width="1.9"/>
<circle cx="685.2" cy="32.3" r="11.3" fill="#f5e526" stroke="#000" stroke-width="1.9"/>
<circle cx="685.2" cy="76.3" r="11.3" fill="#f5e526" stroke="#000" stroke-width="1.9"/>
<circle cx="685.2" cy="120.3" r="11.3" fill="#f5e526" stroke="#000" stroke-width="1.9"/>
<circle cx="685.2" cy="164.3" r="11.3" fill="#f5e526" stroke="#000" stroke-width="1.9"/>
<circle cx="685.2" cy="208.3" r="11.3" fill="#f5e526" stroke="#000" stroke-width="1.9"/>
<circle cx="685.2" cy="252.3" r="11.3" fill="#f5e526" stroke="#000" stroke-width="1.9"/>
<circle cx="685.2" cy="296.3" r="11.3" fill="#f5e526" stroke="#000" stroke-width="1.9"/>
<circle cx="685.2" cy="340.3" r="11.3" fill="#f5e526" stroke="#000" stroke-width="1.9"/>
<circle cx="685.2" cy="384.3" r="11.3" fill="#f5e526" stroke="#000" stroke-width="1.9"/>
<circle cx="685.2" cy="428.3" r="11.3" fill="#f5e526" stroke="#000" stroke-width="1.9"/>
<circle cx="685.2" cy="472.3" r="11.3" fill="#f5e526" stroke="#000" stroke-width="1.9"/>
<circle cx="685.2" cy="516.3" r="11.3" fill="#f5e526" stroke="#000" stroke-width="1.9"/>
<circle cx="685.2" cy="560.3" r="11.3" fill="#f5e526" stroke="#000" stroke-width="1.9"/>
<circle cx="685.2" cy="604.3" r="11.3" fill="#f5e526" stroke="#000" stroke-width="1.9"/>
<circle cx="685.2" cy="648.3" r="11.3" fill="#f5e526" stroke="#000" stroke-width="1.9"/>
<circle cx="685.2" cy="692.3" r="11.3" fill="#f5e526" stroke="#000" stroke-width="1.9"/>
<circle cx="685.2" cy="736.3" r="11.3" fill="#f5e526" stroke="#000" stroke-width="1.9"/>
<circle cx="685.2" cy="780.3" r="11.3" fill="#f5e526" stroke="#000" stroke-width="1.9"/>
<circle cx="685.2" cy="824.4" r="11.3" fill="#f5e526" stroke="#000" stroke-width="1.9"/>
<circle cx="685.2" cy="868.4" r="11.3" fill="#f5e526" stroke="#000" stroke-width="1.9"/>
<polygon points="119.2,987.7 121.2,159.7 154.2,184.0 207.8,233.2 233.9,267.1 259.3,297.6 289.8,343.4 337.3,418.0 364.4,467.1 386.7,500.0 424.6,553.5 478.1,622.7 531.7,691.8 580.7,756.5 634.2,825.6 687.8,881.4 739.0,919.3 790.3,943.8 813.3,951.6 813.3,987.7" fill="#808080"/>
</g>
<line x1="116.0" y1="32.3" x2="121.2" y2="32.3" stroke="#3c3c3c" stroke-width="1.25"/>
<line x1="110.7" y1="105.6" x2="121.2" y2="105.6" stroke="#3c3c3c" stroke-width="1.25"/>
<text x="100.3" y="122.9" font-size="48" text-anchor="end" fill="#262626">10</text>
<line x1="116.0" y1="178.9" x2="121.2" y2="178.9" stroke="#3c3c3c" stroke-width="1.25"/>
<line x1="110.7" y1="252.3" x2="121.2" y2="252.3" stroke="#3c3c3c" stroke-width="1.25"/>
<text x="100.3" y="269.6" font-size="48" text-anchor="end" fill="#262626">20</text>
<line x1="116.0" y1="325.6" x2="121.2" y2="325.6" stroke="#3c3c3c" stroke-width="1.25"/>
<line x1="110.7" y1="399.0" x2="121.2" y2="399.0" stroke="#3c3c3c" stroke-width="1.25"/>
<text x="100.3" y="416.3" font-size="48" text-anchor="end" fill="#262626">30</text>
<line x1="116.0" y1="472.3" x2="121.2" y2="472.3" stroke="#3c3c3c" stroke-width="1.25"/>
<line x1="110.7" y1="545.7" x2="121.2" y2="545.7" stroke="#3c3c3c" stroke-width="1.25"/>
<text x="100.3" y="563.0" font-size="48" text-anchor="end" fill="#262626">40</text>
<line x1="116.0" y1="619.0" x2="121.2" y2="619.0" stroke="#3c3c3c" stroke-width="1.25"/>
<line x1="110.7" y1="692.3" x2="121.2" y2="692.3" stroke="#3c3c3c" stroke-width="1.25"/>
<text x="100.3" y="709.6" font-size="48" text-anchor="end" fill="#262626">50</text>
<line x1="116.0" y1="765.7" x2="121.2" y2="765.7" stroke="#3c3c3c" stroke-width="1.25"/>
<line x1="110.7" y1="839.0" x2="121.2" y2="839.0" stroke="#3c3c3c" stroke-width="1.25"/>
<text x="100.3" y="856.3" font-size="48" text-anchor="end" fill="#262626">60</text>
<line x1="116.0" y1="912.4" x2="121.2" y2="912.4" stroke="#3c3c3c" stroke-width="1.25"/>
<line x1="110.7" y1="985.7" x2="121.2" y2="985.7" stroke="#3c3c3c" stroke-width="1.25"/>
<text x="100.3" y="1003.0" font-size="48" text-anchor="end" fill="#262626">70</text>
<line x1="367.3" y1="985.7" x2="367.3" y2="996.7" stroke="#3c3c3c" stroke-width="1.25"/>
<text x="367.3" y="1052.2" font-size="48" text-anchor="middle" fill="#262626">122</text>
<line x1="622.6" y1="985.7" x2="622.6" y2="996.7" stroke="#3c3c3c" stroke-width="1.25"/>
<text x="622.6" y="1052.2" font-size="48" text-anchor="middle" fill="#262626">122.2</text>
<line x1="239.6" y1="985.7" x2="239.6" y2="991.1" stroke="#3c3c3c" stroke-width="1.25"/>
<line x1="495.0" y1="985.7" x2="495.0" y2="991.1" stroke="#3c3c3c" stroke-width="1.25"/>
<line x1="751.0" y1="985.7" x2="751.0" y2="991.1" stroke="#3c3c3c" stroke-width="1.25"/>
<line x1="121.2" y1="17.6" x2="121.2" y2="985.7" stroke="#4a4a4a" stroke-width="1"/>
<line x1="121.2" y1="985.7" x2="813.3" y2="985.7" stroke="#4a4a4a" stroke-width="0.9" opacity="0.6"/>
<text x="159.6" y="953.8" font-size="53" font-weight="bold" fill="#000">(A) Transect a</text>
<g clip-path="url(#cp1)">
<rect x="864.4" y="17.6" width="692.0" height="968.1" fill="#f7f71c"/>
<rect x="864.0" y="16.6" width="13.0" height="970.1" fill="url(#g1_0)"/>
<rect x="864.0" y="16.6" width="12.0" height="970.1" fill="url(#g1_1)" mask="url(#hm)"/>
<rect x="876.0" y="16.6" width="12.0" height="970.1" fill="url(#g1_1)"/>
<rect x="876.0" y="16.6" width="11.0" height="970.1" fill="url(#g1_2)" mask="url(#hm)"/>
<rect x="887.0" y="16.6" width="13.0" height="970.1" fill="url(#g1_2)"/>
<rect x="887.0" y="16.6" width="12.0" height="970.1" fill="url(#g1_3)" mask="url(#hm)"/>
<rect x="899.0" y="16.6" width="13.0" height="970.1" fill="url(#g1_3)"/>
<rect x="899.0" y="16.6" width="12.0" height="970.1" fill="url(#g1_4)" mask="url(#hm)"/>
<rect x="911.0" y="16.6" width="12.0" height="970.1" fill="url(#g1_4)"/>
<rect x="911.0" y="16.6" width="11.0" height="970.1" fill="url(#g1_5)" mask="url(#hm)"/>
<rect x="922.0" y="16.6" width="13.0" height="970.1" fill="url(#g1_5)"/>
<rect x="922.0" y="16.6" width="12.0" height="970.1" fill="url(#g1_6)" mask="url(#hm)"/>
<rect x="934.0" y="16.6" width="12.0" height="970.1" fill="url(#g1_6)"/>
<rect x="934.0" y="16.6" width="11.0" height="970.1" fill="url(#g1_7)" mask="url(#hm)"/>
<rect x="945.0" y="16.6" width="13.0" height="970.1" fill="url(#g1_7)"/>
<rect x="945.0" y="16.6" width="12.0" height="970.1" fill="url(#g1_8)" mask="url(#hm)"/>
<rect x="957.0" y="16.6" width="12.0" height="970.1" fill="url(#g1_8)"/>
<rect x="957.0" y="16.6" width="11.0" height="970.1" fill="url(#g1_9)" mask="url(#hm)"/>
<rect x="968.0" y="16.6" width="13.0" height="970.1" fill="url(#g1_9)"/>
<rect x="968.0" y="16.6" width="12.0" height="970.1" fill="url(#g1_10)" mask="url(#hm)"/>
<rect x="980.0" y="16.6" width="12.0" height="970.1" fill="url(#g1_10)"/>
<rect x="980.0" y="16.6" width="11.0" height="970.1" fill="url(#g1_11)" mask="url(#hm)"/>
<rect x="991.0" y="16.6" width="13.0" height="970.1" fill="url(#g1_11)"/>
<rect x="991.0" y="16.6" width="12.0" height="970.1" fill="url(#g1_12)" mask="url(#hm)"/>
<rect x="1003.0" y="16.6" width="12.0" height="970.1" fill="url(#g1_12)"/>
<rect x="1003.0" y="16.6" width="11.0" height="970.1" fill="url(#g1_13)" mask="url(#hm)"/>
<rect x="1014.0" y="16.6" width="13.0" height="970.1" fill="url(#g1_13)"/>
<rect x="1014.0" y="16.6" width="12.0" height="970.1" fill="url(#g1_14)" mask="url(#hm)"/>
<rect x="1026.0" y="16.6" width="12.0" height="970.1" fill="url(#g1_14)"/>
<rect x="1026.0" y="16.6" width="11.0" height="970.1" fill="url(#g1_15)" mask="url(#hm)"/>
<rect x="1037.0" y="16.6" width="13.0" height="970.1" fill="url(#g1_15)"/>
<rect x="1037.0" y="16.6" width="12.0" height="970.1" fill="url(#g1_16)" mask="url(#hm)"/>
<rect x="1049.0" y="16.6" width="12.0" height="970.1" fill="url(#g1_16)"/>
<rect x="1049.0" y="16.6" width="11.0" height="970.1" fill="url(#g1_17)" mask="url(#hm)"/>
<rect x="1060.0" y="16.6" width="13.0" height="970.1" fill="url(#g1_17)"/>
<rect x="1060.0" y="16.6" width="12.0" height="970.1" fill="url(#g1_18)" mask="url(#hm)"/>
<rect x="1072.0" y="16.6" width="13.0" height="970.1" fill="url(#g1_18)"/>
<rect x="1072.0" y="16.6" width="12.0" height="970.1" fill="url(#g1_19)" mask="url(#hm)"/>
<rect x="1084.0" y="16.6" width="12.0" height="970.1" fill="url(#g1_19)"/>
<rect x="1084.0" y="16.6" width="11.0" height="970.1" fill="url(#g1_20)" mask="url(#hm)"/>
<rect x="1095.0" y="16.6" width="13.0" height="970.1" fill="url(#g1_20)"/>
<rect x="1095.0" y="16.6" width="12.0" height="970.1" fill="url(#g1_21)" mask="url(#hm)"/>
<rect x="1107.0" y="16.6" width="12.0" height="970.1" fill="url(#g1_21)"/>
<rect x="1107.0" y="16.6" width="11.0" height="970.1" fill="url(#g1_22)" mask="url(#hm)"/>
<rect x="1118.0" y="16.6" width="13.0" height="970.1" fill="url(#g1_22)"/>
<rect x="1118.0" y="16.6" width="12.0" height="970.1" fill="url(#g1_23)" mask="url(#hm)"/>
<rect x="1130.0" y="16.6" width="12.0" height="970.1" fill="url(#g1_23)"/>
<rect x="1130.0" y="16.6" width="11.0" height="970.1" fill="url(#g1_24)" mask="url(#hm)"/>
<rect x="1141.0" y="16.6" width="13.0" height="970.1" fill="url(#g1_24)"/>
<rect x="1141.0" y="16.6" width="12.0" height="970.1" fill="url(#g1_25)" mask="url(#hm)"/>
<rect x="1153.0" y="16.6" width="12.0" height="970.1" fill="url(#g1_25)"/>
<rect x="1153.0" y="16.6" width="11.0" height="970.1" fill="url(#g1_26)" mask="url(#hm)"/>
<rect x="1164.0" y="16.6" width="13.0" height="970.1" fill="url(#g1_26)"/>
<rect x="1164.0" y="16.6" width="12.0" height="970.1" fill="url(#g1_27)" mask="url(#hm)"/>
<rect x="1176.0" y="16.6" width="12.0" height="970.1" fill="url(#g1_27)"/>
<rect x="1176.0" y="16.6" width="11.0" height="970.1" fill="url(#g1_28)" mask="url(#hm)"/>
<rect x="1187.0" y="16.6" width="13.0" height="970.1" fill="url(#g1_28)"/>
<rect x="1187.0" y="16.6" width="12.0" height="970.1" fill="url(#g1_29)" mask="url(#hm)"/>
<rect x="1199.0" y="16.6" width="12.0" height="970.1" fill="url(#g1_29)"/>
<rect x="1199.0" y="16.6" width="11.0" height="970.1" fill="url(#g1_30)" mask="url(#hm)"/>
<rect x="1210.0" y="16.6" width="13.0" height="970.1" fill="url(#g1_30)"/>
<rect x="1210.0" y="16.6" width="12.0" height="970.1" fill="url(#g1_31)" mask="url(#hm)"/>
<rect x="1222.0" y="16.6" width="12.0" height="970.1" fill="url(#g1_31)"/>
<rect x="1222.0" y="16.6" width="11.0" height="970.1" fill="url(#g1_32)" mask="url(#hm)"/>
<rect x="1233.0" y="16.6" width="13.0" height="970.1" fill="url(#g1_32)"/>
<rect x="1233.0" y="16.6" width="12.0" height="970.1" fill="url(#g1_33)" mask="url(#hm)"/>
<rect x="1245.0" y="16.6" width="13.0" height="970.1" fill="url(#g1_33)"/>
<rect x="1245.0" y="16.6" width="12.0" height="970.1" fill="url(#g1_34)" mask="url(#hm)"/>
<rect x="1257.0" y="16.6" width="12.0" height="970.1" fill="url(#g1_34)"/>
<rect x="1257.0" y="16.6" width="11.0" height="970.1" fill="url(#g1_35)" mask="url(#hm)"/>
<rect x="1268.0" y="16.6" width="13.0" height="970.1" fill="url(#g1_35)"/>
<rect x="1268.0" y="16.6" width="12.0" height="970.1" fill="url(#g1_36)" mask="url(#hm)"/>
<rect x="1280.0" y="16.6" width="12.0" height="970.1" fill="url(#g1_36)"/>
<rect x="1280.0" y="16.6" width="11.0" height="970.1" fill="url(#g1_37)" mask="url(#hm)"/>
<rect x="1291.0" y="16.6" width="13.0" height="970.1" fill="url(#g1_37)"/>
<rect x="1291.0" y="16.6" width="12.0" height="970.1" fill="url(#g1_38)" mask="url(#hm)"/>
<rect x="1303.0" y="16.6" width="12.0" height="970.1" fill="url(#g1_38)"/>
<rect x="1303.0" y="16.6" width="11.0" height="970.1" fill="url(#g1_39)" mask="url(#hm)"/>
<rect x="1314.0" y="16.6" width="13.0" height="970.1" fill="url(#g1_39)"/>
<rect x="1314.0" y="16.6" width="12.0" height="970.1" fill="url(#g1_40)" mask="url(#hm)"/>
<rect x="1326.0" y="16.6" width="12.0" height="970.1" fill="url(#g1_40)"/>
<rect x="1326.0" y="16.6" width="11.0" height="970.1" fill="url(#g1_41)" mask="url(#hm)"/>
<rect x="1337.0" y="16.6" width="13.0" height="970.1" fill="url(#g1_41)"/>
<rect x="1337.0" y="16.6" width="12.0" height="970.1" fill="url(#g1_42)" mask="url(#hm)"/>
<rect x="1349.0" y="16.6" width="12.0" height="970.1" fill="url(#g1_42)"/>
<rect x="1349.0" y="16.6" width="11.0" height="970.1" fill="url(#g1_43)" mask="url(#hm)"/>
<rect x="1360.0" y="16.6" width="13.0" height="970.1" fill="url(#g1_43)"/>
<rect x="1360.0" y="16.6" width="12.0" height="970.1" fill="url(#g1_44)" mask="url(#hm)"/>
<rect x="1372.0" y="16.6" width="12.0" height="970.1" fill="url(#g1_44)"/>
<rect x="1372.0" y="16.6" width="11.0" height="970.1" fill="url(#g1_45)" mask="url(#hm)"/>
<rect x="1383.0" y="16.6" width="13.0" height="970.1" fill="url(#g1_45)"/>
<rect x="1383.0" y="16.6" width="12.0" height="970.1" fill="url(#g1_46)" mask="url(#hm)"/>
<rect x="1395.0" y="16.6" width="12.0" height="970.1" fill="url(#g1_46)"/>
<rect x="1395.0" y="16.6" width="11.0" height="970.1" fill="url(#g1_47)" mask="url(#hm)"/>
<rect x="1406.0" y="16.6" width="13.0" height="970.1" fill="url(#g1_47)"/>
<rect x="1406.0" y="16.6" width="12.0" height="970.1" fill="url(#g1_48)" mask="url(#hm)"/>
<rect x="1418.0" y="16.6" width="13.0" height="970.1" fill="url(#g1_48)"/>
<rect x="1418.0" y="16.6" width="12.0" height="970.1" fill="url(#g1_49)" mask="url(#hm)"/>
<rect x="1430.0" y="16.6" width="12.0" height="970.1" fill="url(#g1_49)"/>
<rect x="1430.0" y="16.6" width="11.0" height="970.1" fill="url(#g1_50)" mask="url(#hm)"/>
<rect x="1441.0" y="16.6" width="13.0" height="970.1" fill="url(#g1_50)"/>
<rect x="1441.0" y="16.6" width="12.0" height="970.1" fill="url(#g1_51)" mask="url(#hm)"/>
<rect x="1453.0" y="16.6" width="12.0" height="970.1" fill="url(#g1_51)"/>
<rect x="1453.0" y="16.6" width="11.0" height="970.1" fill="url(#g1_52)" mask="url(#hm)"/>
<rect x="1464.0" y="16.6" width="13.0" height="970.1" fill="url(#g1_52)"/>
<rect x="1464.0" y="16.6" width="12.0" height="970.1" fill="url(#g1_53)" mask="url(#hm)"/>
<rect x="1476.0" y="16.6" width="12.0" height="970.1" fill="url(#g1_53)"/>
<rect x="1476.0" y="16.6" width="11.0" height="970.1" fill="url(#g1_54)" mask="url(#hm)"/>
<rect x="1487.0" y="16.6" width="13.0" height="970.1" fill="url(#g1_54)"/>
<rect x="1487.0" y="16.6" width="12.0" height="970.1" fill="url(#g1_55)" mask="url(#hm)"/>
<rect x="1499.0" y="16.6" width="12.0" height="970.1" fill="url(#g1_55)"/>
<rect x="1499.0" y="16.6" width="11.0" height="970.1" fill="url(#g1_56)" mask="url(#hm)"/>
<rect x="1510.0" y="16.6" width="13.0" height="970.1" fill="url(#g1_56)"/>
<rect x="1510.0" y="16.6" width="12.0" height="970.1" fill="url(#g1_57)" mask="url(#hm)"/>
<rect x="1522.0" y="16.6" width="12.0" height="970.1" fill="url(#g1_57)"/>
<rect x="1522.0" y="16.6" width="11.0" height="970.1" fill="url(#g1_58)" mask="url(#hm)"/>
<rect x="1533.0" y="16.6" width="13.0" height="970.1" fill="url(#g1_58)"/>
<rect x="1533.0" y="16.6" width="12.0" height="970.1" fill="url(#g1_59)" mask="url(#hm)"/>
<rect x="1545.0" y="16.6" width="13.0" height="970.1" fill="url(#g1_59)"/>
<rect x="1545.0" y="16.6" width="12.0" height="970.1" fill="url(#g1_60)" mask="url(#hm)"/>
<circle cx="973.8" cy="32.3" r="11.3" fill="#2b91ef" stroke="#000" stroke-width="1.9"/>
<circle cx="973.8" cy="76.3" r="11.3" fill="#2b91ef" stroke="#000" stroke-width="1.9"/>
<circle cx="973.8" cy="120.3" r="11.3" fill="#2994ed" stroke="#000" stroke-width="1.9"/>
<circle cx="973.8" cy="164.3" r="11.3" fill="#24c2ae" stroke="#000" stroke-width="1.9"/>
<circle cx="973.8" cy="208.3" r="11.3" fill="#24c2ae" stroke="#000" stroke-width="1.9"/>
<circle cx="973.8" cy="252.3" r="11.3" fill="#4ecc81" stroke="#000" stroke-width="1.9"/>
<circle cx="1066.5" cy="32.3" r="11.3" fill="#1fc0b2" stroke="#000" stroke-width="1.9"/>
<circle cx="1066.5" cy="76.3" r="11.3" fill="#24c2ae" stroke="#000" stroke-width="1.9"/>
<circle cx="1066.5" cy="120.3" r="11.3" fill="#29c3aa" stroke="#000" stroke-width="1.9"/>
<circle cx="1066.5" cy="164.3" r="11.3" fill="#35c79a" stroke="#000" stroke-width="1.9"/>
<circle cx="1066.5" cy="208.3" r="11.3" fill="#6acd6a" stroke="#000" stroke-width="1.9"/>
<circle cx="1066.5" cy="252.3" r="11.3" fill="#c8c129" stroke="#000" stroke-width="1.9"/>
<circle cx="1066.5" cy="296.3" r="11.3" fill="#e5bb2d" stroke="#000" stroke-width="1.9"/>
<circle cx="1066.5" cy="340.3" r="11.3" fill="#febe3c" stroke="#000" stroke-width="1.9"/>
<circle cx="1066.5" cy="384.3" r="11.3" fill="#febe3c" stroke="#000" stroke-width="1.9"/>
<circle cx="1163.9" cy="32.3" r="11.3" fill="#81cc59" stroke="#000" stroke-width="1.9"/>
<circle cx="1163.9" cy="76.3" r="11.3" fill="#adc638" stroke="#000" stroke-width="1.9"/>
<circle cx="1163.9" cy="120.3" r="11.3" fill="#f8ba3d" stroke="#000" stroke-width="1.9"/>
<circle cx="1163.9" cy="164.3" r="11.3" fill="#fec13a" stroke="#000" stroke-width="1.9"/>
<circle cx="1163.9" cy="208.3" r="11.3" fill="#fec13a" stroke="#000" stroke-width="1.9"/>
<circle cx="1163.9" cy="252.3" r="11.3" fill="#fec13a" stroke="#000" stroke-width="1.9"/>
<circle cx="1163.9" cy="296.3" r="11.3" fill="#fec13a" stroke="#000" stroke-width="1.9"/>
<circle cx="1163.9" cy="340.3" r="11.3" fill="#fec438" stroke="#000" stroke-width="1.9"/>
<circle cx="1163.9" cy="384.3" r="11.3" fill="#fec735" stroke="#000" stroke-width="1.9"/>
<circle cx="1163.9" cy="428.3" r="11.3" fill="#fec735" stroke="#000" stroke-width="1.9"/>
<circle cx="1163.9" cy="472.3" r="11.3" fill="#feca33" stroke="#000" stroke-width="1.9"/>
<circle cx="1163.9" cy="516.3" r="11.3" fill="#feca33" stroke="#000" stroke-width="1.9"/>
<circle cx="1258.0" cy="32.3" r="11.3" fill="#fec13a" stroke="#000" stroke-width="1.9"/>
<circle cx="1258.0" cy="76.3" r="11.3" fill="#fec13a" stroke="#000" stroke-width="1.9"/>
<circle cx="1258.0" cy="120.3" r="11.3" fill="#fec13a" stroke="#000" stroke-width="1.9"/>
<circle cx="1258.0" cy="164.3" r="11.3" fill="#fec13a" stroke="#000" stroke-width="1.9"/>
<circle cx="1258.0" cy="208.3" r="11.3" fill="#fec13a" stroke="#000" stroke-width="1.9"/>
<circle cx="1258.0" cy="252.3" r="11.3" fill="#fec13a" stroke="#000" stroke-width="1.9"/>
<circle cx="1258.0" cy="296.3" r="11.3" fill="#fec13a" stroke="#000" stroke-width="1.9"/>
<circle cx="1258.0" cy="340.3" r="11.3" fill="#fec13a" stroke="#000" stroke-width="1.9"/>
<circle cx="1258.0" cy="384.3" r="11.3" fill="#fec13a" stroke="#000" stroke-width="1.9"/>
<circle cx="1258.0" cy="428.3" r="11.3" fill="#fec13a" stroke="#000" stroke-width="1.9"/>
<circle cx="1258.0" cy="472.3" r="11.3" fill="#fec13a" stroke="#000" stroke-width="1.9"/>
<circle cx="1258.0" cy="516.3" r="11.3" fill="#fec13a" stroke="#000" stroke-width="1.9"/>
<circle cx="1258.0" cy="560.3" r="11.3" fill="#fec438" stroke="#000" stroke-width="1.9"/>
<circle cx="1258.0" cy="604.3" r="11.3" fill="#fec438" stroke="#000" stroke-width="1.9"/>
<circle cx="1258.0" cy="648.3" r="11.3" fill="#fec438" stroke="#000" stroke-width="1.9"/>
<circle cx="1363.4" cy="32.3" r="11.3" fill="#fcd130" stroke="#000" stroke-width="1.9"/>
<circle cx="1363.4" cy="76.3" r="11.3" fill="#fcd130" stroke="#000" stroke-width="1.9"/>
<circle cx="1363.4" cy="120.3" r="11.3" fill="#fcd130" stroke="#000" stroke-width="1.9"/>
<circle cx="1363.4" cy="164.3" r="11.3" fill="#fcd130" stroke="#000" stroke-width="1.9"/>
<circle cx="1363.4" cy="208.3" r="11.3" fill="#fcd130" stroke="#000" stroke-width="1.9"/>
<circle cx="1363.4" cy="252.3" r="11.3" fill="#fcd130" stroke="#000" stroke-width="1.9"/>
<circle cx="1363.4" cy="296.3" r="11.3" fill="#fcd130" stroke="#000" stroke-width="1.9"/>
<circle cx="1363.4" cy="340.3" r="11.3" fill="#fcd130" stroke="#000" stroke-width="1.9"/>
<circle cx="1363.4" cy="384.3" r="11.3" fill="#fcd130" stroke="#000" stroke-width="1.9"/>
<circle cx="1363.4" cy="428.3" r="11.3" fill="#fcd130" stroke="#000" stroke-width="1.9"/>
<circle cx="1363.4" cy="472.3" r="11.3" fill="#fcd130" stroke="#000" stroke-width="1.9"/>
<circle cx="1363.4" cy="516.3" r="11.3" fill="#fcd130" stroke="#000" stroke-width="1.9"/>
<circle cx="1363.4" cy="560.3" r="11.3" fill="#fcd130" stroke="#000" stroke-width="1.9"/>
<circle cx="1363.4" cy="604.3" r="11.3" fill="#fcd130" stroke="#000" stroke-width="1.9"/>
<circle cx="1363.4" cy="648.3" r="11.3" fill="#fcd130" stroke="#000" stroke-width="1.9"/>
<circle cx="1363.4" cy="692.3" r="11.3" fill="#fcd130" stroke="#000" stroke-width="1.9"/>
<circle cx="1363.4" cy="736.3" r="11.3" fill="#fcd130" stroke="#000" stroke-width="1.9"/>
<circle cx="1363.4" cy="780.3" r="11.3" fill="#fcd130" stroke="#000" stroke-width="1.9"/>
<circle cx="1447.2" cy="32.3" r="11.3" fill="#f5e526" stroke="#000" stroke-width="1.9"/>
<circle cx="1447.2" cy="76.3" r="11.3" fill="#f5e526" stroke="#000" stroke-width="1.9"/>
<circle cx="1447.2" cy="120.3" r="11.3" fill="#f5e526" stroke="#000" stroke-width="1.9"/>
<circle cx="1447.2" cy="164.3" r="11.3" fill="#f5e526" stroke="#000" stroke-width="1.9"/>
<circle cx="1447.2" cy="208.3" r="11.3" fill="#f5e526" stroke="#000" stroke-width="1.9"/>
<circle cx="1447.2" cy="252.3" r="11.3" fill="#f5e526" stroke="#000" stroke-width="1.9"/>
<circle cx="1447.2" cy="296.3" r="11.3" fill="#f5e526" stroke="#000" stroke-width="1.9"/>
<circle cx="1447.2" cy="340.3" r="11.3" fill="#f5e526" stroke="#000" stroke-width="1.9"/>
<circle cx="1447.2" cy="384.3" r="11.3" fill="#f5e526" stroke="#000" stroke-width="1.9"/>
<circle cx="1447.2" cy="428.3" r="11.3" fill="#f5e526" stroke="#000" stroke-width="1.9"/>
<circle cx="1447.2" cy="472.3" r="11.3" fill="#f5e526" stroke="#000" stroke-width="1.9"/>
<circle cx="1447.2" cy="516.3" r="11.3" fill="#f5e526" stroke="#000" stroke-width="1.9"/>
<circle cx="1447.2" cy="560.3" r="11.3" fill="#f5e526" stroke="#000" stroke-width="1.9"/>
<circle cx="1447.2" cy="604.3" r="11.3" fill="#f5e526" stroke="#000" stroke-width="1.9"/>
<circle cx="1447.2" cy="648.3" r="11.3" fill="#f5e526" stroke="#000" stroke-width="1.9"/>
<circle cx="1447.2" cy="692.3" r="11.3" fill="#f5e526" stroke="#000" stroke-width="1.9"/>
<circle cx="1447.2" cy="736.3" r="11.3" fill="#f5e526" stroke="#000" stroke-width="1.9"/>
<circle cx="1447.2" cy="780.3" r="11.3" fill="#f5e526" stroke="#000" stroke-width="1.9"/>
<circle cx="1447.2" cy="824.4" r="11.3" fill="#f5e526" stroke="#000" stroke-width="1.9"/>
<circle cx="1447.2" cy="868.4" r="11.3" fill="#f5e526" stroke="#000" stroke-width="1.9"/>
<circle cx="1447.2" cy="912.4" r="11.3" fill="#f5e526" stroke="#000" stroke-width="1.9"/>
<polygon points="862.4,987.7 864.4,167.7 879.0,179.3 916.9,218.0 966.0,269.3 1017.3,318.4 1064.1,376.4 1108.7,438.8 1153.3,501.3 1197.9,563.7 1242.4,624.0 1287.5,698.0 1334.7,786.2 1377.7,866.2 1422.9,946.2 1455.7,985.2 1455.7,987.7" fill="#808080"/>
</g>
<line x1="859.2" y1="32.3" x2="864.4" y2="32.3" stroke="#3c3c3c" stroke-width="1.25"/>
<line x1="853.9" y1="105.6" x2="864.4" y2="105.6" stroke="#3c3c3c" stroke-width="1.25"/>
<line x1="859.2" y1="178.9" x2="864.4" y2="178.9" stroke="#3c3c3c" stroke-width="1.25"/>
<line x1="853.9" y1="252.3" x2="864.4" y2="252.3" stroke="#3c3c3c" stroke-width="1.25"/>
<line x1="859.2" y1="325.6" x2="864.4" y2="325.6" stroke="#3c3c3c" stroke-width="1.25"/>
<line x1="853.9" y1="399.0" x2="864.4" y2="399.0" stroke="#3c3c3c" stroke-width="1.25"/>
<line x1="859.2" y1="472.3" x2="864.4" y2="472.3" stroke="#3c3c3c" stroke-width="1.25"/>
<line x1="853.9" y1="545.7" x2="864.4" y2="545.7" stroke="#3c3c3c" stroke-width="1.25"/>
<line x1="859.2" y1="619.0" x2="864.4" y2="619.0" stroke="#3c3c3c" stroke-width="1.25"/>
<line x1="853.9" y1="692.3" x2="864.4" y2="692.3" stroke="#3c3c3c" stroke-width="1.25"/>
<line x1="859.2" y1="765.7" x2="864.4" y2="765.7" stroke="#3c3c3c" stroke-width="1.25"/>
<line x1="853.9" y1="839.0" x2="864.4" y2="839.0" stroke="#3c3c3c" stroke-width="1.25"/>
<line x1="859.2" y1="912.4" x2="864.4" y2="912.4" stroke="#3c3c3c" stroke-width="1.25"/>
<line x1="853.9" y1="985.7" x2="864.4" y2="985.7" stroke="#3c3c3c" stroke-width="1.25"/>
<line x1="942.8" y1="985.7" x2="942.8" y2="996.7" stroke="#3c3c3c" stroke-width="1.25"/>
<text x="942.8" y="1052.2" font-size="48" text-anchor="middle" fill="#262626">121.6</text>
<line x1="1161.5" y1="985.7" x2="1161.5" y2="996.7" stroke="#3c3c3c" stroke-width="1.25"/>
<text x="1161.5" y="1052.2" font-size="48" text-anchor="middle" fill="#262626">121.8</text>
<line x1="1379.7" y1="985.7" x2="1379.7" y2="996.7" stroke="#3c3c3c" stroke-width="1.25"/>
<text x="1379.7" y="1052.2" font-size="48" text-anchor="middle" fill="#262626">122</text>
<line x1="1052.1" y1="985.7" x2="1052.1" y2="991.1" stroke="#3c3c3c" stroke-width="1.25"/>
<line x1="1270.3" y1="985.7" x2="1270.3" y2="991.1" stroke="#3c3c3c" stroke-width="1.25"/>
<line x1="1488.8" y1="985.7" x2="1488.8" y2="991.1" stroke="#3c3c3c" stroke-width="1.25"/>
<line x1="864.4" y1="17.6" x2="864.4" y2="985.7" stroke="#4a4a4a" stroke-width="1"/>
<line x1="864.4" y1="985.7" x2="1556.4" y2="985.7" stroke="#4a4a4a" stroke-width="0.9" opacity="0.6"/>
<text x="897.2" y="953.8" font-size="53" font-weight="bold" fill="#000">(B) Transect b</text>
<g clip-path="url(#cp2)">
<rect x="1607.2" y="17.6" width="692.0" height="968.1" fill="#f7f71c"/>
<rect x="1607.0" y="16.6" width="13.0" height="970.1" fill="url(#g2_0)"/>
<rect x="1607.0" y="16.6" width="12.0" height="970.1" fill="url(#g2_1)" mask="url(#hm)"/>
<rect x="1619.0" y="16.6" width="12.0" height="970.1" fill="url(#g2_1)"/>
<rect x="1619.0" y="16.6" width="11.0" height="970.1" fill="url(#g2_2)" mask="url(#hm)"/>
<rect x="1630.0" y="16.6" width="13.0" height="970.1" fill="url(#g2_2)"/>
<rect x="1630.0" y="16.6" width="12.0" height="970.1" fill="url(#g2_3)" mask="url(#hm)"/>
<rect x="1642.0" y="16.6" width="12.0" height="970.1" fill="url(#g2_3)"/>
<rect x="1642.0" y="16.6" width="11.0" height="970.1" fill="url(#g2_4)" mask="url(#hm)"/>
<rect x="1653.0" y="16.6" width="13.0" height="970.1" fill="url(#g2_4)"/>
<rect x="1653.0" y="16.6" width="12.0" height="970.1" fill="url(#g2_5)" mask="url(#hm)"/>
<rect x="1665.0" y="16.6" width="12.0" height="970.1" fill="url(#g2_5)"/>
<rect x="1665.0" y="16.6" width="11.0" height="970.1" fill="url(#g2_6)" mask="url(#hm)"/>
<rect x="1676.0" y="16.6" width="13.0" height="970.1" fill="url(#g2_6)"/>
<rect x="1676.0" y="16.6" width="12.0" height="970.1" fill="url(#g2_7)" mask="url(#hm)"/>
<rect x="1688.0" y="16.6" width="12.0" height="970.1" fill="url(#g2_7)"/>
<rect x="1688.0" y="16.6" width="11.0" height="970.1" fill="url(#g2_8)" mask="url(#hm)"/>
<rect x="1699.0" y="16.6" width="13.0" height="970.1" fill="url(#g2_8)"/>
<rect x="1699.0" y="16.6" width="12.0" height="970.1" fill="url(#g2_9)" mask="url(#hm)"/>
<rect x="1711.0" y="16.6" width="13.0" height="970.1" fill="url(#g2_9)"/>
<rect x="1711.0" y="16.6" width="12.0" height="970.1" fill="url(#g2_10)" mask="url(#hm)"/>
<rect x="1723.0" y="16.6" width="12.0" height="970.1" fill="url(#g2_10)"/>
<rect x="1723.0" y="16.6" width="11.0" height="970.1" fill="url(#g2_11)" mask="url(#hm)"/>
<rect x="1734.0" y="16.6" width="13.0" height="970.1" fill="url(#g2_11)"/>
<rect x="1734.0" y="16.6" width="12.0" height="970.1" fill="url(#g2_12)" mask="url(#hm)"/>
<rect x="1746.0" y="16.6" width="12.0" height="970.1" fill="url(#g2_12)"/>
<rect x="1746.0" y="16.6" width="11.0" height="970.1" fill="url(#g2_13)" mask="url(#hm)"/>
<rect x="1757.0" y="16.6" width="13.0" height="970.1" fill="url(#g2_13)"/>
<rect x="1757.0" y="16.6" width="12.0" height="970.1" fill="url(#g2_14)" mask="url(#hm)"/>
<rect x="1769.0" y="16.6" width="12.0" height="970.1" fill="url(#g2_14)"/>
<rect x="1769.0" y="16.6" width="11.0" height="970.1" fill="url(#g2_15)" mask="url(#hm)"/>
<rect x="1780.0" y="16.6" width="13.0" height="970.1" fill="url(#g2_15)"/>
<rect x="1780.0" y="16.6" width="12.0" height="970.1" fill="url(#g2_16)" mask="url(#hm)"/>
<rect x="1792.0" y="16.6" width="12.0" height="970.1" fill="url(#g2_16)"/>
<rect x="1792.0" y="16.6" width="11.0" height="970.1" fill="url(#g2_17)" mask="url(#hm)"/>
<rect x="1803.0" y="16.6" width="13.0" height="970.1" fill="url(#g2_17)"/>
<rect x="1803.0" y="16.6" width="12.0" height="970.1" fill="url(#g2_18)" mask="url(#hm)"/>
<rect x="1815.0" y="16.6" width="12.0" height="970.1" fill="url(#g2_18)"/>
<rect x="1815.0" y="16.6" width="11.0" height="970.1" fill="url(#g2_19)" mask="url(#hm)"/>
<rect x="1826.0" y="16.6" width="13.0" height="970.1" fill="url(#g2_19)"/>
<rect x="1826.0" y="16.6" width="12.0" height="970.1" fill="url(#g2_20)" mask="url(#hm)"/>
<rect x="1838.0" y="16.6" width="12.0" height="970.1" fill="url(#g2_20)"/>
<rect x="1838.0" y="16.6" width="11.0" height="970.1" fill="url(#g2_21)" mask="url(#hm)"/>
<rect x="1849.0" y="16.6" width="13.0" height="970.1" fill="url(#g2_21)"/>
<rect x="1849.0" y="16.6" width="12.0" height="970.1" fill="url(#g2_22)" mask="url(#hm)"/>
<rect x="1861.0" y="16.6" width="12.0" height="970.1" fill="url(#g2_22)"/>
<rect x="1861.0" y="16.6" width="11.0" height="970.1" fill="url(#g2_23)" mask="url(#hm)"/>
<rect x="1872.0" y="16.6" width="13.0" height="970.1" fill="url(#g2_23)"/>
<rect x="1872.0" y="16.6" width="12.0" height="970.1" fill="url(#g2_24)" mask="url(#hm)"/>
<rect x="1884.0" y="16.6" width="13.0" height="970.1" fill="url(#g2_24)"/>
<rect x="1884.0" y="16.6" width="12.0" height="970.1" fill="url(#g2_25)" mask="url(#hm)"/>
<rect x="1896.0" y="16.6" width="12.0" height="970.1" fill="url(#g2_25)"/>
<rect x="1896.0" y="16.6" width="11.0" height="970.1" fill="url(#g2_26)" mask="url(#hm)"/>
<rect x="1907.0" y="16.6" width="13.0" height="970.1" fill="url(#g2_26)"/>
<rect x="1907.0" y="16.6" width="12.0" height="970.1" fill="url(#g2_27)" mask="url(#hm)"/>
<rect x="1919.0" y="16.6" width="12.0" height="970.1" fill="url(#g2_27)"/>
<rect x="1919.0" y="16.6" width="11.0" height="970.1" fill="url(#g2_28)" mask="url(#hm)"/>
<rect x="1930.0" y="16.6" width="13.0" height="970.1" fill="url(#g2_28)"/>
<rect x="1930.0" y="16.6" width="12.0" height="970.1" fill="url(#g2_29)" mask="url(#hm)"/>
<rect x="1942.0" y="16.6" width="12.0" height="970.1" fill="url(#g2_29)"/>
<rect x="1942.0" y="16.6" width="11.0" height="970.1" fill="url(#g2_30)" mask="url(#hm)"/>
<rect x="1953.0" y="16.6" width="13.0" height="970.1" fill="url(#g2_30)"/>
<rect x="1953.0" y="16.6" width="12.0" height="970.1" fill="url(#g2_31)" mask="url(#hm)"/>
<rect x="1965.0" y="16.6" width="12.0" height="970.1" fill="url(#g2_31)"/>
<rect x="1965.0" y="16.6" width="11.0" height="970.1" fill="url(#g2_32)" mask="url(#hm)"/>
<rect x="1976.0" y="16.6" width="13.0" height="970.1" fill="url(#g2_32)"/>
<rect x="1976.0" y="16.6" width="12.0" height="970.1" fill="url(#g2_33)" mask="url(#hm)"/>
<rect x="1988.0" y="16.6" width="12.0" height="970.1" fill="url(#g2_33)"/>
<rect x="1988.0" y="16.6" width="11.0" height="970.1" fill="url(#g2_34)" mask="url(#hm)"/>
<rect x="1999.0" y="16.6" width="13.0" height="970.1" fill="url(#g2_34)"/>
<rect x="1999.0" y="16.6" width="12.0" height="970.1" fill="url(#g2_35)" mask="url(#hm)"/>
<rect x="2011.0" y="16.6" width="12.0" height="970.1" fill="url(#g2_35)"/>
<rect x="2011.0" y="16.6" width="11.0" height="970.1" fill="url(#g2_36)" mask="url(#hm)"/>
<rect x="2022.0" y="16.6" width="13.0" height="970.1" fill="url(#g2_36)"/>
<rect x="2022.0" y="16.6" width="12.0" height="970.1" fill="url(#g2_37)" mask="url(#hm)"/>
<rect x="2034.0" y="16.6" width="12.0" height="970.1" fill="url(#g2_37)"/>
<rect x="2034.0" y="16.6" width="11.0" height="970.1" fill="url(#g2_38)" mask="url(#hm)"/>
<rect x="2045.0" y="16.6" width="13.0" height="970.1" fill="url(#g2_38)"/>
<rect x="2045.0" y="16.6" width="12.0" height="970.1" fill="url(#g2_39)" mask="url(#hm)"/>
<rect x="2057.0" y="16.6" width="13.0" height="970.1" fill="url(#g2_39)"/>
<rect x="2057.0" y="16.6" width="12.0" height="970.1" fill="url(#g2_40)" mask="url(#hm)"/>
<rect x="2069.0" y="16.6" width="12.0" height="970.1" fill="url(#g2_40)"/>
<rect x="2069.0" y="16.6" width="11.0" height="970.1" fill="url(#g2_41)" mask="url(#hm)"/>
<rect x="2080.0" y="16.6" width="13.0" height="970.1" fill="url(#g2_41)"/>
<rect x="2080.0" y="16.6" width="12.0" height="970.1" fill="url(#g2_42)" mask="url(#hm)"/>
<rect x="2092.0" y="16.6" width="12.0" height="970.1" fill="url(#g2_42)"/>
<rect x="2092.0" y="16.6" width="11.0" height="970.1" fill="url(#g2_43)" mask="url(#hm)"/>
<rect x="2103.0" y="16.6" width="13.0" height="970.1" fill="url(#g2_43)"/>
<rect x="2103.0" y="16.6" width="12.0" height="970.1" fill="url(#g2_44)" mask="url(#hm)"/>
<rect x="2115.0" y="16.6" width="12.0" height="970.1" fill="url(#g2_44)"/>
<rect x="2115.0" y="16.6" width="11.0" height="970.1" fill="url(#g2_45)" mask="url(#hm)"/>
<rect x="2126.0" y="16.6" width="13.0" height="970.1" fill="url(#g2_45)"/>
<rect x="2126.0" y="16.6" width="12.0" height="970.1" fill="url(#g2_46)" mask="url(#hm)"/>
<rect x="2138.0" y="16.6" width="12.0" height="970.1" fill="url(#g2_46)"/>
<rect x="2138.0" y="16.6" width="11.0" height="970.1" fill="url(#g2_47)" mask="url(#hm)"/>
<rect x="2149.0" y="16.6" width="13.0" height="970.1" fill="url(#g2_47)"/>
<rect x="2149.0" y="16.6" width="12.0" height="970.1" fill="url(#g2_48)" mask="url(#hm)"/>
<rect x="2161.0" y="16.6" width="12.0" height="970.1" fill="url(#g2_48)"/>
<rect x="2161.0" y="16.6" width="11.0" height="970.1" fill="url(#g2_49)" mask="url(#hm)"/>
<rect x="2172.0" y="16.6" width="13.0" height="970.1" fill="url(#g2_49)"/>
<rect x="2172.0" y="16.6" width="12.0" height="970.1" fill="url(#g2_50)" mask="url(#hm)"/>
<rect x="2184.0" y="16.6" width="12.0" height="970.1" fill="url(#g2_50)"/>
<rect x="2184.0" y="16.6" width="11.0" height="970.1" fill="url(#g2_51)" mask="url(#hm)"/>
<rect x="2195.0" y="16.6" width="13.0" height="970.1" fill="url(#g2_51)"/>
<rect x="2195.0" y="16.6" width="12.0" height="970.1" fill="url(#g2_52)" mask="url(#hm)"/>
<rect x="2207.0" y="16.6" width="12.0" height="970.1" fill="url(#g2_52)"/>
<rect x="2207.0" y="16.6" width="11.0" height="970.1" fill="url(#g2_53)" mask="url(#hm)"/>
<rect x="2218.0" y="16.6" width="13.0" height="970.1" fill="url(#g2_53)"/>
<rect x="2218.0" y="16.6" width="12.0" height="970.1" fill="url(#g2_54)" mask="url(#hm)"/>
<rect x="2230.0" y="16.6" width="13.0" height="970.1" fill="url(#g2_54)"/>
<rect x="2230.0" y="16.6" width="12.0" height="970.1" fill="url(#g2_55)" mask="url(#hm)"/>
<rect x="2242.0" y="16.6" width="12.0" height="970.1" fill="url(#g2_55)"/>
<rect x="2242.0" y="16.6" width="11.0" height="970.1" fill="url(#g2_56)" mask="url(#hm)"/>
<rect x="2253.0" y="16.6" width="13.0" height="970.1" fill="url(#g2_56)"/>
<rect x="2253.0" y="16.6" width="12.0" height="970.1" fill="url(#g2_57)" mask="url(#hm)"/>
<rect x="2265.0" y="16.6" width="12.0" height="970.1" fill="url(#g2_57)"/>
<rect x="2265.0" y="16.6" width="11.0" height="970.1" fill="url(#g2_58)" mask="url(#hm)"/>
<rect x="2276.0" y="16.6" width="13.0" height="970.1" fill="url(#g2_58)"/>
<rect x="2276.0" y="16.6" width="12.0" height="970.1" fill="url(#g2_59)" mask="url(#hm)"/>
<rect x="2288.0" y="16.6" width="13.0" height="970.1" fill="url(#g2_59)"/>
<rect x="2288.0" y="16.6" width="12.0" height="970.1" fill="url(#g2_60)" mask="url(#hm)"/>
<circle cx="1715.0" cy="32.3" r="11.3" fill="#1ea8e0" stroke="#000" stroke-width="1.9"/>
<circle cx="1715.0" cy="76.3" r="11.3" fill="#1ea8e0" stroke="#000" stroke-width="1.9"/>
<circle cx="1715.0" cy="120.3" r="11.3" fill="#1ea8e0" stroke="#000" stroke-width="1.9"/>
<circle cx="1715.0" cy="164.3" r="11.3" fill="#02bac4" stroke="#000" stroke-width="1.9"/>
<circle cx="1715.0" cy="208.3" r="11.3" fill="#3dc990" stroke="#000" stroke-width="1.9"/>
<circle cx="1715.0" cy="252.3" r="11.3" fill="#81cc59" stroke="#000" stroke-width="1.9"/>
<circle cx="1715.0" cy="296.3" r="11.3" fill="#c8c129" stroke="#000" stroke-width="1.9"/>
<circle cx="1810.9" cy="32.3" r="11.3" fill="#3dc990" stroke="#000" stroke-width="1.9"/>
<circle cx="1810.9" cy="76.3" r="11.3" fill="#6acd6a" stroke="#000" stroke-width="1.9"/>
<circle cx="1810.9" cy="120.3" r="11.3" fill="#81cc59" stroke="#000" stroke-width="1.9"/>
<circle cx="1810.9" cy="164.3" r="11.3" fill="#90ca4d" stroke="#000" stroke-width="1.9"/>
<circle cx="1810.9" cy="208.3" r="11.3" fill="#97ca47" stroke="#000" stroke-width="1.9"/>
<circle cx="1810.9" cy="252.3" r="11.3" fill="#a6c83c" stroke="#000" stroke-width="1.9"/>
<circle cx="1810.9" cy="296.3" r="11.3" fill="#c8c129" stroke="#000" stroke-width="1.9"/>
<circle cx="1810.9" cy="340.3" r="11.3" fill="#fbbc3d" stroke="#000" stroke-width="1.9"/>
<circle cx="1810.9" cy="384.3" r="11.3" fill="#febe3c" stroke="#000" stroke-width="1.9"/>
<circle cx="1910.1" cy="32.3" r="11.3" fill="#e0bc2a" stroke="#000" stroke-width="1.9"/>
<circle cx="1910.1" cy="76.3" r="11.3" fill="#e5bb2d" stroke="#000" stroke-width="1.9"/>
<circle cx="1910.1" cy="120.3" r="11.3" fill="#fec13a" stroke="#000" stroke-width="1.9"/>
<circle cx="1910.1" cy="164.3" r="11.3" fill="#fec735" stroke="#000" stroke-width="1.9"/>
<circle cx="1910.1" cy="208.3" r="11.3" fill="#feca33" stroke="#000" stroke-width="1.9"/>
<circle cx="1910.1" cy="252.3" r="11.3" fill="#feca33" stroke="#000" stroke-width="1.9"/>
<circle cx="1910.1" cy="296.3" r="11.3" fill="#feca33" stroke="#000" stroke-width="1.9"/>
<circle cx="1910.1" cy="340.3" r="11.3" fill="#feca33" stroke="#000" stroke-width="1.9"/>
<circle cx="1910.1" cy="384.3" r="11.3" fill="#feca33" stroke="#000" stroke-width="1.9"/>
<circle cx="1910.1" cy="428.3" r="11.3" fill="#feca33" stroke="#000" stroke-width="1.9"/>
<circle cx="1910.1" cy="472.3" r="11.3" fill="#feca33" stroke="#000" stroke-width="1.9"/>
<circle cx="2010.1" cy="32.3" r="11.3" fill="#f7db2b" stroke="#000" stroke-width="1.9"/>
<circle cx="2010.1" cy="76.3" r="11.3" fill="#f7db2b" stroke="#000" stroke-width="1.9"/>
<circle cx="2010.1" cy="120.3" r="11.3" fill="#f7db2b" stroke="#000" stroke-width="1.9"/>
<circle cx="2010.1" cy="164.3" r="11.3" fill="#f7db2b" stroke="#000" stroke-width="1.9"/>
<circle cx="2010.1" cy="208.3" r="11.3" fill="#f7db2b" stroke="#000" stroke-width="1.9"/>
<circle cx="2010.1" cy="252.3" r="11.3" fill="#f7db2b" stroke="#000" stroke-width="1.9"/>
<circle cx="2010.1" cy="296.3" r="11.3" fill="#f7db2b" stroke="#000" stroke-width="1.9"/>
<circle cx="2010.1" cy="340.3" r="11.3" fill="#f7db2b" stroke="#000" stroke-width="1.9"/>
<circle cx="2010.1" cy="384.3" r="11.3" fill="#f7db2b" stroke="#000" stroke-width="1.9"/>
<circle cx="2010.1" cy="428.3" r="11.3" fill="#f7db2b" stroke="#000" stroke-width="1.9"/>
<circle cx="2010.1" cy="472.3" r="11.3" fill="#f7db2b" stroke="#000" stroke-width="1.9"/>
<circle cx="2010.1" cy="516.3" r="11.3" fill="#f7db2b" stroke="#000" stroke-width="1.9"/>
<circle cx="2010.1" cy="560.3" r="11.3" fill="#f7db2b" stroke="#000" stroke-width="1.9"/>
<circle cx="2097.8" cy="32.3" r="11.3" fill="#f6de29" stroke="#000" stroke-width="1.9"/>
<circle cx="2097.8" cy="76.3" r="11.3" fill="#f6de29" stroke="#000" stroke-width="1.9"/>
<circle cx="2097.8" cy="120.3" r="11.3" fill="#f6de29" stroke="#000" stroke-width="1.9"/>
<circle cx="2097.8" cy="164.3" r="11.3" fill="#f6de29" stroke="#000" stroke-width="1.9"/>
<circle cx="2097.8" cy="208.3" r="11.3" fill="#f6de29" stroke="#000" stroke-width="1.9"/>
<circle cx="2097.8" cy="252.3" r="11.3" fill="#f6de29" stroke="#000" stroke-width="1.9"/>
<circle cx="2097.8" cy="296.3" r="11.3" fill="#f6de29" stroke="#000" stroke-width="1.9"/>
<circle cx="2097.8" cy="340.3" r="11.3" fill="#f6de29" stroke="#000" stroke-width="1.9"/>
<circle cx="2097.8" cy="384.3" r="11.3" fill="#f6de29" stroke="#000" stroke-width="1.9"/>
<circle cx="2097.8" cy="428.3" r="11.3" fill="#f6de29" stroke="#000" stroke-width="1.9"/>
<circle cx="2097.8" cy="472.3" r="11.3" fill="#f6de29" stroke="#000" stroke-width="1.9"/>
<circle cx="2097.8" cy="516.3" r="11.3" fill="#f6de29" stroke="#000" stroke-width="1.9"/>
<circle cx="2097.8" cy="560.3" r="11.3" fill="#f6de29" stroke="#000" stroke-width="1.9"/>
<circle cx="2097.8" cy="604.3" r="11.3" fill="#f6de29" stroke="#000" stroke-width="1.9"/>
<circle cx="2097.8" cy="648.3" r="11.3" fill="#f6de29" stroke="#000" stroke-width="1.9"/>
<circle cx="2191.6" cy="32.3" r="11.3" fill="#f5e825" stroke="#000" stroke-width="1.9"/>
<circle cx="2191.6" cy="76.3" r="11.3" fill="#f5e825" stroke="#000" stroke-width="1.9"/>
<circle cx="2191.6" cy="120.3" r="11.3" fill="#f5e825" stroke="#000" stroke-width="1.9"/>
<circle cx="2191.6" cy="164.3" r="11.3" fill="#f5e825" stroke="#000" stroke-width="1.9"/>
<circle cx="2191.6" cy="208.3" r="11.3" fill="#f5e825" stroke="#000" stroke-width="1.9"/>
<circle cx="2191.6" cy="252.3" r="11.3" fill="#f5e825" stroke="#000" stroke-width="1.9"/>
<circle cx="2191.6" cy="296.3" r="11.3" fill="#f5e825" stroke="#000" stroke-width="1.9"/>
<circle cx="2191.6" cy="340.3" r="11.3" fill="#f5e825" stroke="#000" stroke-width="1.9"/>
<circle cx="2191.6" cy="384.3" r="11.3" fill="#f5e825" stroke="#000" stroke-width="1.9"/>
<circle cx="2191.6" cy="428.3" r="11.3" fill="#f5e825" stroke="#000" stroke-width="1.9"/>
<circle cx="2191.6" cy="472.3" r="11.3" fill="#f5e825" stroke="#000" stroke-width="1.9"/>
<circle cx="2191.6" cy="516.3" r="11.3" fill="#f5e825" stroke="#000" stroke-width="1.9"/>
<circle cx="2191.6" cy="560.3" r="11.3" fill="#f5e825" stroke="#000" stroke-width="1.9"/>
<circle cx="2191.6" cy="604.3" r="11.3" fill="#f5e825" stroke="#000" stroke-width="1.9"/>
<circle cx="2191.6" cy="648.3" r="11.3" fill="#f5e825" stroke="#000" stroke-width="1.9"/>
<circle cx="2191.6" cy="692.3" r="11.3" fill="#f5e825" stroke="#000" stroke-width="1.9"/>
<circle cx="2191.6" cy="736.3" r="11.3" fill="#f5e825" stroke="#000" stroke-width="1.9"/>
<circle cx="2191.6" cy="780.3" r="11.3" fill="#f5e825" stroke="#000" stroke-width="1.9"/>
<circle cx="2191.6" cy="824.4" r="11.3" fill="#f5e825" stroke="#000" stroke-width="1.9"/>
<circle cx="2191.6" cy="868.4" r="11.3" fill="#f5e825" stroke="#000" stroke-width="1.9"/>
<circle cx="2191.6" cy="912.4" r="11.3" fill="#f5e825" stroke="#000" stroke-width="1.9"/>
<polygon points="1605.2,987.7 1607.2,173.5 1656.9,227.0 1706.0,278.3 1757.3,329.6 1804.1,371.9 1846.5,414.3 1893.3,472.3 1935.7,520.0 1978.0,552.6 2025.2,588.4 2070.3,657.0 2117.5,778.0 2159.3,897.0 2205.7,983.2 2208.6,985.2 2208.6,987.7" fill="#808080"/>
</g>
<line x1="1602.0" y1="32.3" x2="1607.2" y2="32.3" stroke="#3c3c3c" stroke-width="1.25"/>
<line x1="1596.7" y1="105.6" x2="1607.2" y2="105.6" stroke="#3c3c3c" stroke-width="1.25"/>
<line x1="1602.0" y1="178.9" x2="1607.2" y2="178.9" stroke="#3c3c3c" stroke-width="1.25"/>
<line x1="1596.7" y1="252.3" x2="1607.2" y2="252.3" stroke="#3c3c3c" stroke-width="1.25"/>
<line x1="1602.0" y1="325.6" x2="1607.2" y2="325.6" stroke="#3c3c3c" stroke-width="1.25"/>
<line x1="1596.7" y1="399.0" x2="1607.2" y2="399.0" stroke="#3c3c3c" stroke-width="1.25"/>
<line x1="1602.0" y1="472.3" x2="1607.2" y2="472.3" stroke="#3c3c3c" stroke-width="1.25"/>
<line x1="1596.7" y1="545.7" x2="1607.2" y2="545.7" stroke="#3c3c3c" stroke-width="1.25"/>
<line x1="1602.0" y1="619.0" x2="1607.2" y2="619.0" stroke="#3c3c3c" stroke-width="1.25"/>
<line x1="1596.7" y1="692.3" x2="1607.2" y2="692.3" stroke="#3c3c3c" stroke-width="1.25"/>
<line x1="1602.0" y1="765.7" x2="1607.2" y2="765.7" stroke="#3c3c3c" stroke-width="1.25"/>
<line x1="1596.7" y1="839.0" x2="1607.2" y2="839.0" stroke="#3c3c3c" stroke-width="1.25"/>
<line x1="1602.0" y1="912.4" x2="1607.2" y2="912.4" stroke="#3c3c3c" stroke-width="1.25"/>
<line x1="1596.7" y1="985.7" x2="1607.2" y2="985.7" stroke="#3c3c3c" stroke-width="1.25"/>
<line x1="1783.9" y1="985.7" x2="1783.9" y2="996.7" stroke="#3c3c3c" stroke-width="1.25"/>
<text x="1783.9" y="1052.2" font-size="48" text-anchor="middle" fill="#262626">121.4</text>
<line x1="1998.9" y1="985.7" x2="1998.9" y2="996.7" stroke="#3c3c3c" stroke-width="1.25"/>
<text x="1998.9" y="1052.2" font-size="48" text-anchor="middle" fill="#262626">121.6</text>
<line x1="2214.4" y1="985.7" x2="2214.4" y2="996.7" stroke="#3c3c3c" stroke-width="1.25"/>
<text x="2214.4" y="1052.2" font-size="48" text-anchor="middle" fill="#262626">121.8</text>
<line x1="1675.6" y1="985.7" x2="1675.6" y2="991.1" stroke="#3c3c3c" stroke-width="1.25"/>
<line x1="1891.1" y1="985.7" x2="1891.1" y2="991.1" stroke="#3c3c3c" stroke-width="1.25"/>
<line x1="2106.6" y1="985.7" x2="2106.6" y2="991.1" stroke="#3c3c3c" stroke-width="1.25"/>
<line x1="1607.2" y1="17.6" x2="1607.2" y2="985.7" stroke="#4a4a4a" stroke-width="1"/>
<line x1="1607.2" y1="985.7" x2="2299.2" y2="985.7" stroke="#4a4a4a" stroke-width="0.9" opacity="0.6"/>
<text x="1639.6" y="953.8" font-size="53" font-weight="bold" fill="#000">(C) Transect c</text>
<rect x="2337.3" y="17.6" width="39.0" height="968.1" fill="url(#cb)" stroke="#3a3a3a" stroke-width="1"/>
<text x="2389.6" y="1003.0" font-size="48" fill="#262626">22</text>
<line x1="2366.3" y1="824.4" x2="2376.3" y2="824.4" stroke="#3c3c3c" stroke-width="1.25"/>
<text x="2389.6" y="841.6" font-size="48" fill="#262626">24</text>
<line x1="2366.3" y1="663.0" x2="2376.3" y2="663.0" stroke="#3c3c3c" stroke-width="1.25"/>
<text x="2389.6" y="680.3" font-size="48" fill="#262626">26</text>
<line x1="2366.3" y1="501.7" x2="2376.3" y2="501.7" stroke="#3c3c3c" stroke-width="1.25"/>
<text x="2389.6" y="519.0" font-size="48" fill="#262626">28</text>
<line x1="2366.3" y1="340.3" x2="2376.3" y2="340.3" stroke="#3c3c3c" stroke-width="1.25"/>
<text x="2389.6" y="357.6" font-size="48" fill="#262626">30</text>
<line x1="2366.3" y1="179.0" x2="2376.3" y2="179.0" stroke="#3c3c3c" stroke-width="1.25"/>
<text x="2389.6" y="196.3" font-size="48" fill="#262626">32</text>
<text x="2389.6" y="34.9" font-size="48" fill="#262626">34</text>
<text transform="translate(36.3,501.3) rotate(-90)" font-size="48" text-anchor="middle" fill="#262626">Depth (m)</text>
<text transform="translate(2487.3,501.3) rotate(-90)" font-size="48" text-anchor="middle" fill="#262626">Salinity (PSU)</text>
<text x="1210.5" y="1107.8" font-size="48" text-anchor="middle" fill="#262626">Longitude(°)</text>
</svg></body></html>
